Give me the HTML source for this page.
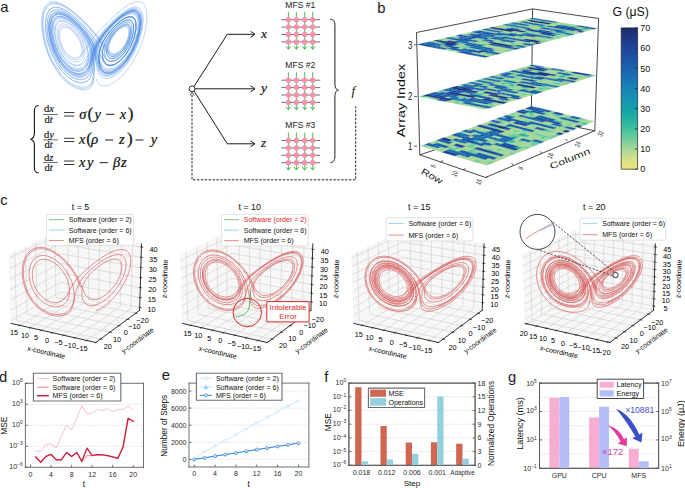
<!DOCTYPE html>
<html><head><meta charset="utf-8"><title>Figure</title><style>html,body{margin:0;padding:0;background:#fff;width:685px;height:488px;overflow:hidden}svg{display:block}</style></head><body>
<svg width="685" height="488" viewBox="0 0 685 488" version="1.1">
<defs>
<style type="text/css">*{stroke-linejoin: round; stroke-linecap: butt}</style>
</defs>
<g id="figure_1">
<g id="patch_1">
<path d="M 0 488 
L 685 488 
L 685 0 
L 0 0 
z
" style="fill: #ffffff"/>
</g>
<g id="axes_1"/>
<g id="patch_2">
<path d="M 0.5 359.7 
L 149 359.7 
L 149 211.2 
L 0.5 211.2 
z
" style="fill: #ffffff"/>
</g>
<g id="pane3d_1">
<g id="patch_3">
<path d="M 60.32 294.59 
L 11.2 323.45 
L 9.19 254.57 
L 59.86 231.23 
" style="fill: #f2f2f2; opacity: 0.6; stroke: #f2f2f2; stroke-linejoin: miter"/>
</g>
</g>
<g id="pane3d_2">
<g id="patch_4">
<path d="M 139.64 310.32 
L 60.32 294.59 
L 59.86 231.23 
L 141.5 243.93 
" style="fill: #f2f2f2; opacity: 0.6; stroke: #f2f2f2; stroke-linejoin: miter"/>
</g>
</g>
<g id="pane3d_3">
<g id="patch_5">
<path d="M 139.64 310.32 
L 60.32 294.59 
L 11.2 323.45 
L 95.88 342.53 
" style="fill: #f2f2f2; opacity: 0.6; stroke: #f2f2f2; stroke-linejoin: miter"/>
</g>
</g>
<g id="grid3d_1">
<g id="Line3DCollection_1">
<path d="M 86.68 340.46 
L 131.07 308.62 
L 132.66 242.55 
" style="fill: none; stroke: #c7c7c7; stroke-width: 0.5"/>
<path d="M 75.05 337.84 
L 120.21 306.46 
L 121.47 240.81 
" style="fill: none; stroke: #c7c7c7; stroke-width: 0.5"/>
<path d="M 63.6 335.26 
L 109.5 304.34 
L 110.45 239.1 
" style="fill: none; stroke: #c7c7c7; stroke-width: 0.5"/>
<path d="M 52.33 332.72 
L 98.95 302.25 
L 99.58 237.41 
" style="fill: none; stroke: #c7c7c7; stroke-width: 0.5"/>
<path d="M 41.22 330.22 
L 88.53 300.18 
L 88.87 235.74 
" style="fill: none; stroke: #c7c7c7; stroke-width: 0.5"/>
<path d="M 30.28 327.75 
L 78.26 298.15 
L 78.3 234.1 
" style="fill: none; stroke: #c7c7c7; stroke-width: 0.5"/>
<path d="M 19.5 325.32 
L 68.12 296.14 
L 67.88 232.48 
" style="fill: none; stroke: #c7c7c7; stroke-width: 0.5"/>
</g>
</g>
<g id="grid3d_2">
<g id="Line3DCollection_2">
<path d="M 55.21 233.37 
L 55.8 297.24 
L 135.64 313.26 
" style="fill: none; stroke: #c7c7c7; stroke-width: 0.5"/>
<path d="M 45.66 237.77 
L 46.53 302.69 
L 127.41 319.33 
" style="fill: none; stroke: #c7c7c7; stroke-width: 0.5"/>
<path d="M 35.74 242.33 
L 36.91 308.34 
L 118.84 325.63 
" style="fill: none; stroke: #c7c7c7; stroke-width: 0.5"/>
<path d="M 25.43 247.08 
L 26.92 314.22 
L 109.94 332.18 
" style="fill: none; stroke: #c7c7c7; stroke-width: 0.5"/>
<path d="M 14.71 252.02 
L 16.54 320.31 
L 100.66 339.01 
" style="fill: none; stroke: #c7c7c7; stroke-width: 0.5"/>
</g>
</g>
<g id="grid3d_3">
<g id="Line3DCollection_3">
<path d="M 139.73 307.38 
L 60.29 291.78 
L 11.11 320.41 
" style="fill: none; stroke: #c7c7c7; stroke-width: 0.5"/>
<path d="M 140 297.54 
L 60.23 282.38 
L 10.81 310.21 
" style="fill: none; stroke: #c7c7c7; stroke-width: 0.5"/>
<path d="M 140.28 287.62 
L 60.16 272.9 
L 10.51 299.92 
" style="fill: none; stroke: #c7c7c7; stroke-width: 0.5"/>
<path d="M 140.56 277.61 
L 60.09 263.34 
L 10.21 289.53 
" style="fill: none; stroke: #c7c7c7; stroke-width: 0.5"/>
<path d="M 140.84 267.5 
L 60.02 253.7 
L 9.9 279.05 
" style="fill: none; stroke: #c7c7c7; stroke-width: 0.5"/>
<path d="M 141.12 257.31 
L 59.95 243.99 
L 9.59 268.47 
" style="fill: none; stroke: #c7c7c7; stroke-width: 0.5"/>
<path d="M 141.41 247.03 
L 59.88 234.18 
L 9.28 257.79 
" style="fill: none; stroke: #c7c7c7; stroke-width: 0.5"/>
</g>
</g>
<g id="axis3d_1">
<g id="line2d_1">
<path d="M 11.2 323.45 
L 95.88 342.53 
" style="fill: none; stroke: #000000; stroke-width: 0.8; stroke-linecap: square"/>
</g>
<g id="xtick_1">
<g id="line2d_2">
<path d="M 87.08 340.18 
L 85.9 341.02 
" style="fill: none; stroke: #000000; stroke-width: 0.6; stroke-linecap: square"/>
</g>
<g id="text_1">
<text style="font-size: 7.3px; font-family: 'Liberation Sans'; text-anchor: middle" x="81.48" y="350.66" transform="rotate(-0 81.48 350.66)">−15</text>
</g>
</g>
<g id="xtick_2">
<g id="line2d_3">
<path d="M 75.45 337.56 
L 74.26 338.39 
" style="fill: none; stroke: #000000; stroke-width: 0.6; stroke-linecap: square"/>
</g>
<g id="text_2">
<text style="font-size: 7.3px; font-family: 'Liberation Sans'; text-anchor: middle" x="69.82" y="347.98" transform="rotate(-0 69.82 347.98)">−10</text>
</g>
</g>
<g id="xtick_3">
<g id="line2d_4">
<path d="M 64.01 334.99 
L 62.79 335.8 
" style="fill: none; stroke: #000000; stroke-width: 0.6; stroke-linecap: square"/>
</g>
<g id="text_3">
<text style="font-size: 7.3px; font-family: 'Liberation Sans'; text-anchor: middle" x="58.35" y="345.34" transform="rotate(-0 58.35 345.34)">−5</text>
</g>
</g>
<g id="xtick_4">
<g id="line2d_5">
<path d="M 52.74 332.45 
L 51.5 333.26 
" style="fill: none; stroke: #000000; stroke-width: 0.6; stroke-linecap: square"/>
</g>
<g id="text_4">
<text style="font-size: 7.3px; font-family: 'Liberation Sans'; text-anchor: middle" x="47.04" y="342.73" transform="rotate(-0 47.04 342.73)">0</text>
</g>
</g>
<g id="xtick_5">
<g id="line2d_6">
<path d="M 41.63 329.95 
L 40.38 330.75 
" style="fill: none; stroke: #000000; stroke-width: 0.6; stroke-linecap: square"/>
</g>
<g id="text_5">
<text style="font-size: 7.3px; font-family: 'Liberation Sans'; text-anchor: middle" x="35.91" y="340.17" transform="rotate(-0 35.91 340.17)">5</text>
</g>
</g>
<g id="xtick_6">
<g id="line2d_7">
<path d="M 30.7 327.49 
L 29.43 328.27 
" style="fill: none; stroke: #000000; stroke-width: 0.6; stroke-linecap: square"/>
</g>
<g id="text_6">
<text style="font-size: 7.3px; font-family: 'Liberation Sans'; text-anchor: middle" x="24.94" y="337.64" transform="rotate(-0 24.94 337.64)">10</text>
</g>
</g>
<g id="xtick_7">
<g id="line2d_8">
<path d="M 19.93 325.07 
L 18.64 325.84 
" style="fill: none; stroke: #000000; stroke-width: 0.6; stroke-linecap: square"/>
</g>
<g id="text_7">
<text style="font-size: 7.3px; font-family: 'Liberation Sans'; text-anchor: middle" x="14.14" y="335.16" transform="rotate(-0 14.14 335.16)">15</text>
</g>
</g>
<g id="text_8">
<text style="font-size: 7px; font-family: 'Liberation Sans'; text-anchor: middle" x="45.88" y="354.74" transform="rotate(-347.31 45.88 354.74)">x-coordinate</text>
</g>
</g>
<g id="axis3d_2">
<g id="line2d_9">
<path d="M 139.64 310.32 
L 95.88 342.53 
" style="fill: none; stroke: #000000; stroke-width: 0.8; stroke-linecap: square"/>
</g>
<g id="xtick_8">
<g id="line2d_10">
<path d="M 134.97 313.13 
L 136.99 313.53 
" style="fill: none; stroke: #000000; stroke-width: 0.6; stroke-linecap: square"/>
</g>
<g id="text_9">
<text style="font-size: 7.3px; font-family: 'Liberation Sans'; text-anchor: middle" x="142.51" y="322.80" transform="rotate(-0 142.51 322.80)">−20</text>
</g>
</g>
<g id="xtick_9">
<g id="line2d_11">
<path d="M 126.72 319.18 
L 128.77 319.61 
" style="fill: none; stroke: #000000; stroke-width: 0.6; stroke-linecap: square"/>
</g>
<g id="text_10">
<text style="font-size: 7.3px; font-family: 'Liberation Sans'; text-anchor: middle" x="134.35" y="328.95" transform="rotate(-0 134.35 328.95)">−10</text>
</g>
</g>
<g id="xtick_10">
<g id="line2d_12">
<path d="M 118.15 325.48 
L 120.23 325.92 
" style="fill: none; stroke: #000000; stroke-width: 0.6; stroke-linecap: square"/>
</g>
<g id="text_11">
<text style="font-size: 7.3px; font-family: 'Liberation Sans'; text-anchor: middle" x="125.86" y="335.34" transform="rotate(-0 125.86 335.34)">0</text>
</g>
</g>
<g id="xtick_11">
<g id="line2d_13">
<path d="M 109.24 332.03 
L 111.34 332.49 
" style="fill: none; stroke: #000000; stroke-width: 0.6; stroke-linecap: square"/>
</g>
<g id="text_12">
<text style="font-size: 7.3px; font-family: 'Liberation Sans'; text-anchor: middle" x="117.03" y="342.00" transform="rotate(-0 117.03 342.00)">10</text>
</g>
</g>
<g id="xtick_12">
<g id="line2d_14">
<path d="M 99.95 338.85 
L 102.09 339.33 
" style="fill: none; stroke: #000000; stroke-width: 0.6; stroke-linecap: square"/>
</g>
<g id="text_13">
<text style="font-size: 7.3px; font-family: 'Liberation Sans'; text-anchor: middle" x="107.84" y="348.93" transform="rotate(-0 107.84 348.93)">20</text>
</g>
</g>
<g id="text_14">
<text style="font-size: 7px; font-family: 'Liberation Sans'; text-anchor: middle" x="138.95" y="342.36" transform="rotate(-36.35 138.95 342.36)">y-coordinate</text>
</g>
</g>
<g id="axis3d_3">
<g id="line2d_15">
<path d="M 139.64 310.32 
L 141.5 243.93 
" style="fill: none; stroke: #000000; stroke-width: 0.8; stroke-linecap: square"/>
</g>
<g id="xtick_13">
<g id="line2d_16">
<path d="M 139.06 307.25 
L 141.07 307.65 
" style="fill: none; stroke: #000000; stroke-width: 0.6; stroke-linecap: square"/>
</g>
<g id="text_15">
<text style="font-size: 7.3px; font-family: 'Liberation Sans'; text-anchor: middle" x="151.58" y="311.87" transform="rotate(-0 151.58 311.87)">10</text>
</g>
</g>
<g id="xtick_14">
<g id="line2d_17">
<path d="M 139.33 297.42 
L 141.35 297.8 
" style="fill: none; stroke: #000000; stroke-width: 0.6; stroke-linecap: square"/>
</g>
<g id="text_16">
<text style="font-size: 7.3px; font-family: 'Liberation Sans'; text-anchor: middle" x="151.89" y="302.05" transform="rotate(-0 151.89 302.05)">15</text>
</g>
</g>
<g id="xtick_15">
<g id="line2d_18">
<path d="M 139.6 287.49 
L 141.63 287.87 
" style="fill: none; stroke: #000000; stroke-width: 0.6; stroke-linecap: square"/>
</g>
<g id="text_17">
<text style="font-size: 7.3px; font-family: 'Liberation Sans'; text-anchor: middle" x="152.20" y="292.15" transform="rotate(-0 152.20 292.15)">20</text>
</g>
</g>
<g id="xtick_16">
<g id="line2d_19">
<path d="M 139.88 277.49 
L 141.92 277.85 
" style="fill: none; stroke: #000000; stroke-width: 0.6; stroke-linecap: square"/>
</g>
<g id="text_18">
<text style="font-size: 7.3px; font-family: 'Liberation Sans'; text-anchor: middle" x="152.51" y="282.16" transform="rotate(-0 152.51 282.16)">25</text>
</g>
</g>
<g id="xtick_17">
<g id="line2d_20">
<path d="M 140.16 267.39 
L 142.2 267.74 
" style="fill: none; stroke: #000000; stroke-width: 0.6; stroke-linecap: square"/>
</g>
<g id="text_19">
<text style="font-size: 7.3px; font-family: 'Liberation Sans'; text-anchor: middle" x="152.83" y="272.08" transform="rotate(-0 152.83 272.08)">30</text>
</g>
</g>
<g id="xtick_18">
<g id="line2d_21">
<path d="M 140.44 257.2 
L 142.49 257.54 
" style="fill: none; stroke: #000000; stroke-width: 0.6; stroke-linecap: square"/>
</g>
<g id="text_20">
<text style="font-size: 7.3px; font-family: 'Liberation Sans'; text-anchor: middle" x="153.15" y="261.92" transform="rotate(-0 153.15 261.92)">35</text>
</g>
</g>
<g id="xtick_19">
<g id="line2d_22">
<path d="M 140.72 246.92 
L 142.79 247.25 
" style="fill: none; stroke: #000000; stroke-width: 0.6; stroke-linecap: square"/>
</g>
<g id="text_21">
<text style="font-size: 7.3px; font-family: 'Liberation Sans'; text-anchor: middle" x="153.47" y="251.66" transform="rotate(-0 153.47 251.66)">40</text>
</g>
</g>
<g id="text_22">
<text style="font-size: 7px; font-family: 'Liberation Sans'; text-anchor: middle" x="167.21" y="278.96" transform="rotate(-88.4 167.21 278.96)">z-coordinate</text>
</g>
</g>
<g id="axes_2">
<g id="line2d_23">
<path d="M 96.13 310.8 
L 99 309.45 
L 101.38 308.09 
L 103.97 306.39 
L 106.75 304.28 
L 109.71 301.74 
L 112.8 298.7 
L 115.98 295.13 
L 118.1 292.46 
L 120.2 289.54 
L 122.23 286.41 
L 124.15 283.07 
L 125.92 279.56 
L 127.49 275.94 
L 128.81 272.25 
L 129.82 268.57 
L 130.48 264.99 
L 130.74 261.6 
L 130.58 258.48 
L 130.33 257.05 
L 129.97 255.73 
L 129.5 254.52 
L 128.91 253.43 
L 128.22 252.46 
L 127.42 251.63 
L 126.51 250.93 
L 125.52 250.38 
L 124.43 249.96 
L 123.25 249.69 
L 122.01 249.55 
L 120.69 249.54 
L 119.31 249.66 
L 116.42 250.26 
L 113.38 251.27 
L 110.29 252.63 
L 107.18 254.25 
L 104.13 256.05 
L 99.73 258.96 
L 95.63 261.93 
L 90.75 265.78 
L 86.58 269.34 
L 82.29 273.3 
L 78.92 276.74 
L 76.29 279.78 
L 74.23 282.51 
L 72.31 285.48 
L 70.55 288.65 
L 66.99 295.31 
L 65.62 297.29 
L 64.34 298.78 
L 62.87 300.09 
L 61.55 300.99 
L 60.08 301.72 
L 58.43 302.27 
L 56.6 302.6 
L 55.11 302.67 
L 53.5 302.57 
L 51.79 302.28 
L 49.98 301.76 
L 48.08 300.99 
L 46.11 299.94 
L 44.1 298.58 
L 42.07 296.88 
L 40.09 294.83 
L 38.19 292.43 
L 37 290.63 
L 35.9 288.69 
L 34.91 286.61 
L 34.06 284.41 
L 33.35 282.12 
L 32.82 279.77 
L 32.47 277.38 
L 32.33 275 
L 32.4 272.66 
L 32.7 270.41 
L 33.21 268.29 
L 33.93 266.33 
L 34.85 264.57 
L 35.96 263.04 
L 37.23 261.76 
L 38.64 260.75 
L 40.17 260 
L 41.79 259.52 
L 43.47 259.3 
L 45.18 259.33 
L 46.91 259.58 
L 48.63 260.04 
L 50.32 260.67 
L 51.97 261.47 
L 54.33 262.9 
L 56.53 264.55 
L 58.54 266.36 
L 60.37 268.26 
L 62.5 270.86 
L 64.29 273.49 
L 65.77 276.07 
L 66.96 278.57 
L 67.89 280.98 
L 68.74 283.86 
L 69.28 286.56 
L 69.56 289.11 
L 69.61 291.49 
L 69.45 293.73 
L 69.11 295.82 
L 68.58 297.76 
L 67.86 299.57 
L 66.95 301.23 
L 65.82 302.74 
L 64.74 303.82 
L 63.5 304.79 
L 62.08 305.61 
L 60.45 306.26 
L 58.61 306.72 
L 57.07 306.9 
L 55.4 306.92 
L 53.59 306.76 
L 51.64 306.37 
L 49.56 305.74 
L 47.35 304.8 
L 45.04 303.53 
L 42.67 301.89 
L 41.07 300.56 
L 39.47 299.04 
L 37.89 297.31 
L 36.37 295.38 
L 34.91 293.25 
L 33.55 290.91 
L 32.32 288.4 
L 31.24 285.72 
L 30.36 282.9 
L 29.68 279.99 
L 29.25 277.02 
L 29.08 274.06 
L 29.19 271.14 
L 29.58 268.35 
L 30.26 265.72 
L 31.21 263.32 
L 32.41 261.19 
L 33.85 259.37 
L 35.49 257.88 
L 37.29 256.75 
L 39.23 255.98 
L 41.26 255.55 
L 43.35 255.45 
L 45.46 255.65 
L 47.56 256.12 
L 49.63 256.83 
L 51.65 257.75 
L 53.59 258.82 
L 56.34 260.68 
L 58.87 262.75 
L 61.16 264.93 
L 63.2 267.17 
L 65.01 269.42 
L 67.07 272.38 
L 68.77 275.24 
L 70.15 277.98 
L 71.5 281.21 
L 72.49 284.24 
L 73.19 287.06 
L 73.74 290.2 
L 74.08 293.55 
L 74.16 296.62 
L 74.02 299.82 
L 73.64 302.72 
L 73.12 305.06 
L 72.41 307.22 
L 71.62 308.94 
L 70.61 310.54 
L 69.58 311.78 
L 68.34 312.93 
L 66.83 313.96 
L 65.41 314.68 
L 63.77 315.29 
L 61.87 315.76 
L 59.67 316.04 
L 57.82 316.09 
L 55.77 315.96 
L 53.51 315.62 
L 51.04 315.02 
L 48.36 314.1 
L 45.48 312.78 
L 43.46 311.65 
L 41.38 310.29 
L 39.24 308.67 
L 37.07 306.77 
L 34.9 304.57 
L 32.76 302.05 
L 30.69 299.21 
L 28.72 296.04 
L 26.92 292.55 
L 25.34 288.77 
L 24.02 284.74 
L 23.03 280.52 
L 22.41 276.19 
L 22.2 271.83 
L 22.26 269.68 
L 22.43 267.56 
L 22.71 265.49 
L 23.11 263.48 
L 23.62 261.55 
L 24.24 259.7 
L 24.97 257.96 
L 25.8 256.32 
L 26.73 254.81 
L 27.75 253.42 
L 28.85 252.18 
L 30.03 251.07 
L 31.28 250.1 
L 32.59 249.28 
L 33.95 248.61 
L 35.36 248.08 
L 36.79 247.69 
L 38.26 247.44 
L 39.75 247.32 
L 41.24 247.33 
L 44.24 247.69 
L 47.2 248.45 
L 50.09 249.56 
L 52.87 250.94 
L 55.52 252.52 
L 58.02 254.26 
L 60.37 256.1 
L 63.58 258.95 
L 66.43 261.82 
L 68.94 264.64 
L 71.79 268.24 
L 74.15 271.61 
L 76.09 274.73 
L 78.05 278.3 
L 79.87 282.11 
L 81.94 287.01 
L 84.18 292.26 
L 85.32 294.39 
L 86.37 295.91 
L 87.54 297.21 
L 88.59 298.08 
L 89.76 298.77 
L 91.08 299.27 
L 92.56 299.56 
L 94.22 299.61 
L 96.06 299.39 
L 98.11 298.86 
L 100.36 297.97 
L 102.17 297.03 
L 104.09 295.85 
L 106.09 294.4 
L 108.16 292.66 
L 110.27 290.62 
L 112.37 288.29 
L 114.42 285.67 
L 116.36 282.8 
L 118.11 279.72 
L 119.61 276.51 
L 120.43 274.33 
L 121.07 272.17 
L 121.52 270.07 
L 121.76 268.05 
L 121.78 266.16 
L 121.56 264.43 
L 121.11 262.91 
L 120.42 261.61 
L 119.51 260.57 
L 118.39 259.79 
L 117.07 259.29 
L 115.58 259.06 
L 113.96 259.09 
L 112.22 259.37 
L 110.41 259.87 
L 108.54 260.56 
L 105.71 261.89 
L 102.92 263.49 
L 100.23 265.27 
L 96.9 267.79 
L 93.91 270.35 
L 91.32 272.87 
L 89.11 275.29 
L 87.27 277.6 
L 85.77 279.79 
L 84.57 281.88 
L 83.42 284.35 
L 82.62 286.69 
L 82.09 288.9 
L 81.8 291 
L 81.7 293.38 
L 81.83 295.6 
L 82.18 297.65 
L 82.74 299.53 
L 83.36 300.95 
L 84.14 302.23 
L 85.1 303.35 
L 86.02 304.11 
L 87.07 304.75 
L 88.29 305.23 
L 89.69 305.54 
L 91.29 305.65 
L 93.11 305.51 
L 95.18 305.09 
L 97.51 304.32 
L 99.44 303.48 
L 101.51 302.38 
L 103.74 300.99 
L 106.11 299.27 
L 108.59 297.19 
L 111.16 294.73 
L 113.77 291.87 
L 116.36 288.62 
L 118.84 284.99 
L 120.39 282.39 
L 121.83 279.66 
L 123.11 276.86 
L 124.2 274.01 
L 125.06 271.16 
L 125.68 268.37 
L 126 265.69 
L 126.02 263.19 
L 125.72 260.93 
L 125.09 258.95 
L 124.65 258.09 
L 124.14 257.31 
L 123.54 256.63 
L 122.87 256.04 
L 122.13 255.55 
L 121.31 255.16 
L 120.44 254.87 
L 118.51 254.58 
L 116.4 254.66 
L 114.13 255.08 
L 111.76 255.81 
L 109.34 256.79 
L 106.89 257.99 
L 103.28 260.06 
L 99.83 262.35 
L 96.59 264.72 
L 92.7 267.88 
L 89.33 270.9 
L 86.47 273.74 
L 84.09 276.37 
L 82.13 278.82 
L 80.54 281.11 
L 78.96 283.79 
L 77.76 286.3 
L 76.67 289.14 
L 75.73 292.25 
L 74.64 296.77 
L 73.38 301.91 
L 72.51 304.56 
L 71.57 306.71 
L 70.58 308.42 
L 69.57 309.74 
L 68.37 310.97 
L 66.94 312.09 
L 65.59 312.88 
L 64.03 313.57 
L 62.24 314.11 
L 60.17 314.48 
L 57.81 314.62 
L 55.82 314.52 
L 53.64 314.22 
L 51.26 313.67 
L 48.69 312.81 
L 45.92 311.57 
L 43.99 310.51 
L 41.99 309.22 
L 39.95 307.7 
L 37.87 305.91 
L 35.8 303.85 
L 33.74 301.49 
L 31.75 298.82 
L 29.86 295.85 
L 28.12 292.58 
L 26.58 289.04 
L 25.27 285.25 
L 24.27 281.29 
L 23.6 277.2 
L 23.31 273.08 
L 23.43 269.01 
L 23.97 265.1 
L 24.4 263.24 
L 24.93 261.45 
L 25.56 259.74 
L 26.29 258.14 
L 27.12 256.64 
L 28.04 255.26 
L 29.03 254 
L 30.11 252.87 
L 31.25 251.87 
L 32.45 251.01 
L 33.71 250.28 
L 35.02 249.69 
L 36.36 249.23 
L 37.74 248.9 
L 39.13 248.7 
L 40.55 248.61 
L 43.4 248.79 
L 46.23 249.37 
L 49.01 250.3 
L 51.71 251.51 
L 54.29 252.94 
L 56.74 254.54 
L 59.04 256.26 
L 62.22 258.97 
L 65.05 261.74 
L 67.55 264.49 
L 69.74 267.17 
L 72.22 270.58 
L 74.27 273.77 
L 76.32 277.44 
L 77.94 280.77 
L 79.67 284.92 
L 80.47 287.06 
L 80.47 287.06 
" clip-path="url(#p94906d49ec)" style="fill: none; stroke: #d45252; stroke-width: 0.62; stroke-linecap: square"/>
</g>
</g>
<g id="patch_6">
<path d="M 171.8 359.7 
L 320.3 359.7 
L 320.3 211.2 
L 171.8 211.2 
z
" style="fill: #ffffff"/>
</g>
<g id="pane3d_4">
<g id="patch_7">
<path d="M 231.62 294.59 
L 182.5 323.45 
L 180.49 254.57 
L 231.16 231.23 
" style="fill: #f2f2f2; opacity: 0.6; stroke: #f2f2f2; stroke-linejoin: miter"/>
</g>
</g>
<g id="pane3d_5">
<g id="patch_8">
<path d="M 310.94 310.32 
L 231.62 294.59 
L 231.16 231.23 
L 312.8 243.93 
" style="fill: #f2f2f2; opacity: 0.6; stroke: #f2f2f2; stroke-linejoin: miter"/>
</g>
</g>
<g id="pane3d_6">
<g id="patch_9">
<path d="M 310.94 310.32 
L 231.62 294.59 
L 182.5 323.45 
L 267.18 342.53 
" style="fill: #f2f2f2; opacity: 0.6; stroke: #f2f2f2; stroke-linejoin: miter"/>
</g>
</g>
<g id="grid3d_4">
<g id="Line3DCollection_4">
<path d="M 257.98 340.46 
L 302.37 308.62 
L 303.96 242.55 
" style="fill: none; stroke: #c7c7c7; stroke-width: 0.5"/>
<path d="M 246.35 337.84 
L 291.51 306.46 
L 292.77 240.81 
" style="fill: none; stroke: #c7c7c7; stroke-width: 0.5"/>
<path d="M 234.9 335.26 
L 280.8 304.34 
L 281.75 239.1 
" style="fill: none; stroke: #c7c7c7; stroke-width: 0.5"/>
<path d="M 223.63 332.72 
L 270.25 302.25 
L 270.88 237.41 
" style="fill: none; stroke: #c7c7c7; stroke-width: 0.5"/>
<path d="M 212.52 330.22 
L 259.83 300.18 
L 260.17 235.74 
" style="fill: none; stroke: #c7c7c7; stroke-width: 0.5"/>
<path d="M 201.58 327.75 
L 249.56 298.15 
L 249.6 234.1 
" style="fill: none; stroke: #c7c7c7; stroke-width: 0.5"/>
<path d="M 190.8 325.32 
L 239.42 296.14 
L 239.18 232.48 
" style="fill: none; stroke: #c7c7c7; stroke-width: 0.5"/>
</g>
</g>
<g id="grid3d_5">
<g id="Line3DCollection_5">
<path d="M 226.51 233.37 
L 227.1 297.24 
L 306.94 313.26 
" style="fill: none; stroke: #c7c7c7; stroke-width: 0.5"/>
<path d="M 216.96 237.77 
L 217.83 302.69 
L 298.71 319.33 
" style="fill: none; stroke: #c7c7c7; stroke-width: 0.5"/>
<path d="M 207.04 242.33 
L 208.21 308.34 
L 290.14 325.63 
" style="fill: none; stroke: #c7c7c7; stroke-width: 0.5"/>
<path d="M 196.73 247.08 
L 198.22 314.22 
L 281.24 332.18 
" style="fill: none; stroke: #c7c7c7; stroke-width: 0.5"/>
<path d="M 186.01 252.02 
L 187.84 320.31 
L 271.96 339.01 
" style="fill: none; stroke: #c7c7c7; stroke-width: 0.5"/>
</g>
</g>
<g id="grid3d_6">
<g id="Line3DCollection_6">
<path d="M 311.18 301.8 
L 231.56 286.45 
L 182.24 314.63 
" style="fill: none; stroke: #c7c7c7; stroke-width: 0.5"/>
<path d="M 311.42 293.22 
L 231.5 278.25 
L 181.98 305.73 
" style="fill: none; stroke: #c7c7c7; stroke-width: 0.5"/>
<path d="M 311.66 284.57 
L 231.44 269.99 
L 181.72 296.76 
" style="fill: none; stroke: #c7c7c7; stroke-width: 0.5"/>
<path d="M 311.91 275.86 
L 231.38 261.68 
L 181.46 287.72 
" style="fill: none; stroke: #c7c7c7; stroke-width: 0.5"/>
<path d="M 312.15 267.08 
L 231.32 253.3 
L 181.19 278.61 
" style="fill: none; stroke: #c7c7c7; stroke-width: 0.5"/>
<path d="M 312.4 258.23 
L 231.25 244.86 
L 180.92 269.42 
" style="fill: none; stroke: #c7c7c7; stroke-width: 0.5"/>
<path d="M 312.65 249.31 
L 231.19 236.36 
L 180.65 260.16 
" style="fill: none; stroke: #c7c7c7; stroke-width: 0.5"/>
</g>
</g>
<g id="axis3d_4">
<g id="line2d_24">
<path d="M 182.5 323.45 
L 267.18 342.53 
" style="fill: none; stroke: #000000; stroke-width: 0.8; stroke-linecap: square"/>
</g>
<g id="xtick_20">
<g id="line2d_25">
<path d="M 258.38 340.18 
L 257.2 341.02 
" style="fill: none; stroke: #000000; stroke-width: 0.6; stroke-linecap: square"/>
</g>
<g id="text_23">
<text style="font-size: 7.3px; font-family: 'Liberation Sans'; text-anchor: middle" x="254.78" y="351.36" transform="rotate(-0 254.78 351.36)">−15</text>
</g>
</g>
<g id="xtick_21">
<g id="line2d_26">
<path d="M 246.75 337.56 
L 245.56 338.39 
" style="fill: none; stroke: #000000; stroke-width: 0.6; stroke-linecap: square"/>
</g>
<g id="text_24">
<text style="font-size: 7.3px; font-family: 'Liberation Sans'; text-anchor: middle" x="243.12" y="348.68" transform="rotate(-0 243.12 348.68)">−10</text>
</g>
</g>
<g id="xtick_22">
<g id="line2d_27">
<path d="M 235.31 334.99 
L 234.09 335.8 
" style="fill: none; stroke: #000000; stroke-width: 0.6; stroke-linecap: square"/>
</g>
<g id="text_25">
<text style="font-size: 7.3px; font-family: 'Liberation Sans'; text-anchor: middle" x="231.65" y="346.04" transform="rotate(-0 231.65 346.04)">−5</text>
</g>
</g>
<g id="xtick_23">
<g id="line2d_28">
<path d="M 224.04 332.45 
L 222.8 333.26 
" style="fill: none; stroke: #000000; stroke-width: 0.6; stroke-linecap: square"/>
</g>
<g id="text_26">
<text style="font-size: 7.3px; font-family: 'Liberation Sans'; text-anchor: middle" x="220.34" y="343.43" transform="rotate(-0 220.34 343.43)">0</text>
</g>
</g>
<g id="xtick_24">
<g id="line2d_29">
<path d="M 212.93 329.95 
L 211.68 330.75 
" style="fill: none; stroke: #000000; stroke-width: 0.6; stroke-linecap: square"/>
</g>
<g id="text_27">
<text style="font-size: 7.3px; font-family: 'Liberation Sans'; text-anchor: middle" x="209.21" y="340.87" transform="rotate(-0 209.21 340.87)">5</text>
</g>
</g>
<g id="xtick_25">
<g id="line2d_30">
<path d="M 202 327.49 
L 200.73 328.27 
" style="fill: none; stroke: #000000; stroke-width: 0.6; stroke-linecap: square"/>
</g>
<g id="text_28">
<text style="font-size: 7.3px; font-family: 'Liberation Sans'; text-anchor: middle" x="198.24" y="338.34" transform="rotate(-0 198.24 338.34)">10</text>
</g>
</g>
<g id="xtick_26">
<g id="line2d_31">
<path d="M 191.23 325.07 
L 189.94 325.84 
" style="fill: none; stroke: #000000; stroke-width: 0.6; stroke-linecap: square"/>
</g>
<g id="text_29">
<text style="font-size: 7.3px; font-family: 'Liberation Sans'; text-anchor: middle" x="187.44" y="335.86" transform="rotate(-0 187.44 335.86)">15</text>
</g>
</g>
<g id="text_30">
<text style="font-size: 7px; font-family: 'Liberation Sans'; text-anchor: middle" x="217.18" y="354.74" transform="rotate(-347.31 217.18 354.74)">x-coordinate</text>
</g>
</g>
<g id="axis3d_5">
<g id="line2d_32">
<path d="M 310.94 310.32 
L 267.18 342.53 
" style="fill: none; stroke: #000000; stroke-width: 0.8; stroke-linecap: square"/>
</g>
<g id="xtick_27">
<g id="line2d_33">
<path d="M 306.27 313.13 
L 308.29 313.53 
" style="fill: none; stroke: #000000; stroke-width: 0.6; stroke-linecap: square"/>
</g>
<g id="text_31">
<text style="font-size: 7.3px; font-family: 'Liberation Sans'; text-anchor: middle" x="317.81" y="322.20" transform="rotate(-0 317.81 322.20)">−20</text>
</g>
</g>
<g id="xtick_28">
<g id="line2d_34">
<path d="M 298.02 319.18 
L 300.07 319.61 
" style="fill: none; stroke: #000000; stroke-width: 0.6; stroke-linecap: square"/>
</g>
<g id="text_32">
<text style="font-size: 7.3px; font-family: 'Liberation Sans'; text-anchor: middle" x="309.65" y="328.35" transform="rotate(-0 309.65 328.35)">−10</text>
</g>
</g>
<g id="xtick_29">
<g id="line2d_35">
<path d="M 289.45 325.48 
L 291.53 325.92 
" style="fill: none; stroke: #000000; stroke-width: 0.6; stroke-linecap: square"/>
</g>
<g id="text_33">
<text style="font-size: 7.3px; font-family: 'Liberation Sans'; text-anchor: middle" x="301.16" y="334.74" transform="rotate(-0 301.16 334.74)">0</text>
</g>
</g>
<g id="xtick_30">
<g id="line2d_36">
<path d="M 280.54 332.03 
L 282.64 332.49 
" style="fill: none; stroke: #000000; stroke-width: 0.6; stroke-linecap: square"/>
</g>
<g id="text_34">
<text style="font-size: 7.3px; font-family: 'Liberation Sans'; text-anchor: middle" x="292.33" y="341.40" transform="rotate(-0 292.33 341.40)">10</text>
</g>
</g>
<g id="xtick_31">
<g id="line2d_37">
<path d="M 271.25 338.85 
L 273.39 339.33 
" style="fill: none; stroke: #000000; stroke-width: 0.6; stroke-linecap: square"/>
</g>
<g id="text_35">
<text style="font-size: 7.3px; font-family: 'Liberation Sans'; text-anchor: middle" x="283.14" y="348.33" transform="rotate(-0 283.14 348.33)">20</text>
</g>
</g>
<g id="text_36">
<text style="font-size: 7px; font-family: 'Liberation Sans'; text-anchor: middle" x="312.85" y="342.36" transform="rotate(-36.35 312.85 342.36)">y-coordinate</text>
</g>
</g>
<g id="axis3d_6">
<g id="line2d_38">
<path d="M 310.94 310.32 
L 312.8 243.93 
" style="fill: none; stroke: #000000; stroke-width: 0.8; stroke-linecap: square"/>
</g>
<g id="xtick_32">
<g id="line2d_39">
<path d="M 310.51 301.67 
L 312.52 302.06 
" style="fill: none; stroke: #000000; stroke-width: 0.6; stroke-linecap: square"/>
</g>
<g id="text_37">
<text style="font-size: 7.3px; font-family: 'Liberation Sans'; text-anchor: middle" x="323.05" y="306.30" transform="rotate(-0 323.05 306.30)">10</text>
</g>
</g>
<g id="xtick_33">
<g id="line2d_40">
<path d="M 310.75 293.09 
L 312.77 293.47 
" style="fill: none; stroke: #000000; stroke-width: 0.6; stroke-linecap: square"/>
</g>
<g id="text_38">
<text style="font-size: 7.3px; font-family: 'Liberation Sans'; text-anchor: middle" x="323.32" y="297.74" transform="rotate(-0 323.32 297.74)">15</text>
</g>
</g>
<g id="xtick_34">
<g id="line2d_41">
<path d="M 310.99 284.45 
L 313.02 284.82 
" style="fill: none; stroke: #000000; stroke-width: 0.6; stroke-linecap: square"/>
</g>
<g id="text_39">
<text style="font-size: 7.3px; font-family: 'Liberation Sans'; text-anchor: middle" x="323.59" y="289.11" transform="rotate(-0 323.59 289.11)">20</text>
</g>
</g>
<g id="xtick_35">
<g id="line2d_42">
<path d="M 311.23 275.74 
L 313.26 276.1 
" style="fill: none; stroke: #000000; stroke-width: 0.6; stroke-linecap: square"/>
</g>
<g id="text_40">
<text style="font-size: 7.3px; font-family: 'Liberation Sans'; text-anchor: middle" x="323.87" y="280.42" transform="rotate(-0 323.87 280.42)">25</text>
</g>
</g>
<g id="xtick_36">
<g id="line2d_43">
<path d="M 311.47 266.96 
L 313.52 267.31 
" style="fill: none; stroke: #000000; stroke-width: 0.6; stroke-linecap: square"/>
</g>
<g id="text_41">
<text style="font-size: 7.3px; font-family: 'Liberation Sans'; text-anchor: middle" x="324.14" y="271.66" transform="rotate(-0 324.14 271.66)">30</text>
</g>
</g>
<g id="xtick_37">
<g id="line2d_44">
<path d="M 311.71 258.12 
L 313.77 258.46 
" style="fill: none; stroke: #000000; stroke-width: 0.6; stroke-linecap: square"/>
</g>
<g id="text_42">
<text style="font-size: 7.3px; font-family: 'Liberation Sans'; text-anchor: middle" x="324.42" y="262.83" transform="rotate(-0 324.42 262.83)">35</text>
</g>
</g>
<g id="xtick_38">
<g id="line2d_45">
<path d="M 311.96 249.2 
L 314.02 249.53 
" style="fill: none; stroke: #000000; stroke-width: 0.6; stroke-linecap: square"/>
</g>
<g id="text_43">
<text style="font-size: 7.3px; font-family: 'Liberation Sans'; text-anchor: middle" x="324.70" y="253.93" transform="rotate(-0 324.70 253.93)">40</text>
</g>
</g>
<g id="text_44">
<text style="font-size: 7px; font-family: 'Liberation Sans'; text-anchor: middle" x="338.51" y="278.96" transform="rotate(-88.4 338.51 278.96)">z-coordinate</text>
</g>
</g>
<g id="axes_3">
<g id="line2d_46">
<path d="M 267.48 305.12 
L 270.35 303.88 
L 272.74 302.66 
L 275.33 301.12 
L 278.12 299.25 
L 281.08 296.98 
L 284.17 294.28 
L 287.35 291.14 
L 289.47 288.78 
L 291.56 286.23 
L 293.59 283.49 
L 295.5 280.58 
L 297.27 277.54 
L 298.83 274.4 
L 300.13 271.23 
L 301.13 268.07 
L 301.78 265.02 
L 302.03 262.14 
L 302 260.79 
L 301.85 259.52 
L 301.6 258.33 
L 301.23 257.23 
L 300.76 256.22 
L 300.17 255.33 
L 299.47 254.55 
L 298.67 253.88 
L 297.76 253.33 
L 296.76 252.91 
L 295.67 252.6 
L 294.5 252.42 
L 293.25 252.35 
L 290.56 252.55 
L 287.67 253.16 
L 284.64 254.12 
L 281.55 255.36 
L 278.45 256.82 
L 273.91 259.27 
L 269.61 261.85 
L 264.4 265.27 
L 258.85 269.23 
L 254.37 272.69 
L 250.83 275.7 
L 248.06 278.34 
L 245.9 280.69 
L 244.2 282.85 
L 242.31 285.64 
L 237.61 293.04 
L 236.15 294.7 
L 234.76 295.92 
L 233.17 296.98 
L 231.73 297.68 
L 230.13 298.23 
L 228.34 298.59 
L 226.37 298.74 
L 224.2 298.62 
L 222.45 298.33 
L 220.61 297.83 
L 218.68 297.11 
L 216.7 296.13 
L 214.68 294.87 
L 212.66 293.31 
L 210.7 291.44 
L 208.84 289.24 
L 207.7 287.61 
L 206.66 285.86 
L 205.74 283.98 
L 204.96 282.01 
L 204.34 279.97 
L 203.91 277.88 
L 203.67 275.77 
L 203.64 273.68 
L 203.83 271.64 
L 204.23 269.69 
L 204.85 267.86 
L 205.68 266.2 
L 206.7 264.71 
L 207.89 263.44 
L 209.24 262.39 
L 210.71 261.57 
L 212.29 261 
L 213.94 260.65 
L 215.64 260.53 
L 217.36 260.62 
L 219.09 260.9 
L 220.79 261.36 
L 223.28 262.32 
L 225.63 263.54 
L 227.83 264.97 
L 229.84 266.54 
L 231.67 268.21 
L 233.79 270.49 
L 235.59 272.8 
L 237.06 275.07 
L 238.25 277.28 
L 239.18 279.41 
L 240.03 281.94 
L 240.57 284.33 
L 240.85 286.57 
L 240.9 288.68 
L 240.74 290.65 
L 240.4 292.49 
L 239.87 294.21 
L 239.15 295.8 
L 238.23 297.28 
L 237.1 298.62 
L 236.02 299.59 
L 234.78 300.45 
L 233.35 301.19 
L 231.72 301.8 
L 229.87 302.23 
L 227.79 302.45 
L 225.47 302.41 
L 223.56 302.17 
L 221.51 301.73 
L 219.35 301.04 
L 217.07 300.06 
L 214.71 298.77 
L 212.31 297.12 
L 210.72 295.81 
L 209.14 294.32 
L 207.62 292.65 
L 206.16 290.79 
L 204.81 288.76 
L 203.58 286.56 
L 202.51 284.22 
L 201.63 281.75 
L 200.97 279.19 
L 200.54 276.57 
L 200.38 273.95 
L 200.5 271.37 
L 200.89 268.89 
L 201.57 266.54 
L 202.53 264.39 
L 203.73 262.48 
L 205.17 260.83 
L 206.81 259.48 
L 208.62 258.43 
L 210.56 257.7 
L 212.59 257.27 
L 214.67 257.14 
L 216.78 257.27 
L 218.88 257.65 
L 220.95 258.24 
L 222.96 259.01 
L 224.91 259.93 
L 227.65 261.53 
L 230.17 263.33 
L 232.46 265.23 
L 234.5 267.2 
L 236.86 269.83 
L 238.83 272.41 
L 240.44 274.91 
L 241.75 277.3 
L 243.02 280.12 
L 243.94 282.74 
L 244.7 285.67 
L 245.17 288.35 
L 245.42 291.23 
L 245.45 293.85 
L 245.24 296.59 
L 244.8 299.09 
L 244.24 301.09 
L 243.46 302.96 
L 242.6 304.44 
L 241.51 305.83 
L 240.39 306.9 
L 239.05 307.89 
L 237.42 308.77 
L 235.89 309.39 
L 234.12 309.9 
L 232.07 310.27 
L 229.71 310.46 
L 227.01 310.4 
L 224.75 310.14 
L 222.28 309.66 
L 219.6 308.9 
L 216.71 307.8 
L 214.69 306.85 
L 212.61 305.69 
L 210.47 304.3 
L 208.3 302.67 
L 206.13 300.78 
L 203.99 298.61 
L 201.92 296.14 
L 199.97 293.38 
L 198.17 290.34 
L 196.6 287.04 
L 195.29 283.51 
L 194.31 279.8 
L 193.7 275.98 
L 193.51 272.14 
L 193.57 270.23 
L 193.75 268.35 
L 194.04 266.51 
L 194.44 264.72 
L 194.96 263 
L 195.58 261.35 
L 196.31 259.79 
L 197.15 258.32 
L 198.08 256.95 
L 199.1 255.7 
L 200.2 254.57 
L 201.38 253.55 
L 202.63 252.67 
L 203.94 251.91 
L 205.3 251.28 
L 206.7 250.77 
L 208.14 250.39 
L 209.61 250.14 
L 211.09 249.99 
L 214.08 250.04 
L 217.06 250.48 
L 219.99 251.25 
L 222.82 252.3 
L 225.53 253.57 
L 228.11 255.01 
L 230.53 256.56 
L 233.86 259.01 
L 236.82 261.53 
L 239.44 264.03 
L 242.43 267.25 
L 244.9 270.28 
L 246.94 273.1 
L 248.99 276.31 
L 250.9 279.75 
L 253.04 284.16 
L 255.31 288.85 
L 256.44 290.75 
L 257.46 292.11 
L 258.61 293.27 
L 259.63 294.05 
L 260.78 294.67 
L 262.06 295.13 
L 263.51 295.41 
L 265.12 295.48 
L 266.92 295.32 
L 268.92 294.89 
L 271.12 294.16 
L 273.52 293.08 
L 276.1 291.62 
L 278.13 290.24 
L 280.21 288.62 
L 282.32 286.74 
L 284.41 284.61 
L 286.43 282.25 
L 288.31 279.68 
L 289.98 276.96 
L 291.36 274.17 
L 292.09 272.31 
L 292.63 270.48 
L 292.97 268.72 
L 293.1 267.06 
L 293 265.53 
L 292.66 264.17 
L 292.08 263 
L 291.28 262.04 
L 290.25 261.31 
L 289.03 260.81 
L 287.62 260.55 
L 286.06 260.53 
L 284.38 260.71 
L 282.6 261.1 
L 279.82 262 
L 277 263.2 
L 274.21 264.63 
L 270.66 266.73 
L 267.41 268.94 
L 264.53 271.15 
L 262.03 273.29 
L 259.92 275.34 
L 258.17 277.29 
L 256.75 279.14 
L 255.37 281.32 
L 254.37 283.39 
L 253.68 285.34 
L 253.25 287.2 
L 253.02 289.31 
L 253.04 291.28 
L 253.29 293.12 
L 253.74 294.81 
L 254.4 296.35 
L 255.12 297.5 
L 256.01 298.51 
L 257.09 299.37 
L 258.12 299.93 
L 259.29 300.36 
L 260.65 300.64 
L 262.2 300.75 
L 263.97 300.66 
L 265.98 300.32 
L 268.25 299.68 
L 270.78 298.71 
L 273.59 297.33 
L 275.87 295.98 
L 278.28 294.35 
L 280.8 292.4 
L 283.39 290.11 
L 286 287.48 
L 288.55 284.51 
L 290.98 281.24 
L 292.47 278.93 
L 293.82 276.53 
L 295 274.08 
L 295.98 271.63 
L 296.71 269.21 
L 297.18 266.87 
L 297.35 264.67 
L 297.2 262.66 
L 296.73 260.88 
L 295.93 259.39 
L 295.41 258.76 
L 294.81 258.2 
L 293.39 257.35 
L 291.7 256.84 
L 289.78 256.67 
L 287.66 256.81 
L 285.4 257.25 
L 283.03 257.94 
L 280.61 258.85 
L 276.96 260.51 
L 273.39 262.43 
L 270.01 264.47 
L 265.87 267.22 
L 262.25 269.9 
L 259.14 272.41 
L 255.95 275.3 
L 253.44 277.93 
L 251.49 280.35 
L 250 282.6 
L 248.85 284.73 
L 247.81 287.14 
L 246.91 289.79 
L 245.76 294 
L 244.57 298.11 
L 243.68 300.41 
L 242.71 302.27 
L 241.68 303.76 
L 240.63 304.93 
L 239.39 306 
L 237.9 306.98 
L 236.11 307.84 
L 234.43 308.41 
L 232.5 308.85 
L 230.29 309.12 
L 227.76 309.17 
L 225.64 309.01 
L 223.32 308.64 
L 220.81 308.03 
L 218.1 307.11 
L 215.22 305.83 
L 213.22 304.74 
L 211.18 303.44 
L 209.1 301.9 
L 207.03 300.13 
L 204.98 298.09 
L 202.99 295.78 
L 201.11 293.19 
L 199.37 290.34 
L 197.84 287.25 
L 196.54 283.94 
L 195.55 280.45 
L 194.89 276.85 
L 194.61 273.21 
L 194.74 269.61 
L 195.29 266.14 
L 195.72 264.48 
L 196.26 262.88 
L 196.9 261.36 
L 197.63 259.92 
L 198.46 258.57 
L 199.38 257.32 
L 200.38 256.18 
L 201.45 255.15 
L 202.6 254.24 
L 203.8 253.44 
L 205.06 252.77 
L 206.36 252.21 
L 207.7 251.77 
L 209.08 251.44 
L 211.89 251.12 
L 214.73 251.21 
L 217.56 251.67 
L 220.34 252.43 
L 223.03 253.45 
L 225.61 254.67 
L 228.05 256.05 
L 230.35 257.54 
L 233.52 259.9 
L 236.35 262.32 
L 238.85 264.74 
L 241.71 267.87 
L 244.07 270.83 
L 246.02 273.6 
L 247.98 276.78 
L 249.79 280.21 
L 251.58 284.2 
L 254.63 291.15 
L 255.68 292.93 
L 256.65 294.22 
L 257.77 295.32 
L 258.78 296.05 
L 259.92 296.64 
L 261.21 297.08 
L 262.66 297.34 
L 264.3 297.4 
L 266.14 297.23 
L 268.2 296.79 
L 270.49 296.04 
L 273 294.93 
L 275.72 293.41 
L 277.89 291.98 
L 280.13 290.27 
L 282.42 288.27 
L 284.7 285.99 
L 286.93 283.44 
L 289.04 280.65 
L 290.93 277.67 
L 292.53 274.57 
L 293.39 272.49 
L 294.05 270.43 
L 294.49 268.44 
L 294.68 266.56 
L 294.62 264.82 
L 294.29 263.26 
L 293.69 261.92 
L 292.83 260.82 
L 291.72 259.99 
L 290.38 259.42 
L 288.83 259.13 
L 287.1 259.1 
L 285.23 259.32 
L 283.26 259.76 
L 281.22 260.4 
L 278.09 261.67 
L 274.99 263.2 
L 271.99 264.9 
L 268.27 267.29 
L 264.93 269.69 
L 262.03 272.03 
L 259.56 274.24 
L 257.5 276.33 
L 255.8 278.3 
L 254.13 280.61 
L 252.88 282.79 
L 251.97 284.84 
L 251.33 286.8 
L 250.83 289.03 
L 250.54 291.48 
L 250.49 293.77 
L 250.65 296.2 
L 251.02 298.41 
L 251.53 300.16 
L 252.22 301.73 
L 252.99 302.93 
L 253.79 303.8 
L 254.75 304.55 
L 255.91 305.16 
L 257.31 305.6 
L 258.62 305.8 
L 260.15 305.86 
L 261.9 305.72 
L 263.93 305.36 
L 266.24 304.72 
L 268.88 303.74 
L 271.86 302.34 
L 274.32 300.97 
L 276.98 299.27 
L 279.8 297.22 
L 282.77 294.76 
L 285.84 291.88 
L 288.93 288.56 
L 290.96 286.11 
L 292.92 283.48 
L 294.79 280.69 
L 296.51 277.77 
L 298.04 274.75 
L 299.32 271.7 
L 300.32 268.66 
L 300.98 265.71 
L 301.27 262.91 
L 301.16 260.35 
L 300.94 259.19 
L 300.62 258.1 
L 300.19 257.11 
L 299.66 256.22 
L 299.02 255.43 
L 298.28 254.75 
L 297.44 254.18 
L 296.51 253.73 
L 295.49 253.39 
L 294.39 253.17 
L 293.21 253.06 
L 290.66 253.16 
L 287.91 253.66 
L 285.01 254.51 
L 282.04 255.64 
L 279.05 257 
L 274.64 259.31 
L 270.44 261.79 
L 265.32 265.11 
L 260.84 268.26 
L 256.18 271.81 
L 252.47 274.92 
L 249.57 277.65 
L 247.3 280.09 
L 245.52 282.33 
L 243.84 284.8 
L 242.08 287.85 
L 239.36 292.61 
L 238.09 294.42 
L 236.89 295.79 
L 235.52 297.03 
L 233.94 298.12 
L 232.51 298.85 
L 230.9 299.43 
L 229.1 299.84 
L 227.1 300.04 
L 224.89 299.98 
L 223.1 299.73 
L 221.19 299.28 
L 219.19 298.6 
L 217.1 297.66 
L 214.96 296.43 
L 212.8 294.88 
L 210.68 292.99 
L 208.65 290.75 
L 207.38 289.07 
L 206.21 287.24 
L 205.15 285.27 
L 204.24 283.19 
L 203.5 281.01 
L 202.95 278.76 
L 202.6 276.48 
L 202.48 274.2 
L 202.6 271.96 
L 202.95 269.81 
L 203.55 267.78 
L 204.37 265.91 
L 205.42 264.23 
L 206.66 262.78 
L 208.07 261.58 
L 209.64 260.63 
L 211.32 259.94 
L 213.08 259.52 
L 214.91 259.34 
L 216.76 259.4 
L 218.62 259.67 
L 220.46 260.13 
L 222.26 260.76 
L 224.85 261.97 
L 227.28 263.41 
L 229.51 265.03 
L 231.54 266.76 
L 233.36 268.56 
L 235.46 270.98 
L 237.21 273.38 
L 238.65 275.72 
L 239.8 277.97 
L 240.89 280.65 
L 241.64 283.17 
L 242.12 285.54 
L 242.37 287.76 
L 242.4 290.23 
L 242.18 292.53 
L 241.73 294.65 
L 241.05 296.61 
L 240.31 298.13 
L 239.38 299.54 
L 238.24 300.83 
L 236.87 301.99 
L 235.58 302.82 
L 234.1 303.53 
L 232.41 304.11 
L 230.48 304.53 
L 228.29 304.74 
L 225.84 304.69 
L 223.81 304.44 
L 221.62 303.97 
L 219.29 303.25 
L 216.83 302.22 
L 214.26 300.84 
L 211.63 299.07 
L 209.87 297.64 
L 208.13 296.02 
L 206.43 294.18 
L 204.81 292.14 
L 203.3 289.89 
L 201.93 287.44 
L 200.73 284.81 
L 199.75 282.04 
L 199.02 279.16 
L 198.56 276.21 
L 198.4 273.26 
L 198.57 270.36 
L 199.06 267.57 
L 199.88 264.95 
L 201.01 262.57 
L 202.43 260.47 
L 204.11 258.69 
L 206.01 257.26 
L 208.08 256.19 
L 210.29 255.48 
L 212.59 255.13 
L 214.93 255.1 
L 217.29 255.37 
L 219.61 255.9 
L 221.89 256.65 
L 224.09 257.59 
L 226.19 258.69 
L 229.15 260.53 
L 231.84 262.55 
L 234.26 264.65 
L 236.4 266.78 
L 238.86 269.59 
L 240.91 272.31 
L 242.59 274.9 
L 244.25 277.94 
L 245.52 280.75 
L 246.65 283.86 
L 247.56 287.14 
L 248.34 290.87 
L 249.38 297.36 
L 250.02 300.66 
L 250.65 302.8 
L 251.29 304.26 
L 251.97 305.37 
L 252.82 306.34 
L 253.69 307.02 
L 254.75 307.59 
L 256.02 308.01 
L 257.56 308.25 
L 259.41 308.27 
L 261.17 308.09 
L 263.2 307.68 
L 265.54 307 
L 268.23 305.99 
L 271.29 304.55 
L 273.83 303.14 
L 276.59 301.39 
L 279.55 299.27 
L 282.68 296.72 
L 285.94 293.71 
L 289.26 290.21 
L 291.45 287.6 
L 293.6 284.79 
L 295.65 281.79 
L 297.55 278.64 
L 299.26 275.36 
L 300.72 272.03 
L 301.87 268.69 
L 302.66 265.43 
L 303.04 262.33 
L 303.07 260.88 
L 302.98 259.49 
L 302.77 258.19 
L 302.44 256.98 
L 302 255.87 
L 301.43 254.87 
L 300.75 253.99 
L 299.96 253.24 
L 299.05 252.61 
L 298.04 252.11 
L 296.93 251.74 
L 295.73 251.5 
L 294.45 251.39 
L 293.09 251.4 
L 290.18 251.77 
L 287.08 252.56 
L 283.87 253.7 
L 280.61 255.12 
L 277.37 256.73 
L 272.67 259.37 
L 268.25 262.09 
L 262.95 265.62 
L 257.36 269.62 
L 252.88 273.08 
L 249.36 276.03 
L 246.61 278.61 
L 244.46 280.9 
L 242.44 283.39 
L 240.34 286.4 
L 237.19 291 
L 235.75 292.69 
L 234.41 293.95 
L 232.9 295.05 
L 231.55 295.78 
L 230.05 296.37 
L 228.39 296.79 
L 226.57 297 
L 224.58 296.97 
L 222.42 296.64 
L 220.71 296.19 
L 218.93 295.51 
L 217.1 294.61 
L 215.25 293.46 
L 213.41 292.03 
L 211.62 290.33 
L 209.94 288.34 
L 208.42 286.1 
L 207.12 283.62 
L 206.41 281.86 
L 205.84 280.03 
L 205.43 278.17 
L 205.19 276.28 
L 205.13 274.41 
L 205.27 272.58 
L 205.59 270.83 
L 206.1 269.18 
L 206.79 267.66 
L 207.66 266.29 
L 208.69 265.1 
L 209.85 264.1 
L 211.14 263.3 
L 212.52 262.71 
L 213.98 262.32 
L 215.49 262.13 
L 217.04 262.13 
L 218.59 262.31 
L 220.14 262.65 
L 222.41 263.42 
L 224.59 264.46 
L 226.64 265.71 
L 228.53 267.1 
L 230.25 268.61 
L 232.28 270.71 
L 234 272.85 
L 235.43 275 
L 236.58 277.1 
L 237.47 279.14 
L 238.28 281.58 
L 238.77 283.9 
L 238.99 286.08 
L 238.96 288.12 
L 238.7 290.03 
L 238.23 291.8 
L 237.55 293.44 
L 236.65 294.94 
L 235.76 296.04 
L 234.73 297.02 
L 233.52 297.9 
L 232.14 298.64 
L 230.57 299.23 
L 228.8 299.63 
L 226.82 299.82 
L 224.63 299.74 
L 222.84 299.48 
L 220.95 299.01 
L 218.96 298.31 
L 216.89 297.35 
L 214.77 296.09 
L 212.64 294.52 
L 210.55 292.62 
L 208.56 290.37 
L 207.32 288.68 
L 206.18 286.85 
L 205.16 284.89 
L 204.29 282.82 
L 203.58 280.65 
L 203.07 278.43 
L 202.76 276.17 
L 202.67 273.93 
L 202.82 271.73 
L 202.98 270.66 
L 202.98 270.66 
" clip-path="url(#pd264b33a55)" style="fill: none; stroke: #d45252; stroke-width: 0.62; stroke-linecap: square"/>
</g>
</g>
<g id="patch_10">
<path d="M 343.1 359.7 
L 491.6 359.7 
L 491.6 211.2 
L 343.1 211.2 
z
" style="fill: #ffffff"/>
</g>
<g id="pane3d_7">
<g id="patch_11">
<path d="M 402.92 294.59 
L 353.8 323.45 
L 351.79 254.57 
L 402.46 231.23 
" style="fill: #f2f2f2; opacity: 0.6; stroke: #f2f2f2; stroke-linejoin: miter"/>
</g>
</g>
<g id="pane3d_8">
<g id="patch_12">
<path d="M 482.24 310.32 
L 402.92 294.59 
L 402.46 231.23 
L 484.1 243.93 
" style="fill: #f2f2f2; opacity: 0.6; stroke: #f2f2f2; stroke-linejoin: miter"/>
</g>
</g>
<g id="pane3d_9">
<g id="patch_13">
<path d="M 482.24 310.32 
L 402.92 294.59 
L 353.8 323.45 
L 438.48 342.53 
" style="fill: #f2f2f2; opacity: 0.6; stroke: #f2f2f2; stroke-linejoin: miter"/>
</g>
</g>
<g id="grid3d_7">
<g id="Line3DCollection_7">
<path d="M 429.28 340.46 
L 473.67 308.62 
L 475.26 242.55 
" style="fill: none; stroke: #c7c7c7; stroke-width: 0.5"/>
<path d="M 417.65 337.84 
L 462.81 306.46 
L 464.07 240.81 
" style="fill: none; stroke: #c7c7c7; stroke-width: 0.5"/>
<path d="M 406.2 335.26 
L 452.1 304.34 
L 453.05 239.1 
" style="fill: none; stroke: #c7c7c7; stroke-width: 0.5"/>
<path d="M 394.93 332.72 
L 441.55 302.25 
L 442.18 237.41 
" style="fill: none; stroke: #c7c7c7; stroke-width: 0.5"/>
<path d="M 383.82 330.22 
L 431.13 300.18 
L 431.47 235.74 
" style="fill: none; stroke: #c7c7c7; stroke-width: 0.5"/>
<path d="M 372.88 327.75 
L 420.86 298.15 
L 420.9 234.1 
" style="fill: none; stroke: #c7c7c7; stroke-width: 0.5"/>
<path d="M 362.1 325.32 
L 410.72 296.14 
L 410.48 232.48 
" style="fill: none; stroke: #c7c7c7; stroke-width: 0.5"/>
</g>
</g>
<g id="grid3d_8">
<g id="Line3DCollection_8">
<path d="M 397.81 233.37 
L 398.4 297.24 
L 478.24 313.26 
" style="fill: none; stroke: #c7c7c7; stroke-width: 0.5"/>
<path d="M 388.26 237.77 
L 389.13 302.69 
L 470.01 319.33 
" style="fill: none; stroke: #c7c7c7; stroke-width: 0.5"/>
<path d="M 378.34 242.33 
L 379.51 308.34 
L 461.44 325.63 
" style="fill: none; stroke: #c7c7c7; stroke-width: 0.5"/>
<path d="M 368.03 247.08 
L 369.52 314.22 
L 452.54 332.18 
" style="fill: none; stroke: #c7c7c7; stroke-width: 0.5"/>
<path d="M 357.31 252.02 
L 359.14 320.31 
L 443.26 339.01 
" style="fill: none; stroke: #c7c7c7; stroke-width: 0.5"/>
</g>
</g>
<g id="grid3d_9">
<g id="Line3DCollection_9">
<path d="M 482.46 302.61 
L 402.86 287.23 
L 353.57 315.47 
" style="fill: none; stroke: #c7c7c7; stroke-width: 0.5"/>
<path d="M 482.67 294.86 
L 402.81 279.82 
L 353.33 307.43 
" style="fill: none; stroke: #c7c7c7; stroke-width: 0.5"/>
<path d="M 482.89 287.05 
L 402.75 272.36 
L 353.1 299.33 
" style="fill: none; stroke: #c7c7c7; stroke-width: 0.5"/>
<path d="M 483.11 279.19 
L 402.7 264.85 
L 352.86 291.17 
" style="fill: none; stroke: #c7c7c7; stroke-width: 0.5"/>
<path d="M 483.33 271.27 
L 402.64 257.29 
L 352.62 282.95 
" style="fill: none; stroke: #c7c7c7; stroke-width: 0.5"/>
<path d="M 483.56 263.29 
L 402.59 249.69 
L 352.37 274.68 
" style="fill: none; stroke: #c7c7c7; stroke-width: 0.5"/>
<path d="M 483.78 255.27 
L 402.53 242.03 
L 352.13 266.34 
" style="fill: none; stroke: #c7c7c7; stroke-width: 0.5"/>
<path d="M 484.01 247.18 
L 402.48 234.32 
L 351.88 257.94 
" style="fill: none; stroke: #c7c7c7; stroke-width: 0.5"/>
</g>
</g>
<g id="axis3d_7">
<g id="line2d_47">
<path d="M 353.8 323.45 
L 438.48 342.53 
" style="fill: none; stroke: #000000; stroke-width: 0.8; stroke-linecap: square"/>
</g>
<g id="xtick_39">
<g id="line2d_48">
<path d="M 429.68 340.18 
L 428.5 341.02 
" style="fill: none; stroke: #000000; stroke-width: 0.6; stroke-linecap: square"/>
</g>
<g id="text_45">
<text style="font-size: 7.3px; font-family: 'Liberation Sans'; text-anchor: middle" x="426.18" y="352.66" transform="rotate(-0 426.18 352.66)">−15</text>
</g>
</g>
<g id="xtick_40">
<g id="line2d_49">
<path d="M 418.05 337.56 
L 416.86 338.39 
" style="fill: none; stroke: #000000; stroke-width: 0.6; stroke-linecap: square"/>
</g>
<g id="text_46">
<text style="font-size: 7.3px; font-family: 'Liberation Sans'; text-anchor: middle" x="414.52" y="349.98" transform="rotate(-0 414.52 349.98)">−10</text>
</g>
</g>
<g id="xtick_41">
<g id="line2d_50">
<path d="M 406.61 334.99 
L 405.39 335.8 
" style="fill: none; stroke: #000000; stroke-width: 0.6; stroke-linecap: square"/>
</g>
<g id="text_47">
<text style="font-size: 7.3px; font-family: 'Liberation Sans'; text-anchor: middle" x="403.05" y="347.34" transform="rotate(-0 403.05 347.34)">−5</text>
</g>
</g>
<g id="xtick_42">
<g id="line2d_51">
<path d="M 395.34 332.45 
L 394.1 333.26 
" style="fill: none; stroke: #000000; stroke-width: 0.6; stroke-linecap: square"/>
</g>
<g id="text_48">
<text style="font-size: 7.3px; font-family: 'Liberation Sans'; text-anchor: middle" x="391.74" y="344.73" transform="rotate(-0 391.74 344.73)">0</text>
</g>
</g>
<g id="xtick_43">
<g id="line2d_52">
<path d="M 384.23 329.95 
L 382.98 330.75 
" style="fill: none; stroke: #000000; stroke-width: 0.6; stroke-linecap: square"/>
</g>
<g id="text_49">
<text style="font-size: 7.3px; font-family: 'Liberation Sans'; text-anchor: middle" x="380.61" y="342.17" transform="rotate(-0 380.61 342.17)">5</text>
</g>
</g>
<g id="xtick_44">
<g id="line2d_53">
<path d="M 373.3 327.49 
L 372.03 328.27 
" style="fill: none; stroke: #000000; stroke-width: 0.6; stroke-linecap: square"/>
</g>
<g id="text_50">
<text style="font-size: 7.3px; font-family: 'Liberation Sans'; text-anchor: middle" x="369.64" y="339.64" transform="rotate(-0 369.64 339.64)">10</text>
</g>
</g>
<g id="xtick_45">
<g id="line2d_54">
<path d="M 362.53 325.07 
L 361.24 325.84 
" style="fill: none; stroke: #000000; stroke-width: 0.6; stroke-linecap: square"/>
</g>
<g id="text_51">
<text style="font-size: 7.3px; font-family: 'Liberation Sans'; text-anchor: middle" x="358.84" y="337.16" transform="rotate(-0 358.84 337.16)">15</text>
</g>
</g>
<g id="text_52">
<text style="font-size: 7px; font-family: 'Liberation Sans'; text-anchor: middle" x="387.18" y="354.74" transform="rotate(-347.31 387.18 354.74)">x-coordinate</text>
</g>
</g>
<g id="axis3d_8">
<g id="line2d_55">
<path d="M 482.24 310.32 
L 438.48 342.53 
" style="fill: none; stroke: #000000; stroke-width: 0.8; stroke-linecap: square"/>
</g>
<g id="xtick_46">
<g id="line2d_56">
<path d="M 477.57 313.13 
L 479.59 313.53 
" style="fill: none; stroke: #000000; stroke-width: 0.6; stroke-linecap: square"/>
</g>
<g id="text_53">
<text style="font-size: 7.3px; font-family: 'Liberation Sans'; text-anchor: middle" x="487.21" y="323.40" transform="rotate(-0 487.21 323.40)">−20</text>
</g>
</g>
<g id="xtick_47">
<g id="line2d_57">
<path d="M 469.32 319.18 
L 471.37 319.61 
" style="fill: none; stroke: #000000; stroke-width: 0.6; stroke-linecap: square"/>
</g>
<g id="text_54">
<text style="font-size: 7.3px; font-family: 'Liberation Sans'; text-anchor: middle" x="479.05" y="329.55" transform="rotate(-0 479.05 329.55)">−10</text>
</g>
</g>
<g id="xtick_48">
<g id="line2d_58">
<path d="M 460.75 325.48 
L 462.83 325.92 
" style="fill: none; stroke: #000000; stroke-width: 0.6; stroke-linecap: square"/>
</g>
<g id="text_55">
<text style="font-size: 7.3px; font-family: 'Liberation Sans'; text-anchor: middle" x="470.56" y="335.94" transform="rotate(-0 470.56 335.94)">0</text>
</g>
</g>
<g id="xtick_49">
<g id="line2d_59">
<path d="M 451.84 332.03 
L 453.94 332.49 
" style="fill: none; stroke: #000000; stroke-width: 0.6; stroke-linecap: square"/>
</g>
<g id="text_56">
<text style="font-size: 7.3px; font-family: 'Liberation Sans'; text-anchor: middle" x="461.73" y="342.60" transform="rotate(-0 461.73 342.60)">10</text>
</g>
</g>
<g id="xtick_50">
<g id="line2d_60">
<path d="M 442.55 338.85 
L 444.69 339.33 
" style="fill: none; stroke: #000000; stroke-width: 0.6; stroke-linecap: square"/>
</g>
<g id="text_57">
<text style="font-size: 7.3px; font-family: 'Liberation Sans'; text-anchor: middle" x="452.54" y="349.53" transform="rotate(-0 452.54 349.53)">20</text>
</g>
</g>
<g id="text_58">
<text style="font-size: 7px; font-family: 'Liberation Sans'; text-anchor: middle" x="481.55" y="342.36" transform="rotate(-36.35 481.55 342.36)">y-coordinate</text>
</g>
</g>
<g id="axis3d_9">
<g id="line2d_61">
<path d="M 482.24 310.32 
L 484.1 243.93 
" style="fill: none; stroke: #000000; stroke-width: 0.8; stroke-linecap: square"/>
</g>
<g id="xtick_51">
<g id="line2d_62">
<path d="M 481.79 302.49 
L 483.8 302.87 
" style="fill: none; stroke: #000000; stroke-width: 0.6; stroke-linecap: square"/>
</g>
<g id="text_59">
<text style="font-size: 7.3px; font-family: 'Liberation Sans'; text-anchor: middle" x="494.33" y="307.11" transform="rotate(-0 494.33 307.11)">10</text>
</g>
</g>
<g id="xtick_52">
<g id="line2d_63">
<path d="M 482 294.73 
L 484.02 295.11 
" style="fill: none; stroke: #000000; stroke-width: 0.6; stroke-linecap: square"/>
</g>
<g id="text_60">
<text style="font-size: 7.3px; font-family: 'Liberation Sans'; text-anchor: middle" x="494.57" y="299.37" transform="rotate(-0 494.57 299.37)">15</text>
</g>
</g>
<g id="xtick_53">
<g id="line2d_64">
<path d="M 482.22 286.93 
L 484.25 287.3 
" style="fill: none; stroke: #000000; stroke-width: 0.6; stroke-linecap: square"/>
</g>
<g id="text_61">
<text style="font-size: 7.3px; font-family: 'Liberation Sans'; text-anchor: middle" x="494.82" y="291.58" transform="rotate(-0 494.82 291.58)">20</text>
</g>
</g>
<g id="xtick_54">
<g id="line2d_65">
<path d="M 482.43 279.06 
L 484.47 279.43 
" style="fill: none; stroke: #000000; stroke-width: 0.6; stroke-linecap: square"/>
</g>
<g id="text_62">
<text style="font-size: 7.3px; font-family: 'Liberation Sans'; text-anchor: middle" x="495.06" y="283.73" transform="rotate(-0 495.06 283.73)">25</text>
</g>
</g>
<g id="xtick_55">
<g id="line2d_66">
<path d="M 482.65 271.15 
L 484.7 271.5 
" style="fill: none; stroke: #000000; stroke-width: 0.6; stroke-linecap: square"/>
</g>
<g id="text_63">
<text style="font-size: 7.3px; font-family: 'Liberation Sans'; text-anchor: middle" x="495.31" y="275.84" transform="rotate(-0 495.31 275.84)">30</text>
</g>
</g>
<g id="xtick_56">
<g id="line2d_67">
<path d="M 482.87 263.18 
L 484.92 263.52 
" style="fill: none; stroke: #000000; stroke-width: 0.6; stroke-linecap: square"/>
</g>
<g id="text_64">
<text style="font-size: 7.3px; font-family: 'Liberation Sans'; text-anchor: middle" x="495.56" y="267.88" transform="rotate(-0 495.56 267.88)">35</text>
</g>
</g>
<g id="xtick_57">
<g id="line2d_68">
<path d="M 483.09 255.15 
L 485.15 255.49 
" style="fill: none; stroke: #000000; stroke-width: 0.6; stroke-linecap: square"/>
</g>
<g id="text_65">
<text style="font-size: 7.3px; font-family: 'Liberation Sans'; text-anchor: middle" x="495.81" y="259.87" transform="rotate(-0 495.81 259.87)">40</text>
</g>
</g>
<g id="xtick_58">
<g id="line2d_69">
<path d="M 483.32 247.07 
L 485.38 247.4 
" style="fill: none; stroke: #000000; stroke-width: 0.6; stroke-linecap: square"/>
</g>
<g id="text_66">
<text style="font-size: 7.3px; font-family: 'Liberation Sans'; text-anchor: middle" x="496.07" y="251.81" transform="rotate(-0 496.07 251.81)">45</text>
</g>
</g>
<g id="text_67">
<text style="font-size: 7px; font-family: 'Liberation Sans'; text-anchor: middle" x="509.81" y="278.96" transform="rotate(-88.4 509.81 278.96)">z-coordinate</text>
</g>
</g>
<g id="axes_4">
<g id="line2d_70">
<path d="M 438.78 305.9 
L 441.64 304.74 
L 444.87 303.15 
L 447.52 301.63 
L 450.37 299.78 
L 453.37 297.56 
L 456.5 294.96 
L 459.68 291.95 
L 462.82 288.53 
L 464.84 286.05 
L 466.75 283.42 
L 468.5 280.68 
L 470.05 277.87 
L 471.35 275.03 
L 472.34 272.23 
L 472.97 269.52 
L 473.22 266.99 
L 473.18 265.81 
L 473.03 264.69 
L 472.78 263.66 
L 472.41 262.71 
L 471.93 261.85 
L 471.34 261.09 
L 470.64 260.43 
L 469.84 259.88 
L 468.93 259.43 
L 467.93 259.1 
L 466.84 258.87 
L 465.67 258.75 
L 463.11 258.82 
L 460.32 259.28 
L 457.36 260.07 
L 454.3 261.13 
L 451.21 262.41 
L 446.63 264.59 
L 442.25 266.93 
L 436.89 270.04 
L 431.15 273.65 
L 425.66 277.4 
L 422.12 280.05 
L 419.36 282.36 
L 417.21 284.44 
L 415.2 286.71 
L 413.38 289.15 
L 408.92 295.47 
L 407.46 296.98 
L 406.07 298.1 
L 404.49 299.07 
L 403.05 299.73 
L 401.44 300.24 
L 399.66 300.6 
L 397.69 300.76 
L 395.52 300.68 
L 393.17 300.32 
L 391.3 299.82 
L 389.36 299.12 
L 387.36 298.17 
L 385.34 296.97 
L 383.34 295.48 
L 381.41 293.7 
L 379.62 291.63 
L 378.53 290.09 
L 377.55 288.45 
L 376.7 286.7 
L 376 284.87 
L 375.48 282.98 
L 375.14 281.06 
L 375.01 279.13 
L 375.09 277.23 
L 375.39 275.39 
L 375.91 273.64 
L 376.63 272.02 
L 377.56 270.56 
L 378.67 269.27 
L 379.94 268.17 
L 381.35 267.29 
L 382.88 266.62 
L 384.49 266.16 
L 386.16 265.92 
L 387.87 265.88 
L 389.59 266.02 
L 391.31 266.33 
L 393.82 267.08 
L 396.21 268.1 
L 398.46 269.32 
L 400.53 270.7 
L 402.42 272.19 
L 404.62 274.25 
L 406.49 276.35 
L 408.04 278.43 
L 409.3 280.47 
L 410.29 282.43 
L 411.2 284.78 
L 411.8 286.99 
L 412.12 289.06 
L 412.21 291.01 
L 412.1 292.83 
L 411.79 294.54 
L 411.29 296.14 
L 410.61 297.62 
L 409.74 298.99 
L 408.65 300.25 
L 407.33 301.38 
L 406.09 302.19 
L 404.66 302.88 
L 403.03 303.45 
L 401.19 303.87 
L 399.11 304.1 
L 396.78 304.1 
L 394.21 303.82 
L 392.13 303.37 
L 389.92 302.7 
L 387.62 301.75 
L 385.25 300.51 
L 382.85 298.93 
L 381.27 297.67 
L 379.72 296.25 
L 378.23 294.67 
L 376.83 292.91 
L 375.54 291 
L 374.39 288.94 
L 373.42 286.75 
L 372.65 284.45 
L 372.11 282.08 
L 371.82 279.68 
L 371.8 277.29 
L 372.06 274.96 
L 372.6 272.73 
L 373.42 270.64 
L 374.5 268.75 
L 375.83 267.08 
L 377.37 265.67 
L 379.1 264.54 
L 380.97 263.68 
L 382.95 263.11 
L 385.01 262.82 
L 387.1 262.78 
L 389.21 262.98 
L 391.29 263.39 
L 393.33 263.98 
L 395.3 264.74 
L 398.11 266.09 
L 400.7 267.66 
L 403.06 269.36 
L 405.17 271.13 
L 407.63 273.53 
L 409.69 275.9 
L 411.38 278.21 
L 412.76 280.42 
L 414.1 283.03 
L 415.09 285.46 
L 415.79 287.73 
L 416.35 290.25 
L 416.68 292.94 
L 416.76 295.39 
L 416.61 297.94 
L 416.24 300.27 
L 415.72 302.13 
L 415.01 303.87 
L 414.21 305.25 
L 413.2 306.56 
L 412.17 307.57 
L 410.92 308.52 
L 409.41 309.38 
L 407.6 310.15 
L 405.42 310.78 
L 403.37 311.15 
L 401.02 311.36 
L 398.32 311.35 
L 396.06 311.16 
L 393.59 310.76 
L 390.91 310.11 
L 388.03 309.16 
L 384.98 307.83 
L 382.87 306.71 
L 380.72 305.38 
L 378.55 303.81 
L 376.4 301.99 
L 374.3 299.91 
L 372.28 297.56 
L 370.41 294.94 
L 368.73 292.07 
L 367.29 288.96 
L 366.15 285.67 
L 365.36 282.23 
L 364.96 278.71 
L 364.99 275.2 
L 365.17 273.47 
L 365.46 271.78 
L 365.87 270.13 
L 366.39 268.54 
L 367.01 267.01 
L 367.74 265.56 
L 368.58 264.19 
L 369.51 262.92 
L 370.53 261.75 
L 371.63 260.68 
L 372.81 259.72 
L 374.05 258.88 
L 375.36 258.16 
L 376.72 257.55 
L 378.12 257.05 
L 379.55 256.68 
L 382.49 256.25 
L 385.47 256.23 
L 388.44 256.57 
L 391.36 257.23 
L 394.18 258.15 
L 396.89 259.28 
L 399.45 260.56 
L 401.87 261.95 
L 405.19 264.17 
L 408.15 266.46 
L 410.76 268.74 
L 413.74 271.68 
L 416.21 274.45 
L 418.24 277.04 
L 420.29 279.98 
L 422.2 283.13 
L 424.33 287.15 
L 426.6 291.41 
L 427.73 293.13 
L 428.75 294.35 
L 429.9 295.39 
L 431.2 296.22 
L 432.38 296.73 
L 433.7 297.09 
L 435.18 297.27 
L 436.84 297.27 
L 438.68 297.04 
L 440.73 296.56 
L 442.98 295.79 
L 445.42 294.7 
L 448.04 293.25 
L 450.78 291.42 
L 452.88 289.78 
L 454.98 287.91 
L 457.02 285.84 
L 458.95 283.58 
L 460.69 281.17 
L 462.17 278.68 
L 463.31 276.19 
L 463.85 274.56 
L 464.19 273.01 
L 464.31 271.55 
L 464.2 270.21 
L 463.86 269.03 
L 463.29 268.02 
L 462.48 267.21 
L 461.46 266.6 
L 460.23 266.21 
L 458.83 266.02 
L 457.27 266.05 
L 455.59 266.26 
L 452.91 266.9 
L 450.11 267.86 
L 447.29 269.06 
L 443.64 270.89 
L 440.25 272.86 
L 437.18 274.86 
L 433.89 277.28 
L 431.2 279.57 
L 429.07 281.71 
L 427.43 283.72 
L 426.22 285.62 
L 425.35 287.41 
L 424.77 289.11 
L 424.44 290.73 
L 424.3 292.57 
L 424.4 294.29 
L 424.71 295.88 
L 425.23 297.35 
L 425.97 298.66 
L 426.75 299.63 
L 427.72 300.48 
L 428.88 301.17 
L 430.28 301.69 
L 431.59 301.96 
L 433.09 302.07 
L 434.8 302.01 
L 436.74 301.73 
L 438.94 301.19 
L 441.41 300.35 
L 444.15 299.16 
L 447.15 297.56 
L 449.56 296.05 
L 452.07 294.25 
L 454.66 292.16 
L 457.26 289.76 
L 459.81 287.07 
L 462.22 284.12 
L 464.4 280.96 
L 465.67 278.78 
L 466.74 276.58 
L 467.59 274.41 
L 468.19 272.29 
L 468.5 270.29 
L 468.51 268.43 
L 468.2 266.78 
L 467.56 265.37 
L 466.59 264.22 
L 465.32 263.38 
L 463.77 262.83 
L 461.96 262.6 
L 459.93 262.65 
L 457.74 262.98 
L 455.43 263.55 
L 453.04 264.32 
L 449.39 265.78 
L 445.8 267.48 
L 441.25 269.94 
L 437.13 272.42 
L 432.69 275.39 
L 429.05 278.11 
L 426.15 280.57 
L 423.89 282.81 
L 422.14 284.89 
L 420.8 286.83 
L 419.59 289.04 
L 418.57 291.47 
L 417.6 294.4 
L 415.77 300.22 
L 414.86 302.29 
L 413.86 303.97 
L 412.79 305.32 
L 411.71 306.38 
L 410.41 307.36 
L 408.87 308.25 
L 407.02 309.03 
L 405.28 309.55 
L 403.28 309.94 
L 400.99 310.18 
L 398.38 310.2 
L 396.2 310.03 
L 393.82 309.67 
L 391.24 309.07 
L 388.48 308.17 
L 385.55 306.93 
L 383.53 305.87 
L 381.47 304.62 
L 379.4 303.15 
L 377.34 301.44 
L 375.33 299.49 
L 373.39 297.29 
L 371.58 294.83 
L 369.95 292.14 
L 368.54 289.23 
L 367.39 286.13 
L 366.57 282.9 
L 366.11 279.58 
L 366.04 276.25 
L 366.38 272.99 
L 366.71 271.41 
L 367.15 269.88 
L 367.69 268.4 
L 368.32 266.99 
L 369.06 265.65 
L 369.89 264.4 
L 370.8 263.23 
L 371.8 262.16 
L 372.87 261.2 
L 374.02 260.33 
L 375.22 259.57 
L 376.47 258.93 
L 377.77 258.38 
L 380.48 257.62 
L 383.28 257.27 
L 386.12 257.3 
L 388.94 257.66 
L 391.71 258.31 
L 394.39 259.21 
L 396.96 260.29 
L 399.4 261.52 
L 402.79 263.56 
L 405.83 265.73 
L 408.54 267.93 
L 410.93 270.13 
L 413.65 272.95 
L 415.9 275.62 
L 418.16 278.71 
L 419.94 281.51 
L 421.59 284.53 
L 423.44 288.42 
L 425.59 292.92 
L 426.78 294.86 
L 427.74 296.05 
L 428.82 297.06 
L 430.07 297.89 
L 431.21 298.41 
L 432.5 298.78 
L 433.95 299 
L 435.59 299.03 
L 437.43 298.84 
L 439.49 298.42 
L 441.77 297.7 
L 444.28 296.67 
L 447 295.26 
L 449.9 293.44 
L 452.16 291.79 
L 454.45 289.88 
L 456.71 287.72 
L 458.9 285.34 
L 460.94 282.75 
L 462.74 280.03 
L 464.21 277.24 
L 464.97 275.39 
L 465.51 273.6 
L 465.82 271.88 
L 465.89 270.29 
L 465.69 268.85 
L 465.22 267.59 
L 464.49 266.54 
L 463.5 265.72 
L 462.27 265.15 
L 460.82 264.82 
L 459.19 264.74 
L 457.39 264.88 
L 455.47 265.23 
L 452.43 266.09 
L 449.32 267.28 
L 446.22 268.7 
L 442.27 270.79 
L 438.65 272.96 
L 434.69 275.63 
L 431.41 278.14 
L 428.78 280.48 
L 426.72 282.64 
L 425.14 284.66 
L 423.97 286.56 
L 423.12 288.37 
L 422.43 290.43 
L 422.02 292.38 
L 421.8 294.53 
L 421.82 296.82 
L 422.06 298.92 
L 422.52 300.83 
L 423.1 302.33 
L 423.76 303.48 
L 424.59 304.5 
L 425.45 305.23 
L 426.49 305.84 
L 427.74 306.31 
L 429.24 306.61 
L 431.04 306.71 
L 433.2 306.55 
L 435.22 306.19 
L 437.54 305.57 
L 440.17 304.64 
L 443.15 303.33 
L 446.47 301.56 
L 449.18 299.89 
L 452.06 297.87 
L 455.06 295.49 
L 458.14 292.73 
L 461.21 289.57 
L 463.2 287.27 
L 465.12 284.81 
L 466.91 282.23 
L 468.53 279.56 
L 469.93 276.83 
L 471.07 274.11 
L 471.9 271.44 
L 472.37 268.89 
L 472.45 266.53 
L 472.34 265.45 
L 472.12 264.43 
L 471.8 263.49 
L 471.37 262.64 
L 470.83 261.88 
L 470.19 261.21 
L 469.45 260.65 
L 468.61 260.18 
L 467.68 259.82 
L 466.66 259.56 
L 464.39 259.35 
L 461.85 259.53 
L 459.1 260.06 
L 456.21 260.89 
L 453.25 261.97 
L 448.78 263.92 
L 444.44 266.12 
L 439.05 269.14 
L 433.17 272.77 
L 428.31 276 
L 424.43 278.83 
L 421.39 281.29 
L 419.01 283.49 
L 417.15 285.49 
L 415.4 287.71 
L 413.59 290.45 
L 410.47 295.35 
L 409.17 296.96 
L 407.94 298.19 
L 406.53 299.31 
L 404.91 300.28 
L 403.44 300.93 
L 401.79 301.44 
L 399.94 301.79 
L 397.89 301.95 
L 395.63 301.86 
L 393.16 301.47 
L 391.19 300.96 
L 389.13 300.21 
L 387.01 299.21 
L 384.86 297.93 
L 382.72 296.34 
L 380.66 294.44 
L 379.36 292.99 
L 378.14 291.4 
L 377.03 289.68 
L 376.05 287.84 
L 375.22 285.9 
L 374.58 283.88 
L 374.13 281.81 
L 373.9 279.72 
L 373.9 277.64 
L 374.14 275.62 
L 374.62 273.68 
L 375.33 271.87 
L 376.27 270.23 
L 377.41 268.77 
L 378.74 267.52 
L 380.23 266.5 
L 381.85 265.72 
L 383.58 265.17 
L 385.37 264.86 
L 387.21 264.78 
L 389.06 264.9 
L 390.91 265.2 
L 392.72 265.68 
L 395.35 266.66 
L 397.83 267.89 
L 400.13 269.3 
L 402.22 270.84 
L 404.11 272.45 
L 406.29 274.65 
L 408.13 276.85 
L 409.64 279 
L 410.85 281.08 
L 412.01 283.56 
L 412.82 285.89 
L 413.35 288.08 
L 413.64 290.14 
L 413.72 292.43 
L 413.54 294.55 
L 413.13 296.51 
L 412.49 298.33 
L 411.78 299.73 
L 410.88 301.04 
L 409.79 302.25 
L 408.47 303.35 
L 406.89 304.33 
L 405.41 305 
L 403.72 305.55 
L 401.79 305.96 
L 399.61 306.18 
L 397.15 306.18 
L 395.12 305.98 
L 392.94 305.59 
L 390.61 304.96 
L 388.15 304.07 
L 385.59 302.85 
L 382.96 301.28 
L 381.21 300.01 
L 379.47 298.55 
L 377.78 296.9 
L 376.17 295.06 
L 374.66 293.03 
L 373.3 290.81 
L 372.11 288.43 
L 371.13 285.91 
L 370.4 283.28 
L 369.95 280.59 
L 369.81 277.89 
L 369.98 275.22 
L 370.47 272.65 
L 371.29 270.23 
L 372.42 268.02 
L 373.84 266.06 
L 375.52 264.4 
L 377.41 263.04 
L 379.48 262.02 
L 381.69 261.33 
L 383.98 260.95 
L 386.32 260.88 
L 388.66 261.08 
L 390.98 261.53 
L 393.25 262.19 
L 395.44 263.02 
L 397.54 263.99 
L 400.49 265.65 
L 403.17 267.47 
L 405.58 269.38 
L 407.72 271.32 
L 410.18 273.88 
L 412.22 276.36 
L 413.9 278.73 
L 415.56 281.51 
L 416.83 284.09 
L 417.95 286.93 
L 418.86 289.91 
L 419.64 293.31 
L 420.72 299.46 
L 421.38 302.4 
L 422.03 304.29 
L 422.69 305.58 
L 423.4 306.55 
L 424.28 307.38 
L 425.19 307.97 
L 426.28 308.44 
L 427.6 308.76 
L 429.2 308.92 
L 431.13 308.85 
L 433.45 308.52 
L 435.63 308 
L 438.14 307.2 
L 441 306.05 
L 444.25 304.48 
L 446.93 302.97 
L 449.82 301.12 
L 452.9 298.91 
L 456.12 296.28 
L 459.42 293.24 
L 461.62 290.96 
L 463.79 288.5 
L 465.88 285.87 
L 467.86 283.09 
L 469.66 280.19 
L 471.24 277.22 
L 472.54 274.23 
L 473.51 271.29 
L 474.09 268.47 
L 474.25 265.85 
L 474.15 264.63 
L 473.94 263.5 
L 473.62 262.45 
L 473.17 261.5 
L 472.6 260.65 
L 471.92 259.91 
L 471.12 259.28 
L 470.22 258.76 
L 469.21 258.36 
L 468.1 258.08 
L 466.9 257.92 
L 465.62 257.86 
L 462.84 258.09 
L 459.83 258.7 
L 456.68 259.66 
L 453.45 260.88 
L 450.2 262.3 
L 445.44 264.67 
L 439.5 267.96 
L 433 271.89 
L 426.73 275.98 
L 421.96 279.36 
L 418.93 281.75 
L 416.56 283.85 
L 414.37 286.12 
L 412.38 288.53 
L 407.8 294.42 
L 406.28 295.88 
L 404.84 296.94 
L 403.22 297.85 
L 401.76 298.43 
L 400.14 298.87 
L 398.36 299.14 
L 396.41 299.19 
L 394.3 299 
L 392.04 298.51 
L 390.26 297.92 
L 388.43 297.13 
L 386.58 296.1 
L 384.75 294.82 
L 382.97 293.29 
L 381.29 291.51 
L 379.78 289.48 
L 378.49 287.23 
L 377.78 285.63 
L 377.21 283.97 
L 376.81 282.26 
L 376.57 280.54 
L 376.52 278.82 
L 376.65 277.14 
L 376.98 275.53 
L 377.49 274 
L 378.18 272.59 
L 379.05 271.32 
L 380.07 270.21 
L 381.24 269.26 
L 382.52 268.51 
L 383.9 267.94 
L 385.36 267.55 
L 386.87 267.35 
L 388.41 267.33 
L 389.96 267.46 
L 392.27 267.94 
L 394.51 268.71 
L 396.64 269.7 
L 398.63 270.87 
L 400.46 272.17 
L 402.64 274.03 
L 404.51 275.97 
L 406.07 277.93 
L 407.36 279.87 
L 408.37 281.76 
L 409.31 284.04 
L 409.92 286.21 
L 410.24 288.25 
L 410.31 290.17 
L 410.14 291.96 
L 409.75 293.63 
L 409.16 295.19 
L 408.34 296.62 
L 407.31 297.91 
L 406.31 298.85 
L 405.15 299.69 
L 403.82 300.41 
L 402.3 301.01 
L 400.58 301.44 
L 398.66 301.7 
L 396.52 301.72 
L 394.17 301.47 
L 392.28 301.08 
L 390.29 300.47 
L 388.22 299.62 
L 386.11 298.51 
L 383.99 297.11 
L 381.9 295.4 
L 379.91 293.38 
L 378.68 291.86 
L 377.54 290.2 
L 376.53 288.42 
L 375.66 286.54 
L 374.96 284.57 
L 374.45 282.54 
L 374.14 280.48 
L 374.06 278.42 
L 374.21 276.4 
L 374.6 274.46 
L 375.22 272.62 
L 376.07 270.93 
L 377.12 269.42 
L 378.37 268.11 
L 379.78 267.02 
L 381.34 266.16 
L 383.01 265.53 
L 384.76 265.14 
L 386.56 264.97 
L 388.39 265.01 
L 390.21 265.25 
L 392.02 265.65 
L 394.66 266.54 
L 397.15 267.7 
L 399.47 269.05 
L 401.6 270.55 
L 403.52 272.13 
L 405.75 274.3 
L 407.64 276.49 
L 409.19 278.64 
L 410.45 280.72 
L 411.65 283.21 
L 412.5 285.56 
L 413.06 287.76 
L 413.37 289.83 
L 413.46 291.76 
L 413.33 293.92 
L 412.96 295.92 
L 412.35 297.78 
L 411.66 299.21 
L 410.78 300.54 
L 409.71 301.77 
L 408.42 302.89 
L 406.86 303.88 
L 405.4 304.57 
L 403.74 305.13 
L 401.85 305.56 
L 399.7 305.8 
L 397.29 305.81 
L 395.3 305.64 
L 393.16 305.27 
L 390.87 304.68 
L 388.46 303.82 
L 385.94 302.65 
L 383.36 301.14 
L 381.63 299.91 
L 379.92 298.51 
L 378.26 296.92 
L 376.66 295.14 
L 375.16 293.17 
L 373.8 291.02 
L 372.6 288.71 
L 371.61 286.26 
L 370.85 283.7 
L 370.36 281.07 
L 370.16 278.42 
L 370.27 275.8 
L 370.7 273.26 
L 371.44 270.86 
L 372.5 268.65 
L 373.83 266.68 
L 375.43 264.99 
L 377.24 263.6 
L 379.24 262.53 
L 381.37 261.78 
L 383.61 261.35 
L 385.89 261.21 
L 388.2 261.35 
L 390.48 261.73 
L 392.72 262.33 
L 394.9 263.11 
L 396.98 264.03 
L 399.92 265.63 
L 402.6 267.4 
L 405.02 269.27 
L 407.17 271.18 
L 409.64 273.72 
L 411.7 276.19 
L 413.39 278.56 
L 415.07 281.34 
L 416.34 283.93 
L 417.46 286.78 
L 418.25 289.38 
L 418.96 292.49 
L 419.54 296.24 
L 420.79 305.28 
L 421.34 307.11 
L 421.95 308.38 
L 422.66 309.34 
L 423.45 310.05 
L 424.44 310.64 
L 425.69 311.07 
L 426.99 311.29 
L 428.56 311.35 
L 430.48 311.2 
L 432.81 310.79 
L 435.62 310.03 
L 438.26 309.09 
L 441.3 307.79 
L 444.76 306.02 
L 447.63 304.33 
L 450.73 302.27 
L 454.03 299.81 
L 457.49 296.89 
L 461.04 293.5 
L 463.4 290.97 
L 465.72 288.23 
L 467.95 285.3 
L 470.02 282.22 
L 471.9 279.02 
L 473.5 275.75 
L 474.78 272.49 
L 475.66 269.31 
L 476.1 266.3 
L 476.13 264.89 
L 476.04 263.55 
L 475.81 262.3 
L 475.46 261.15 
L 474.97 260.11 
L 474.35 259.18 
L 473.6 258.38 
L 472.72 257.7 
L 471.71 257.15 
L 470.6 256.74 
L 469.37 256.46 
L 468.05 256.31 
L 466.63 256.28 
L 465.13 256.39 
L 461.93 256.94 
L 458.54 257.89 
L 455.03 259.16 
L 451.5 260.69 
L 446.28 263.25 
L 441.33 265.95 
L 435.34 269.46 
L 427.87 274.11 
L 421.36 278.42 
L 417.31 281.35 
L 414.31 283.79 
L 412.03 285.94 
L 409.66 288.49 
L 406.19 292.31 
L 404.62 293.68 
L 403.19 294.67 
L 401.61 295.49 
L 399.84 296.1 
L 398.28 296.41 
L 396.59 296.54 
L 394.77 296.45 
L 392.84 296.12 
L 390.81 295.5 
L 388.74 294.57 
L 387.18 293.65 
L 385.65 292.53 
L 384.19 291.21 
L 382.83 289.69 
L 381.62 287.98 
L 380.59 286.12 
L 379.81 284.14 
L 379.29 282.07 
L 379.08 280 
L 379.2 277.96 
L 379.46 276.67 
L 379.87 275.44 
L 380.42 274.31 
L 381.11 273.27 
L 381.92 272.36 
L 382.84 271.58 
L 383.85 270.93 
L 384.96 270.43 
L 386.12 270.08 
L 387.96 269.81 
L 389.85 269.85 
L 391.76 270.16 
L 393.62 270.72 
L 395.42 271.48 
L 397.12 272.4 
L 399.2 273.83 
L 401.03 275.41 
L 402.62 277.08 
L 403.95 278.79 
L 405.03 280.5 
L 405.87 282.18 
L 406.63 284.23 
L 407.07 286.18 
L 407.23 288.03 
L 407.12 289.77 
L 406.76 291.38 
L 406.17 292.86 
L 405.34 294.2 
L 404.51 295.17 
L 403.52 296.02 
L 402.36 296.76 
L 401.05 297.37 
L 399.56 297.82 
L 397.9 298.09 
L 396.07 298.15 
L 394.08 297.97 
L 391.95 297.5 
L 390.28 296.94 
L 388.57 296.18 
L 386.84 295.2 
L 385.13 294 
L 383.48 292.56 
L 381.92 290.88 
L 380.52 288.99 
L 379.33 286.9 
L 378.4 284.65 
L 377.95 283.09 
L 377.65 281.5 
L 377.51 279.91 
L 377.53 278.34 
L 377.74 276.82 
L 378.11 275.36 
L 378.65 273.99 
L 379.36 272.74 
L 380.22 271.62 
L 381.21 270.65 
L 382.33 269.84 
L 383.55 269.2 
L 384.85 268.73 
L 386.22 268.42 
L 387.63 268.29 
L 389.07 268.3 
L 391.23 268.6 
L 393.35 269.19 
L 395.39 270.01 
L 397.32 271.02 
L 399.12 272.18 
L 401.27 273.88 
L 403.14 275.69 
L 404.72 277.55 
L 406.03 279.41 
L 407.07 281.25 
L 407.88 283.04 
L 408.58 285.18 
L 408.97 287.21 
L 409.1 289.13 
L 408.97 290.92 
L 408.61 292.59 
L 408.02 294.13 
L 407.21 295.55 
L 406.17 296.82 
L 405.16 297.73 
L 403.99 298.54 
L 402.65 299.21 
L 401.12 299.75 
L 399.41 300.12 
L 397.5 300.29 
L 395.39 300.22 
L 393.11 299.86 
L 391.29 299.38 
L 389.39 298.69 
L 387.45 297.77 
L 385.48 296.59 
L 383.54 295.13 
L 381.67 293.4 
L 379.93 291.39 
L 378.38 289.11 
L 377.49 287.46 
L 376.74 285.73 
L 376.14 283.92 
L 375.72 282.07 
L 375.49 280.21 
L 375.46 278.35 
L 375.63 276.53 
L 376.02 274.79 
L 376.61 273.15 
L 377.4 271.64 
L 378.38 270.3 
L 379.52 269.13 
L 380.81 268.15 
L 382.23 267.38 
L 383.75 266.82 
L 385.34 266.46 
L 386.98 266.31 
L 388.65 266.34 
L 390.32 266.54 
L 392.79 267.13 
L 395.17 268.02 
L 397.42 269.14 
L 399.51 270.42 
L 401.42 271.83 
L 403.68 273.83 
L 405.61 275.88 
L 407.22 277.93 
L 408.53 279.95 
L 409.57 281.91 
L 410.54 284.26 
L 411.18 286.47 
L 411.53 288.56 
L 411.65 290.52 
L 411.54 292.35 
L 411.23 294.07 
L 410.73 295.66 
L 410.03 297.15 
L 409.13 298.52 
L 408.01 299.77 
L 406.65 300.88 
L 405.37 301.66 
L 403.9 302.33 
L 402.24 302.86 
L 400.36 303.23 
L 398.24 303.39 
L 395.9 303.31 
L 393.98 303.06 
L 391.94 302.61 
L 389.79 301.92 
L 387.56 300.98 
L 385.26 299.74 
L 382.95 298.18 
L 380.68 296.27 
L 379.22 294.8 
L 377.84 293.17 
L 376.56 291.39 
L 375.41 289.46 
L 374.41 287.4 
L 373.59 285.24 
L 372.98 283 
L 372.6 280.71 
L 372.48 278.42 
L 372.61 276.16 
L 373.01 273.98 
L 373.68 271.92 
L 374.6 270.03 
L 375.77 268.33 
L 377.15 266.87 
L 378.72 265.65 
L 380.45 264.7 
L 382.3 264.02 
L 384.24 263.61 
L 386.23 263.44 
L 388.25 263.52 
L 390.26 263.8 
L 392.25 264.28 
L 394.18 264.92 
L 396.95 266.13 
L 399.53 267.58 
L 401.89 269.17 
L 404.02 270.87 
L 405.92 272.61 
L 408.11 274.94 
L 409.93 277.24 
L 411.42 279.46 
L 412.62 281.58 
L 413.77 284.09 
L 414.59 286.44 
L 415.15 288.63 
L 415.54 291.07 
L 415.68 293.33 
L 415.6 295.74 
L 415.28 297.96 
L 414.74 300 
L 414.08 301.63 
L 413.23 303.14 
L 412.14 304.55 
L 411.03 305.63 
L 409.69 306.63 
L 408.07 307.53 
L 407.34 307.85 
L 407.34 307.85 
" clip-path="url(#p65156537e1)" style="fill: none; stroke: #d45252; stroke-width: 0.62; stroke-linecap: square"/>
</g>
</g>
<g id="patch_14">
<path d="M 514.4 359.7 
L 662.9 359.7 
L 662.9 211.2 
L 514.4 211.2 
z
" style="fill: #ffffff"/>
</g>
<g id="pane3d_10">
<g id="patch_15">
<path d="M 574.22 294.59 
L 525.1 323.45 
L 523.09 254.57 
L 573.76 231.23 
" style="fill: #f2f2f2; opacity: 0.6; stroke: #f2f2f2; stroke-linejoin: miter"/>
</g>
</g>
<g id="pane3d_11">
<g id="patch_16">
<path d="M 653.54 310.32 
L 574.22 294.59 
L 573.76 231.23 
L 655.4 243.93 
" style="fill: #f2f2f2; opacity: 0.6; stroke: #f2f2f2; stroke-linejoin: miter"/>
</g>
</g>
<g id="pane3d_12">
<g id="patch_17">
<path d="M 653.54 310.32 
L 574.22 294.59 
L 525.1 323.45 
L 609.78 342.53 
" style="fill: #f2f2f2; opacity: 0.6; stroke: #f2f2f2; stroke-linejoin: miter"/>
</g>
</g>
<g id="grid3d_10">
<g id="Line3DCollection_10">
<path d="M 607.65 342.05 
L 651.56 309.92 
L 653.35 243.61 
" style="fill: none; stroke: #c7c7c7; stroke-width: 0.5"/>
<path d="M 597.08 339.67 
L 641.69 307.97 
L 643.19 242.03 
" style="fill: none; stroke: #c7c7c7; stroke-width: 0.5"/>
<path d="M 586.65 337.32 
L 631.96 306.04 
L 633.16 240.47 
" style="fill: none; stroke: #c7c7c7; stroke-width: 0.5"/>
<path d="M 576.37 335 
L 622.34 304.13 
L 623.26 238.93 
" style="fill: none; stroke: #c7c7c7; stroke-width: 0.5"/>
<path d="M 566.23 332.72 
L 612.85 302.25 
L 613.48 237.41 
" style="fill: none; stroke: #c7c7c7; stroke-width: 0.5"/>
<path d="M 556.22 330.46 
L 603.47 300.39 
L 603.83 235.91 
" style="fill: none; stroke: #c7c7c7; stroke-width: 0.5"/>
<path d="M 546.35 328.24 
L 594.2 298.55 
L 594.3 234.42 
" style="fill: none; stroke: #c7c7c7; stroke-width: 0.5"/>
<path d="M 536.62 326.05 
L 585.05 296.74 
L 584.89 232.96 
" style="fill: none; stroke: #c7c7c7; stroke-width: 0.5"/>
<path d="M 527.01 323.88 
L 576.01 294.94 
L 575.6 231.51 
" style="fill: none; stroke: #c7c7c7; stroke-width: 0.5"/>
</g>
</g>
<g id="grid3d_11">
<g id="Line3DCollection_11">
<path d="M 567.72 234.01 
L 568.35 298.03 
L 648.34 314.15 
" style="fill: none; stroke: #c7c7c7; stroke-width: 0.5"/>
<path d="M 558.84 238.1 
L 559.73 303.1 
L 640.68 319.78 
" style="fill: none; stroke: #c7c7c7; stroke-width: 0.5"/>
<path d="M 549.64 242.33 
L 550.81 308.34 
L 632.74 325.63 
" style="fill: none; stroke: #c7c7c7; stroke-width: 0.5"/>
<path d="M 540.11 246.72 
L 541.57 313.77 
L 624.51 331.69 
" style="fill: none; stroke: #c7c7c7; stroke-width: 0.5"/>
<path d="M 530.23 251.28 
L 532.01 319.4 
L 615.96 337.98 
" style="fill: none; stroke: #c7c7c7; stroke-width: 0.5"/>
</g>
</g>
<g id="grid3d_12">
<g id="Line3DCollection_12">
<path d="M 653.66 306.01 
L 574.19 290.47 
L 524.97 318.99 
" style="fill: none; stroke: #c7c7c7; stroke-width: 0.5"/>
<path d="M 653.86 298.8 
L 574.14 283.58 
L 524.75 311.51 
" style="fill: none; stroke: #c7c7c7; stroke-width: 0.5"/>
<path d="M 654.07 291.53 
L 574.09 276.64 
L 524.53 303.98 
" style="fill: none; stroke: #c7c7c7; stroke-width: 0.5"/>
<path d="M 654.27 284.22 
L 574.03 269.66 
L 524.31 296.4 
" style="fill: none; stroke: #c7c7c7; stroke-width: 0.5"/>
<path d="M 654.48 276.87 
L 573.98 262.64 
L 524.09 288.77 
" style="fill: none; stroke: #c7c7c7; stroke-width: 0.5"/>
<path d="M 654.68 269.46 
L 573.93 255.57 
L 523.86 281.08 
" style="fill: none; stroke: #c7c7c7; stroke-width: 0.5"/>
<path d="M 654.89 262.01 
L 573.88 248.47 
L 523.63 273.35 
" style="fill: none; stroke: #c7c7c7; stroke-width: 0.5"/>
<path d="M 655.1 254.51 
L 573.83 241.31 
L 523.41 265.56 
" style="fill: none; stroke: #c7c7c7; stroke-width: 0.5"/>
<path d="M 655.31 246.96 
L 573.78 234.12 
L 523.18 257.72 
" style="fill: none; stroke: #c7c7c7; stroke-width: 0.5"/>
</g>
</g>
<g id="axis3d_10">
<g id="line2d_71">
<path d="M 525.1 323.45 
L 609.78 342.53 
" style="fill: none; stroke: #000000; stroke-width: 0.8; stroke-linecap: square"/>
</g>
<g id="xtick_59">
<g id="line2d_72">
<path d="M 608.04 341.77 
L 606.87 342.62 
" style="fill: none; stroke: #000000; stroke-width: 0.6; stroke-linecap: square"/>
</g>
<g id="text_68">
<text style="font-size: 7.3px; font-family: 'Liberation Sans'; text-anchor: middle" x="604.57" y="355.09" transform="rotate(-0 604.57 355.09)">−20</text>
</g>
</g>
<g id="xtick_60">
<g id="line2d_73">
<path d="M 597.47 339.39 
L 596.29 340.23 
" style="fill: none; stroke: #000000; stroke-width: 0.6; stroke-linecap: square"/>
</g>
<g id="text_69">
<text style="font-size: 7.3px; font-family: 'Liberation Sans'; text-anchor: middle" x="593.97" y="352.65" transform="rotate(-0 593.97 352.65)">−15</text>
</g>
</g>
<g id="xtick_61">
<g id="line2d_74">
<path d="M 587.05 337.04 
L 585.85 337.87 
" style="fill: none; stroke: #000000; stroke-width: 0.6; stroke-linecap: square"/>
</g>
<g id="text_70">
<text style="font-size: 7.3px; font-family: 'Liberation Sans'; text-anchor: middle" x="583.51" y="350.25" transform="rotate(-0 583.51 350.25)">−10</text>
</g>
</g>
<g id="xtick_62">
<g id="line2d_75">
<path d="M 576.77 334.73 
L 575.56 335.55 
" style="fill: none; stroke: #000000; stroke-width: 0.6; stroke-linecap: square"/>
</g>
<g id="text_71">
<text style="font-size: 7.3px; font-family: 'Liberation Sans'; text-anchor: middle" x="573.21" y="347.87" transform="rotate(-0 573.21 347.87)">−5</text>
</g>
</g>
<g id="xtick_63">
<g id="line2d_76">
<path d="M 566.64 332.45 
L 565.4 333.26 
" style="fill: none; stroke: #000000; stroke-width: 0.6; stroke-linecap: square"/>
</g>
<g id="text_72">
<text style="font-size: 7.3px; font-family: 'Liberation Sans'; text-anchor: middle" x="563.04" y="345.53" transform="rotate(-0 563.04 345.53)">0</text>
</g>
</g>
<g id="xtick_64">
<g id="line2d_77">
<path d="M 556.64 330.2 
L 555.39 330.99 
" style="fill: none; stroke: #000000; stroke-width: 0.6; stroke-linecap: square"/>
</g>
<g id="text_73">
<text style="font-size: 7.3px; font-family: 'Liberation Sans'; text-anchor: middle" x="553.01" y="343.22" transform="rotate(-0 553.01 343.22)">5</text>
</g>
</g>
<g id="xtick_65">
<g id="line2d_78">
<path d="M 546.77 327.98 
L 545.51 328.76 
" style="fill: none; stroke: #000000; stroke-width: 0.6; stroke-linecap: square"/>
</g>
<g id="text_74">
<text style="font-size: 7.3px; font-family: 'Liberation Sans'; text-anchor: middle" x="543.12" y="340.95" transform="rotate(-0 543.12 340.95)">10</text>
</g>
</g>
<g id="xtick_66">
<g id="line2d_79">
<path d="M 537.04 325.79 
L 535.76 326.56 
" style="fill: none; stroke: #000000; stroke-width: 0.6; stroke-linecap: square"/>
</g>
<g id="text_75">
<text style="font-size: 7.3px; font-family: 'Liberation Sans'; text-anchor: middle" x="533.36" y="338.70" transform="rotate(-0 533.36 338.70)">15</text>
</g>
</g>
<g id="xtick_67">
<g id="line2d_80">
<path d="M 527.44 323.63 
L 526.15 324.39 
" style="fill: none; stroke: #000000; stroke-width: 0.6; stroke-linecap: square"/>
</g>
<g id="text_76">
<text style="font-size: 7.3px; font-family: 'Liberation Sans'; text-anchor: middle" x="523.74" y="336.48" transform="rotate(-0 523.74 336.48)">20</text>
</g>
</g>
<g id="text_77">
<text style="font-size: 7px; font-family: 'Liberation Sans'; text-anchor: middle" x="558.48" y="354.14" transform="rotate(-347.31 558.48 354.14)">x-coordinate</text>
</g>
</g>
<g id="axis3d_11">
<g id="line2d_81">
<path d="M 653.54 310.32 
L 609.78 342.53 
" style="fill: none; stroke: #000000; stroke-width: 0.8; stroke-linecap: square"/>
</g>
<g id="xtick_68">
<g id="line2d_82">
<path d="M 647.67 314.01 
L 649.69 314.42 
" style="fill: none; stroke: #000000; stroke-width: 0.6; stroke-linecap: square"/>
</g>
<g id="text_78">
<text style="font-size: 7.3px; font-family: 'Liberation Sans'; text-anchor: middle" x="657.22" y="324.69" transform="rotate(-0 657.22 324.69)">−20</text>
</g>
</g>
<g id="xtick_69">
<g id="line2d_83">
<path d="M 640 319.64 
L 642.05 320.07 
" style="fill: none; stroke: #000000; stroke-width: 0.6; stroke-linecap: square"/>
</g>
<g id="text_79">
<text style="font-size: 7.3px; font-family: 'Liberation Sans'; text-anchor: middle" x="649.63" y="330.41" transform="rotate(-0 649.63 330.41)">−10</text>
</g>
</g>
<g id="xtick_70">
<g id="line2d_84">
<path d="M 632.05 325.48 
L 634.13 325.92 
" style="fill: none; stroke: #000000; stroke-width: 0.6; stroke-linecap: square"/>
</g>
<g id="text_80">
<text style="font-size: 7.3px; font-family: 'Liberation Sans'; text-anchor: middle" x="641.76" y="336.34" transform="rotate(-0 641.76 336.34)">0</text>
</g>
</g>
<g id="xtick_71">
<g id="line2d_85">
<path d="M 623.81 331.54 
L 625.91 331.99 
" style="fill: none; stroke: #000000; stroke-width: 0.6; stroke-linecap: square"/>
</g>
<g id="text_81">
<text style="font-size: 7.3px; font-family: 'Liberation Sans'; text-anchor: middle" x="633.60" y="342.50" transform="rotate(-0 633.60 342.50)">10</text>
</g>
</g>
<g id="xtick_72">
<g id="line2d_86">
<path d="M 615.25 337.82 
L 617.38 338.3 
" style="fill: none; stroke: #000000; stroke-width: 0.6; stroke-linecap: square"/>
</g>
<g id="text_82">
<text style="font-size: 7.3px; font-family: 'Liberation Sans'; text-anchor: middle" x="625.12" y="348.88" transform="rotate(-0 625.12 348.88)">20</text>
</g>
</g>
<g id="text_83">
<text style="font-size: 7px; font-family: 'Liberation Sans'; text-anchor: middle" x="652.85" y="342.36" transform="rotate(-36.35 652.85 342.36)">y-coordinate</text>
</g>
</g>
<g id="axis3d_12">
<g id="line2d_87">
<path d="M 653.54 310.32 
L 655.4 243.93 
" style="fill: none; stroke: #000000; stroke-width: 0.8; stroke-linecap: square"/>
</g>
<g id="xtick_73">
<g id="line2d_88">
<path d="M 652.99 305.88 
L 655 306.27 
" style="fill: none; stroke: #000000; stroke-width: 0.6; stroke-linecap: square"/>
</g>
<g id="text_84">
<text style="font-size: 7.3px; font-family: 'Liberation Sans'; text-anchor: middle" x="665.52" y="310.50" transform="rotate(-0 665.52 310.50)">5</text>
</g>
</g>
<g id="xtick_74">
<g id="line2d_89">
<path d="M 653.19 298.67 
L 655.21 299.05 
" style="fill: none; stroke: #000000; stroke-width: 0.6; stroke-linecap: square"/>
</g>
<g id="text_85">
<text style="font-size: 7.3px; font-family: 'Liberation Sans'; text-anchor: middle" x="665.75" y="303.30" transform="rotate(-0 665.75 303.30)">10</text>
</g>
</g>
<g id="xtick_75">
<g id="line2d_90">
<path d="M 653.39 291.41 
L 655.42 291.78 
" style="fill: none; stroke: #000000; stroke-width: 0.6; stroke-linecap: square"/>
</g>
<g id="text_86">
<text style="font-size: 7.3px; font-family: 'Liberation Sans'; text-anchor: middle" x="665.98" y="296.05" transform="rotate(-0 665.98 296.05)">15</text>
</g>
</g>
<g id="xtick_76">
<g id="line2d_91">
<path d="M 653.6 284.1 
L 655.63 284.47 
" style="fill: none; stroke: #000000; stroke-width: 0.6; stroke-linecap: square"/>
</g>
<g id="text_87">
<text style="font-size: 7.3px; font-family: 'Liberation Sans'; text-anchor: middle" x="666.21" y="288.76" transform="rotate(-0 666.21 288.76)">20</text>
</g>
</g>
<g id="xtick_77">
<g id="line2d_92">
<path d="M 653.8 276.75 
L 655.84 277.11 
" style="fill: none; stroke: #000000; stroke-width: 0.6; stroke-linecap: square"/>
</g>
<g id="text_88">
<text style="font-size: 7.3px; font-family: 'Liberation Sans'; text-anchor: middle" x="666.44" y="281.42" transform="rotate(-0 666.44 281.42)">25</text>
</g>
</g>
<g id="xtick_78">
<g id="line2d_93">
<path d="M 654 269.35 
L 656.05 269.7 
" style="fill: none; stroke: #000000; stroke-width: 0.6; stroke-linecap: square"/>
</g>
<g id="text_89">
<text style="font-size: 7.3px; font-family: 'Liberation Sans'; text-anchor: middle" x="666.67" y="274.04" transform="rotate(-0 666.67 274.04)">30</text>
</g>
</g>
<g id="xtick_79">
<g id="line2d_94">
<path d="M 654.21 261.9 
L 656.26 262.24 
" style="fill: none; stroke: #000000; stroke-width: 0.6; stroke-linecap: square"/>
</g>
<g id="text_90">
<text style="font-size: 7.3px; font-family: 'Liberation Sans'; text-anchor: middle" x="666.90" y="266.60" transform="rotate(-0 666.90 266.60)">35</text>
</g>
</g>
<g id="xtick_80">
<g id="line2d_95">
<path d="M 654.42 254.4 
L 656.47 254.74 
" style="fill: none; stroke: #000000; stroke-width: 0.6; stroke-linecap: square"/>
</g>
<g id="text_91">
<text style="font-size: 7.3px; font-family: 'Liberation Sans'; text-anchor: middle" x="667.14" y="259.12" transform="rotate(-0 667.14 259.12)">40</text>
</g>
</g>
<g id="xtick_81">
<g id="line2d_96">
<path d="M 654.62 246.86 
L 656.69 247.18 
" style="fill: none; stroke: #000000; stroke-width: 0.6; stroke-linecap: square"/>
</g>
<g id="text_92">
<text style="font-size: 7.3px; font-family: 'Liberation Sans'; text-anchor: middle" x="667.37" y="251.59" transform="rotate(-0 667.37 251.59)">45</text>
</g>
</g>
<g id="text_93">
<text style="font-size: 7px; font-family: 'Liberation Sans'; text-anchor: middle" x="681.11" y="278.96" transform="rotate(-88.4 681.11 278.96)">z-coordinate</text>
</g>
</g>
<g id="axes_5">
<g id="line2d_97">
<path d="M 608.4 302.22 
L 611.02 301.13 
L 613.97 299.64 
L 617.24 297.67 
L 619.89 295.82 
L 622.68 293.63 
L 625.55 291.06 
L 628.44 288.1 
L 631.27 284.78 
L 633.06 282.38 
L 634.72 279.85 
L 636.22 277.24 
L 637.5 274.58 
L 638.53 271.92 
L 639.25 269.33 
L 639.62 266.86 
L 639.62 264.58 
L 639.22 262.57 
L 638.87 261.68 
L 638.41 260.87 
L 637.86 260.15 
L 637.2 259.53 
L 636.45 259.01 
L 635.61 258.59 
L 634.69 258.28 
L 633.68 258.06 
L 631.45 257.93 
L 628.98 258.18 
L 626.34 258.77 
L 623.58 259.64 
L 620.77 260.74 
L 616.57 262.7 
L 612.52 264.85 
L 607.53 267.79 
L 602.14 271.26 
L 596.96 274.89 
L 593.05 277.93 
L 590.57 280.11 
L 588.63 282.07 
L 586.82 284.21 
L 585.19 286.51 
L 581.15 292.44 
L 579.82 293.86 
L 578.55 294.91 
L 577.1 295.82 
L 575.44 296.57 
L 573.94 297.01 
L 572.27 297.3 
L 570.43 297.4 
L 568.42 297.27 
L 566.24 296.86 
L 564.51 296.33 
L 562.72 295.6 
L 560.9 294.64 
L 559.06 293.43 
L 557.26 291.96 
L 555.55 290.21 
L 553.98 288.19 
L 552.61 285.93 
L 551.84 284.3 
L 551.22 282.6 
L 550.75 280.84 
L 550.45 279.05 
L 550.34 277.25 
L 550.42 275.48 
L 550.7 273.77 
L 551.18 272.14 
L 551.85 270.63 
L 552.7 269.26 
L 553.72 268.06 
L 554.88 267.04 
L 556.18 266.22 
L 557.57 265.59 
L 559.04 265.17 
L 560.57 264.94 
L 562.13 264.9 
L 563.7 265.03 
L 566.03 265.52 
L 568.28 266.3 
L 570.42 267.32 
L 572.41 268.52 
L 574.23 269.83 
L 576.39 271.71 
L 578.23 273.66 
L 579.77 275.61 
L 581.03 277.53 
L 582.26 279.85 
L 583.14 282.06 
L 583.72 284.14 
L 584.06 286.1 
L 584.18 287.94 
L 584.06 289.99 
L 583.7 291.89 
L 583.21 293.36 
L 582.55 294.73 
L 581.71 295.99 
L 580.68 297.14 
L 579.43 298.18 
L 577.93 299.07 
L 576.54 299.67 
L 574.96 300.13 
L 573.17 300.44 
L 571.16 300.56 
L 568.93 300.43 
L 566.48 300 
L 564.51 299.45 
L 562.44 298.65 
L 560.3 297.59 
L 558.13 296.22 
L 555.96 294.53 
L 553.88 292.48 
L 552.56 290.92 
L 551.34 289.21 
L 550.24 287.36 
L 549.28 285.38 
L 548.49 283.28 
L 547.9 281.11 
L 547.53 278.89 
L 547.4 276.65 
L 547.52 274.44 
L 547.89 272.31 
L 548.52 270.3 
L 549.4 268.44 
L 550.51 266.78 
L 551.83 265.34 
L 553.33 264.15 
L 554.98 263.23 
L 556.74 262.56 
L 558.59 262.16 
L 560.49 262 
L 562.41 262.08 
L 564.32 262.37 
L 566.19 262.84 
L 568.02 263.46 
L 570.63 264.65 
L 573.05 266.05 
L 575.27 267.59 
L 577.26 269.22 
L 579.57 271.45 
L 581.52 273.67 
L 583.13 275.83 
L 584.44 277.91 
L 585.71 280.37 
L 586.66 282.67 
L 587.45 285.23 
L 587.94 287.58 
L 588.24 290.09 
L 588.3 292.69 
L 588.13 295.04 
L 587.76 297.19 
L 587.18 299.15 
L 586.47 300.74 
L 585.68 302.01 
L 584.69 303.2 
L 583.44 304.3 
L 582.16 305.15 
L 580.63 305.9 
L 578.78 306.55 
L 576.56 307.03 
L 574.49 307.27 
L 572.11 307.32 
L 569.4 307.11 
L 567.15 306.74 
L 564.71 306.13 
L 562.09 305.24 
L 559.31 304 
L 557.39 302.96 
L 555.44 301.71 
L 553.47 300.25 
L 551.52 298.55 
L 549.61 296.61 
L 547.78 294.42 
L 546.09 291.98 
L 544.57 289.3 
L 543.27 286.41 
L 542.25 283.34 
L 541.54 280.13 
L 541.19 276.86 
L 541.23 273.59 
L 541.68 270.41 
L 542.53 267.39 
L 543.11 265.97 
L 543.79 264.61 
L 544.55 263.34 
L 545.41 262.16 
L 546.34 261.06 
L 547.35 260.07 
L 548.43 259.18 
L 549.57 258.39 
L 550.76 257.72 
L 552.01 257.15 
L 554.59 256.33 
L 557.28 255.93 
L 560 255.91 
L 562.71 256.23 
L 565.37 256.84 
L 567.94 257.7 
L 570.4 258.74 
L 572.73 259.93 
L 575.96 261.91 
L 578.86 264 
L 581.44 266.13 
L 584.39 268.92 
L 586.84 271.59 
L 588.86 274.08 
L 590.9 276.93 
L 592.78 279.99 
L 594.64 283.5 
L 597.6 289.2 
L 598.66 290.72 
L 599.63 291.8 
L 600.73 292.69 
L 601.98 293.39 
L 603.12 293.8 
L 604.39 294.05 
L 605.83 294.14 
L 607.43 294.03 
L 609.2 293.7 
L 611.16 293.12 
L 613.31 292.26 
L 615.62 291.07 
L 618.07 289.53 
L 620.6 287.62 
L 622.52 285.94 
L 624.4 284.06 
L 626.19 281.99 
L 627.83 279.77 
L 629.25 277.45 
L 630.38 275.1 
L 631.16 272.8 
L 631.45 271.34 
L 631.55 269.96 
L 631.43 268.71 
L 631.1 267.6 
L 630.56 266.65 
L 629.8 265.89 
L 628.85 265.31 
L 627.72 264.94 
L 626.43 264.77 
L 625 264.79 
L 623.46 264.99 
L 621 265.59 
L 618.45 266.48 
L 615.89 267.6 
L 612.58 269.32 
L 609.5 271.17 
L 606.09 273.51 
L 603.22 275.77 
L 600.9 277.9 
L 599.08 279.89 
L 597.69 281.75 
L 596.66 283.51 
L 595.95 285.18 
L 595.48 286.76 
L 595.19 288.56 
L 595.15 290.25 
L 595.31 291.83 
L 595.67 293.29 
L 596.21 294.61 
L 596.95 295.8 
L 597.73 296.66 
L 598.68 297.4 
L 599.83 297.99 
L 601.2 298.4 
L 602.83 298.61 
L 604.34 298.59 
L 606.07 298.38 
L 608.02 297.94 
L 610.21 297.23 
L 612.65 296.21 
L 615.33 294.8 
L 618.24 292.97 
L 620.53 291.29 
L 622.88 289.32 
L 625.25 287.07 
L 627.57 284.55 
L 629.76 281.77 
L 631.73 278.81 
L 632.87 276.76 
L 633.84 274.7 
L 634.6 272.66 
L 635.12 270.67 
L 635.38 268.79 
L 635.36 267.05 
L 635.05 265.49 
L 634.44 264.16 
L 633.54 263.09 
L 632.36 262.29 
L 630.92 261.78 
L 629.25 261.55 
L 627.39 261.6 
L 625.38 261.91 
L 623.26 262.44 
L 621.08 263.16 
L 617.76 264.52 
L 614.49 266.12 
L 610.37 268.42 
L 606.64 270.76 
L 602.62 273.54 
L 599.34 276.1 
L 596.73 278.42 
L 594.69 280.54 
L 593.12 282.49 
L 591.92 284.32 
L 590.84 286.39 
L 589.92 288.68 
L 588.96 291.73 
L 587.39 296.89 
L 586.55 298.82 
L 585.64 300.4 
L 584.66 301.66 
L 583.46 302.84 
L 582.24 303.74 
L 580.77 304.55 
L 579.02 305.26 
L 576.93 305.81 
L 574.98 306.11 
L 572.75 306.24 
L 570.21 306.13 
L 568.1 305.86 
L 565.82 305.37 
L 563.35 304.63 
L 560.74 303.58 
L 558 302.17 
L 556.13 301 
L 554.25 299.63 
L 552.38 298.03 
L 550.55 296.22 
L 548.79 294.16 
L 547.16 291.88 
L 545.68 289.37 
L 544.4 286.66 
L 543.38 283.77 
L 542.64 280.76 
L 542.23 277.67 
L 542.18 274.57 
L 542.51 271.54 
L 543.22 268.64 
L 544.31 265.95 
L 545.74 263.53 
L 546.58 262.45 
L 547.5 261.45 
L 548.48 260.55 
L 549.53 259.74 
L 551.78 258.43 
L 554.19 257.52 
L 556.71 257.01 
L 559.29 256.86 
L 561.87 257.04 
L 564.43 257.52 
L 566.91 258.24 
L 569.3 259.16 
L 571.58 260.25 
L 574.76 262.08 
L 577.63 264.06 
L 580.18 266.11 
L 582.44 268.16 
L 585.01 270.81 
L 587.14 273.34 
L 589.28 276.26 
L 590.96 278.92 
L 592.51 281.78 
L 594.24 285.48 
L 596.35 290.05 
L 597.43 291.87 
L 598.49 293.18 
L 599.51 294.09 
L 600.68 294.83 
L 602.04 295.38 
L 603.29 295.65 
L 604.7 295.77 
L 606.29 295.7 
L 608.06 295.42 
L 610.05 294.89 
L 612.23 294.08 
L 614.62 292.94 
L 617.19 291.43 
L 619.9 289.52 
L 621.98 287.81 
L 624.06 285.86 
L 626.08 283.69 
L 627.98 281.32 
L 629.69 278.79 
L 631.12 276.19 
L 631.88 274.44 
L 632.46 272.73 
L 632.84 271.08 
L 632.99 269.52 
L 632.91 268.09 
L 632.59 266.82 
L 632.02 265.73 
L 631.21 264.85 
L 630.18 264.2 
L 628.94 263.77 
L 627.51 263.57 
L 625.93 263.6 
L 624.22 263.83 
L 622.42 264.25 
L 619.61 265.17 
L 616.77 266.36 
L 613.08 268.22 
L 609.63 270.24 
L 605.82 272.78 
L 602.61 275.21 
L 600.01 277.48 
L 597.95 279.57 
L 596.37 281.53 
L 595.19 283.36 
L 594.32 285.09 
L 593.6 287.06 
L 593.16 288.93 
L 592.9 290.99 
L 592.87 293.18 
L 593.04 295.19 
L 593.41 297.02 
L 593.98 298.67 
L 594.67 299.94 
L 595.43 300.89 
L 596.39 301.7 
L 597.38 302.25 
L 598.56 302.66 
L 599.99 302.91 
L 601.69 302.96 
L 603.74 302.75 
L 605.65 302.36 
L 607.84 301.71 
L 610.33 300.76 
L 613.13 299.43 
L 616.24 297.66 
L 618.77 295.98 
L 621.43 293.98 
L 624.2 291.63 
L 627.01 288.92 
L 629.79 285.84 
L 631.57 283.6 
L 633.25 281.23 
L 634.8 278.76 
L 636.17 276.22 
L 637.31 273.65 
L 638.19 271.11 
L 638.76 268.66 
L 638.99 266.35 
L 638.85 264.25 
L 638.32 262.41 
L 637.91 261.61 
L 637.4 260.89 
L 636.8 260.27 
L 636.11 259.73 
L 635.33 259.3 
L 634.47 258.95 
L 633.52 258.71 
L 631.43 258.51 
L 629.09 258.67 
L 626.57 259.17 
L 623.93 259.94 
L 621.23 260.95 
L 617.16 262.78 
L 613.22 264.83 
L 608.33 267.67 
L 603.01 271.07 
L 598.63 274.12 
L 595.14 276.78 
L 592.39 279.1 
L 590.26 281.17 
L 588.58 283.06 
L 587.01 285.15 
L 585.38 287.73 
L 582.55 292.33 
L 581.16 294.08 
L 579.76 295.43 
L 578.4 296.42 
L 576.84 297.26 
L 575.42 297.81 
L 573.82 298.22 
L 572.05 298.46 
L 570.08 298.5 
L 567.93 298.29 
L 565.6 297.77 
L 563.75 297.15 
L 561.84 296.3 
L 559.89 295.19 
L 557.94 293.81 
L 556.04 292.13 
L 554.24 290.16 
L 553.14 288.68 
L 552.13 287.08 
L 551.25 285.36 
L 550.5 283.56 
L 549.92 281.68 
L 549.53 279.75 
L 549.33 277.8 
L 549.34 275.87 
L 549.56 273.98 
L 550.01 272.18 
L 550.67 270.49 
L 551.53 268.96 
L 552.58 267.6 
L 553.8 266.43 
L 555.16 265.48 
L 556.64 264.75 
L 558.22 264.25 
L 559.85 263.96 
L 561.53 263.87 
L 563.22 263.99 
L 564.9 264.27 
L 567.37 264.98 
L 569.72 265.98 
L 571.91 267.18 
L 573.94 268.54 
L 575.77 270 
L 577.92 272.02 
L 579.74 274.08 
L 581.24 276.11 
L 582.46 278.08 
L 583.64 280.44 
L 584.49 282.67 
L 585.06 284.76 
L 585.44 287.1 
L 585.54 289.27 
L 585.41 291.27 
L 585.07 293.13 
L 584.52 294.85 
L 583.75 296.44 
L 582.94 297.66 
L 581.94 298.79 
L 580.73 299.82 
L 579.29 300.73 
L 577.57 301.5 
L 575.98 301.99 
L 574.16 302.33 
L 572.11 302.49 
L 569.81 302.42 
L 567.25 302.06 
L 565.17 301.55 
L 562.97 300.8 
L 560.67 299.77 
L 558.29 298.41 
L 555.9 296.7 
L 554.33 295.34 
L 552.79 293.81 
L 551.33 292.09 
L 549.96 290.2 
L 548.73 288.13 
L 547.66 285.91 
L 546.78 283.57 
L 546.13 281.12 
L 545.73 278.61 
L 545.61 276.09 
L 545.77 273.61 
L 546.24 271.22 
L 547 268.97 
L 548.04 266.91 
L 549.34 265.08 
L 550.88 263.53 
L 552.61 262.27 
L 554.5 261.31 
L 556.52 260.66 
L 558.61 260.32 
L 560.74 260.25 
L 562.88 260.43 
L 564.99 260.85 
L 567.06 261.46 
L 569.05 262.23 
L 571.88 263.63 
L 574.48 265.23 
L 576.83 266.96 
L 578.93 268.74 
L 581.36 271.14 
L 583.38 273.5 
L 585.05 275.76 
L 586.71 278.42 
L 587.99 280.89 
L 589.11 283.62 
L 590.03 286.49 
L 590.8 289.76 
L 591.6 294.34 
L 592.34 298.28 
L 592.95 300.32 
L 593.6 301.74 
L 594.35 302.81 
L 595.15 303.59 
L 596.17 304.24 
L 597.2 304.65 
L 598.46 304.93 
L 599.97 305.04 
L 601.8 304.94 
L 604 304.57 
L 606.63 303.84 
L 609.09 302.94 
L 611.88 301.68 
L 615.02 299.97 
L 617.6 298.35 
L 620.35 296.39 
L 623.25 294.07 
L 626.25 291.34 
L 629.26 288.21 
L 631.23 285.9 
L 633.14 283.43 
L 634.93 280.81 
L 636.56 278.09 
L 637.98 275.3 
L 639.14 272.49 
L 640 269.73 
L 640.5 267.08 
L 640.6 264.62 
L 640.5 263.49 
L 640.29 262.42 
L 639.97 261.44 
L 639.55 260.54 
L 639.01 259.74 
L 638.37 259.04 
L 637.63 258.45 
L 636.78 257.97 
L 635.85 257.59 
L 634.82 257.32 
L 633.71 257.17 
L 631.28 257.17 
L 628.62 257.57 
L 625.79 258.3 
L 622.87 259.33 
L 619.91 260.57 
L 615.53 262.71 
L 611.34 265.01 
L 606.24 268.07 
L 600.79 271.61 
L 595.61 275.23 
L 591.71 278.22 
L 588.82 280.75 
L 586.66 282.97 
L 584.74 285.3 
L 579.45 292.17 
L 577.97 293.44 
L 576.56 294.36 
L 574.97 295.1 
L 573.53 295.55 
L 571.95 295.84 
L 570.21 295.94 
L 568.32 295.82 
L 566.29 295.44 
L 564.15 294.76 
L 562.49 294.01 
L 560.81 293.06 
L 559.14 291.87 
L 557.53 290.44 
L 556.01 288.78 
L 554.64 286.89 
L 553.47 284.79 
L 552.56 282.53 
L 552.12 280.96 
L 551.84 279.36 
L 551.71 277.76 
L 551.76 276.18 
L 551.97 274.64 
L 552.36 273.17 
L 552.92 271.8 
L 553.64 270.55 
L 554.51 269.44 
L 555.51 268.48 
L 556.64 267.68 
L 557.86 267.06 
L 559.15 266.62 
L 560.51 266.35 
L 561.9 266.24 
L 563.31 266.29 
L 565.43 266.64 
L 567.49 267.27 
L 569.46 268.13 
L 571.32 269.16 
L 573.03 270.33 
L 575.08 272.04 
L 576.84 273.83 
L 578.32 275.65 
L 579.54 277.46 
L 580.72 279.68 
L 581.56 281.8 
L 582.11 283.82 
L 582.39 285.72 
L 582.44 287.51 
L 582.28 289.18 
L 581.92 290.74 
L 581.38 292.19 
L 580.63 293.53 
L 579.69 294.74 
L 578.52 295.82 
L 577.13 296.75 
L 575.83 297.37 
L 574.35 297.86 
L 572.69 298.18 
L 570.84 298.32 
L 568.79 298.22 
L 566.56 297.84 
L 564.78 297.34 
L 562.92 296.63 
L 561.01 295.68 
L 559.08 294.47 
L 557.17 292.97 
L 555.33 291.18 
L 553.63 289.1 
L 552.6 287.56 
L 551.68 285.91 
L 550.9 284.15 
L 550.27 282.32 
L 549.81 280.43 
L 549.54 278.51 
L 549.48 276.59 
L 549.63 274.71 
L 549.99 272.9 
L 550.56 271.19 
L 551.34 269.62 
L 552.31 268.21 
L 553.45 266.99 
L 554.75 265.97 
L 556.17 265.17 
L 557.69 264.58 
L 559.29 264.21 
L 560.94 264.06 
L 562.6 264.09 
L 564.27 264.31 
L 565.92 264.69 
L 568.31 265.51 
L 570.58 266.59 
L 572.68 267.85 
L 574.61 269.24 
L 576.89 271.21 
L 578.83 273.24 
L 580.46 275.27 
L 581.79 277.25 
L 583.09 279.64 
L 584.04 281.91 
L 584.69 284.04 
L 585.09 286.04 
L 585.3 288.28 
L 585.25 290.35 
L 584.98 292.27 
L 584.49 294.05 
L 583.78 295.69 
L 583.02 296.95 
L 582.08 298.12 
L 580.94 299.19 
L 579.57 300.14 
L 577.93 300.96 
L 576.42 301.49 
L 574.69 301.88 
L 572.73 302.11 
L 570.53 302.12 
L 568.09 301.87 
L 566.09 301.46 
L 563.97 300.82 
L 561.74 299.93 
L 559.43 298.74 
L 557.07 297.21 
L 554.74 295.3 
L 553.22 293.82 
L 551.77 292.16 
L 550.42 290.33 
L 549.18 288.32 
L 548.1 286.17 
L 547.21 283.89 
L 546.53 281.51 
L 546.1 279.06 
L 545.93 276.59 
L 546.04 274.15 
L 546.44 271.78 
L 547.13 269.55 
L 548.1 267.49 
L 549.33 265.66 
L 550.79 264.08 
L 552.45 262.79 
L 554.28 261.79 
L 556.23 261.09 
L 558.27 260.68 
L 560.35 260.56 
L 562.45 260.68 
L 564.53 261.04 
L 566.58 261.59 
L 568.55 262.32 
L 571.36 263.65 
L 573.95 265.2 
L 576.31 266.88 
L 578.42 268.64 
L 580.86 271.01 
L 582.9 273.34 
L 584.59 275.59 
L 586.26 278.26 
L 587.54 280.74 
L 588.67 283.48 
L 589.47 285.97 
L 590.18 288.97 
L 590.71 292.26 
L 592.14 302.33 
L 592.66 303.8 
L 593.29 304.93 
L 594.01 305.78 
L 594.82 306.38 
L 595.84 306.86 
L 597.12 307.19 
L 598.46 307.31 
L 600.08 307.26 
L 602.05 306.98 
L 604.43 306.42 
L 607.3 305.46 
L 609.99 304.33 
L 613.05 302.79 
L 616.5 300.75 
L 619.33 298.82 
L 622.35 296.51 
L 625.51 293.77 
L 628.75 290.59 
L 630.9 288.21 
L 633.01 285.64 
L 635.02 282.9 
L 636.91 280 
L 638.6 276.99 
L 640.04 273.92 
L 641.18 270.86 
L 641.95 267.87 
L 642.31 265.05 
L 642.33 263.72 
L 642.22 262.47 
L 642 261.3 
L 641.65 260.22 
L 641.18 259.24 
L 640.6 258.37 
L 639.89 257.61 
L 639.07 256.97 
L 638.14 256.46 
L 637.1 256.07 
L 635.96 255.8 
L 634.74 255.66 
L 633.43 255.64 
L 630.61 255.93 
L 627.58 256.64 
L 624.42 257.69 
L 621.2 259.01 
L 617.99 260.51 
L 613.32 262.98 
L 607.56 266.34 
L 601.36 270.25 
L 594.6 274.78 
L 589.78 278.3 
L 586.8 280.74 
L 584.56 282.84 
L 582.29 285.32 
L 578.42 289.72 
L 576.98 290.98 
L 575.65 291.87 
L 574.18 292.6 
L 572.53 293.13 
L 571.08 293.39 
L 569.51 293.46 
L 567.83 293.33 
L 566.05 292.96 
L 564.2 292.31 
L 562.31 291.37 
L 560.9 290.45 
L 559.52 289.34 
L 558.22 288.05 
L 557.03 286.57 
L 555.99 284.93 
L 555.13 283.15 
L 554.5 281.28 
L 554.13 279.34 
L 554.05 277.42 
L 554.27 275.55 
L 554.78 273.81 
L 555.29 272.75 
L 555.92 271.79 
L 556.66 270.94 
L 557.51 270.21 
L 558.44 269.61 
L 559.44 269.15 
L 561.06 268.7 
L 562.76 268.54 
L 564.49 268.67 
L 566.22 269.04 
L 567.9 269.62 
L 569.5 270.38 
L 571.49 271.61 
L 573.27 273.02 
L 574.82 274.54 
L 576.13 276.11 
L 577.22 277.71 
L 578.27 279.68 
L 579.01 281.6 
L 579.45 283.44 
L 579.64 285.19 
L 579.58 286.82 
L 579.29 288.35 
L 578.79 289.76 
L 578.07 291.04 
L 577.14 292.18 
L 575.99 293.16 
L 574.9 293.83 
L 573.66 294.36 
L 572.26 294.74 
L 570.71 294.94 
L 569.01 294.95 
L 567.16 294.72 
L 565.2 294.21 
L 563.14 293.39 
L 561.57 292.55 
L 560.01 291.5 
L 558.49 290.23 
L 557.04 288.74 
L 555.72 287.04 
L 554.58 285.15 
L 553.65 283.1 
L 553 280.94 
L 552.65 278.72 
L 552.61 277.24 
L 552.72 275.8 
L 552.99 274.41 
L 553.41 273.09 
L 553.99 271.87 
L 554.71 270.76 
L 555.56 269.79 
L 556.53 268.95 
L 557.6 268.28 
L 558.76 267.76 
L 559.98 267.4 
L 561.25 267.19 
L 563.2 267.16 
L 565.17 267.44 
L 567.1 267.98 
L 568.96 268.74 
L 570.71 269.68 
L 572.34 270.76 
L 574.29 272.34 
L 575.99 274.03 
L 577.42 275.76 
L 578.59 277.49 
L 579.74 279.62 
L 580.55 281.67 
L 581.06 283.63 
L 581.31 285.48 
L 581.32 287.22 
L 581.11 288.85 
L 580.69 290.36 
L 580.07 291.76 
L 579.25 293.03 
L 578.21 294.16 
L 576.94 295.15 
L 575.76 295.81 
L 574.41 296.35 
L 572.89 296.73 
L 571.19 296.94 
L 569.32 296.94 
L 567.27 296.68 
L 565.08 296.12 
L 563.36 295.47 
L 561.59 294.61 
L 559.8 293.51 
L 558.04 292.16 
L 556.34 290.54 
L 554.76 288.67 
L 553.36 286.54 
L 552.21 284.21 
L 551.6 282.56 
L 551.14 280.86 
L 550.85 279.12 
L 550.74 277.38 
L 550.81 275.67 
L 551.07 274.01 
L 551.53 272.43 
L 552.17 270.96 
L 552.98 269.63 
L 553.96 268.45 
L 555.07 267.45 
L 556.32 266.64 
L 557.66 266.02 
L 559.08 265.59 
L 560.56 265.35 
L 562.07 265.29 
L 563.59 265.4 
L 565.86 265.85 
L 568.06 266.59 
L 570.15 267.56 
L 572.1 268.71 
L 573.89 269.99 
L 576.01 271.82 
L 577.83 273.72 
L 579.35 275.63 
L 580.6 277.52 
L 581.81 279.81 
L 582.68 282 
L 583.25 284.06 
L 583.57 286.01 
L 583.66 287.83 
L 583.56 289.54 
L 583.27 291.14 
L 582.8 292.64 
L 582.16 294.03 
L 581.34 295.31 
L 580.32 296.47 
L 579.07 297.51 
L 577.59 298.41 
L 576.21 299 
L 574.64 299.46 
L 572.87 299.76 
L 570.9 299.87 
L 568.7 299.73 
L 566.3 299.29 
L 564.38 298.73 
L 562.37 297.93 
L 560.29 296.87 
L 558.19 295.52 
L 556.11 293.85 
L 554.11 291.85 
L 552.86 290.33 
L 551.7 288.67 
L 550.66 286.87 
L 549.76 284.95 
L 549.02 282.94 
L 548.48 280.85 
L 548.14 278.72 
L 548.04 276.59 
L 548.17 274.48 
L 548.54 272.45 
L 549.16 270.54 
L 550.01 268.77 
L 551.08 267.19 
L 552.35 265.83 
L 553.79 264.7 
L 555.37 263.81 
L 557.06 263.18 
L 558.83 262.79 
L 560.65 262.63 
L 562.49 262.7 
L 564.32 262.97 
L 566.13 263.41 
L 568.75 264.35 
L 571.21 265.56 
L 573.48 266.96 
L 575.56 268.48 
L 577.42 270.07 
L 579.58 272.24 
L 581.39 274.4 
L 582.88 276.5 
L 584.34 279.01 
L 585.44 281.38 
L 586.23 283.6 
L 586.86 286.07 
L 587.2 288.35 
L 587.33 290.78 
L 587.21 293.01 
L 586.89 295.06 
L 586.36 296.95 
L 585.73 298.45 
L 584.92 299.85 
L 583.89 301.14 
L 582.83 302.14 
L 581.56 303.06 
L 580.04 303.88 
L 578.21 304.57 
L 576.51 305 
L 574.55 305.29 
L 572.33 305.4 
L 569.8 305.27 
L 567.71 304.97 
L 565.45 304.46 
L 563.03 303.69 
L 560.47 302.62 
L 557.81 301.18 
L 555.99 300 
L 554.18 298.62 
L 552.38 297.03 
L 550.63 295.22 
L 548.97 293.19 
L 547.43 290.94 
L 546.05 288.49 
L 544.87 285.85 
L 543.94 283.05 
L 543.29 280.15 
L 542.97 277.18 
L 542.98 274.23 
L 543.36 271.34 
L 544.09 268.59 
L 545.18 266.06 
L 546.6 263.79 
L 548.32 261.84 
L 550.29 260.25 
L 552.46 259.04 
L 554.79 258.2 
L 557.21 257.73 
L 559.69 257.61 
L 562.17 257.81 
L 564.62 258.28 
L 567.01 258.98 
L 569.31 259.87 
L 571.5 260.92 
L 574.56 262.69 
L 577.32 264.61 
L 579.79 266.6 
L 581.97 268.59 
L 584.46 271.19 
L 586.52 273.66 
L 588.59 276.55 
L 590.21 279.19 
L 591.69 282.05 
L 593.16 285.39 
L 595.87 291.82 
L 596.89 293.52 
L 597.91 294.75 
L 598.9 295.62 
L 600.06 296.31 
L 601.42 296.83 
L 602.67 297.08 
L 604.09 297.18 
L 605.7 297.1 
L 607.51 296.81 
L 609.54 296.26 
L 611.8 295.43 
L 614.28 294.25 
L 616.97 292.69 
L 619.83 290.7 
L 622.04 288.91 
L 624.27 286.86 
L 626.45 284.55 
L 628.53 282.02 
L 630.41 279.3 
L 632.01 276.47 
L 632.88 274.57 
L 633.55 272.69 
L 634 270.87 
L 634.2 269.15 
L 634.15 267.56 
L 633.84 266.15 
L 633.25 264.94 
L 632.4 263.96 
L 631.29 263.24 
L 629.95 262.77 
L 628.4 262.55 
L 626.68 262.59 
L 624.83 262.85 
L 622.87 263.32 
L 619.82 264.35 
L 616.74 265.67 
L 613.73 267.18 
L 609.95 269.34 
L 606.54 271.53 
L 602.87 274.15 
L 599.88 276.58 
L 597.5 278.8 
L 595.64 280.86 
L 594.23 282.76 
L 593.16 284.56 
L 592.23 286.6 
L 591.5 288.85 
L 590.96 291.27 
L 590.52 294.34 
L 589.4 303.25 
L 588.89 305.01 
L 588.25 306.48 
L 587.45 307.69 
L 586.51 308.7 
L 585.46 309.52 
L 584.13 310.29 
L 582.43 311.01 
L 580.66 311.53 
L 578.51 311.95 
L 575.88 312.21 
L 573.39 312.25 
L 570.5 312.05 
L 568.05 311.7 
L 565.35 311.11 
L 562.41 310.22 
L 559.23 308.95 
L 557 307.85 
L 554.7 306.52 
L 552.35 304.93 
L 549.98 303.05 
L 547.64 300.86 
L 545.37 298.34 
L 543.22 295.49 
L 541.26 292.3 
L 539.57 288.8 
L 538.2 285.04 
L 537.66 283.07 
L 537.23 281.06 
L 536.92 279.02 
L 536.72 276.96 
L 536.66 274.9 
L 536.72 272.84 
L 536.92 270.81 
L 537.26 268.81 
L 537.73 266.87 
L 538.34 265 
L 539.08 263.21 
L 539.94 261.51 
L 540.93 259.93 
L 542.03 258.46 
L 543.23 257.12 
L 544.53 255.92 
L 545.92 254.86 
L 547.38 253.95 
L 548.9 253.18 
L 550.48 252.56 
L 552.09 252.08 
L 553.74 251.75 
L 555.41 251.54 
L 557.09 251.47 
L 558.77 251.51 
L 562.1 251.93 
L 565.35 252.72 
L 568.47 253.81 
L 571.43 255.13 
L 574.22 256.61 
L 576.82 258.19 
L 580.37 260.66 
L 583.49 263.14 
L 587.05 266.31 
L 589.99 269.26 
L 592.95 272.57 
L 595.68 275.99 
L 598.65 280.13 
L 601.56 284.18 
L 602.9 285.67 
L 604.06 286.66 
L 605.31 287.41 
L 606.39 287.84 
L 607.55 288.11 
L 608.82 288.2 
L 610.19 288.11 
L 611.66 287.83 
L 613.23 287.33 
L 614.88 286.61 
L 616.59 285.66 
L 618.32 284.47 
L 620.04 283.07 
L 621.67 281.46 
L 623.15 279.69 
L 624.39 277.82 
L 625.33 275.93 
L 625.79 274.55 
L 626.01 273.26 
L 625.96 272.1 
L 625.65 271.1 
L 625.07 270.3 
L 624.25 269.73 
L 623.19 269.39 
L 621.94 269.28 
L 620.54 269.4 
L 619.03 269.73 
L 616.91 270.43 
L 614.78 271.38 
L 612.22 272.79 
L 609.87 274.36 
L 607.83 275.97 
L 606.13 277.58 
L 604.76 279.14 
L 603.73 280.64 
L 603.01 282.06 
L 602.57 283.4 
L 602.4 284.64 
L 602.46 285.79 
L 602.76 286.82 
L 603.27 287.73 
L 603.99 288.5 
L 604.93 289.11 
L 606.08 289.53 
L 607.45 289.74 
L 609.04 289.69 
L 610.85 289.37 
L 612.87 288.71 
L 614.61 287.93 
L 616.45 286.91 
L 618.33 285.63 
L 620.22 284.09 
L 622.05 282.32 
L 623.74 280.35 
L 625.19 278.24 
L 626.08 276.63 
L 626.73 275.03 
L 627.13 273.5 
L 627.24 272.09 
L 627.05 270.85 
L 626.75 270.14 
L 626.31 269.53 
L 625.74 269.05 
L 625.05 268.68 
L 624.24 268.44 
L 622.85 268.3 
L 621.27 268.43 
L 619.57 268.79 
L 617.19 269.59 
L 614.79 270.66 
L 612.48 271.91 
L 609.8 273.62 
L 607.47 275.39 
L 605.51 277.14 
L 603.93 278.84 
L 602.72 280.46 
L 601.84 282 
L 601.27 283.46 
L 600.97 284.82 
L 600.92 286.09 
L 601.1 287.26 
L 601.49 288.31 
L 602.09 289.24 
L 602.9 290.03 
L 603.93 290.65 
L 605.17 291.08 
L 606.32 291.26 
L 607.64 291.29 
L 609.1 291.13 
L 610.72 290.77 
L 612.49 290.18 
L 614.4 289.33 
L 616.42 288.21 
L 618.52 286.79 
L 620.65 285.08 
L 622.73 283.09 
L 624.66 280.85 
L 625.95 279.06 
L 627.06 277.2 
L 627.92 275.34 
L 628.5 273.53 
L 628.76 271.84 
L 628.73 270.81 
L 628.54 269.88 
L 628.19 269.06 
L 627.68 268.37 
L 627.01 267.82 
L 626.2 267.42 
L 625.26 267.17 
L 624.19 267.06 
L 622.42 267.16 
L 620.48 267.54 
L 618.45 268.18 
L 615.7 269.32 
L 613.02 270.7 
L 610.5 272.21 
L 607.68 274.17 
L 605.28 276.12 
L 603.32 278 
L 601.78 279.79 
L 600.62 281.49 
L 599.8 283.09 
L 599.28 284.61 
L 599.02 286.04 
L 598.99 287.37 
L 599.17 288.61 
L 599.54 289.75 
L 600.11 290.77 
L 600.87 291.66 
L 601.83 292.4 
L 603 292.97 
L 604.11 293.29 
L 605.37 293.45 
L 606.79 293.45 
L 608.39 293.25 
L 610.17 292.84 
L 612.13 292.16 
L 614.25 291.21 
L 616.53 289.94 
L 618.92 288.32 
L 621.35 286.35 
L 623.17 284.65 
L 624.92 282.76 
L 626.55 280.72 
L 628.01 278.56 
L 629.23 276.34 
L 630.14 274.13 
L 630.68 272.01 
L 630.82 270.69 
L 630.77 269.48 
L 630.52 268.38 
L 630.06 267.44 
L 629.41 266.66 
L 628.57 266.06 
L 627.56 265.64 
L 626.38 265.41 
L 625.08 265.36 
L 623.66 265.48 
L 621.37 265.95 
L 618.97 266.72 
L 616.53 267.73 
L 613.35 269.31 
L 610.37 271.05 
L 607.03 273.29 
L 604.19 275.49 
L 601.88 277.58 
L 600.05 279.54 
L 598.65 281.39 
L 597.62 283.14 
L 596.91 284.78 
L 596.46 286.35 
L 596.21 288.12 
L 596.22 289.77 
L 596.32 290.55 
L 596.32 290.55 
" clip-path="url(#p333f4e9289)" style="fill: none; stroke: #d45252; stroke-width: 0.62; stroke-linecap: square"/>
</g>
</g>
<g id="axes_6">
<g id="patch_18">
<path d="M 25.4 467.3 
L 143.5 467.3 
L 143.5 383.3 
L 25.4 383.3 
z
" style="fill: #ffffff"/>
</g>
<g id="line2d_98">
<path d="M 25.4 446.3 
L 143.5 446.3 
" clip-path="url(#p11d9998a17)" style="fill: none; stroke-dasharray: 1.2,1.2; stroke-dashoffset: 0; stroke: #c8c8c8; stroke-width: 0.6"/>
</g>
<g id="line2d_99">
<path d="M 25.4 425.3 
L 143.5 425.3 
" clip-path="url(#p11d9998a17)" style="fill: none; stroke-dasharray: 1.2,1.2; stroke-dashoffset: 0; stroke: #c8c8c8; stroke-width: 0.6"/>
</g>
<g id="line2d_100">
<path d="M 25.4 404.3 
L 143.5 404.3 
" clip-path="url(#p11d9998a17)" style="fill: none; stroke-dasharray: 1.2,1.2; stroke-dashoffset: 0; stroke: #c8c8c8; stroke-width: 0.6"/>
</g>
<g id="matplotlib.axis_1">
<g id="xtick_82">
<g id="line2d_101">
<defs>
<path id="me3432c70d6" d="M 0 0 
L 0 -2.5 
" style="stroke: #555555; stroke-width: 0.8"/>
</defs>
<g>
<use href="#me3432c70d6" x="30.53" y="467.3" style="fill: #555555; stroke: #555555; stroke-width: 0.8"/>
</g>
</g>
<g id="text_94">
<text style="font-size: 7px; font-family: 'Liberation Sans'; text-anchor: middle; fill: #2a2a2a" x="30.53" y="476.67" transform="rotate(-0 30.53 476.67)">0</text>
</g>
</g>
<g id="xtick_83">
<g id="line2d_102">
<g>
<use href="#me3432c70d6" x="51.07" y="467.3" style="fill: #555555; stroke: #555555; stroke-width: 0.8"/>
</g>
</g>
<g id="text_95">
<text style="font-size: 7px; font-family: 'Liberation Sans'; text-anchor: middle; fill: #2a2a2a" x="51.07" y="476.67" transform="rotate(-0 51.07 476.67)">4</text>
</g>
</g>
<g id="xtick_84">
<g id="line2d_103">
<g>
<use href="#me3432c70d6" x="71.61" y="467.3" style="fill: #555555; stroke: #555555; stroke-width: 0.8"/>
</g>
</g>
<g id="text_96">
<text style="font-size: 7px; font-family: 'Liberation Sans'; text-anchor: middle; fill: #2a2a2a" x="71.61" y="476.67" transform="rotate(-0 71.61 476.67)">8</text>
</g>
</g>
<g id="xtick_85">
<g id="line2d_104">
<g>
<use href="#me3432c70d6" x="92.15" y="467.3" style="fill: #555555; stroke: #555555; stroke-width: 0.8"/>
</g>
</g>
<g id="text_97">
<text style="font-size: 7px; font-family: 'Liberation Sans'; text-anchor: middle; fill: #2a2a2a" x="92.15" y="476.67" transform="rotate(-0 92.15 476.67)">12</text>
</g>
</g>
<g id="xtick_86">
<g id="line2d_105">
<g>
<use href="#me3432c70d6" x="112.69" y="467.3" style="fill: #555555; stroke: #555555; stroke-width: 0.8"/>
</g>
</g>
<g id="text_98">
<text style="font-size: 7px; font-family: 'Liberation Sans'; text-anchor: middle; fill: #2a2a2a" x="112.69" y="476.67" transform="rotate(-0 112.69 476.67)">16</text>
</g>
</g>
<g id="xtick_87">
<g id="line2d_106">
<g>
<use href="#me3432c70d6" x="133.23" y="467.3" style="fill: #555555; stroke: #555555; stroke-width: 0.8"/>
</g>
</g>
<g id="text_99">
<text style="font-size: 7px; font-family: 'Liberation Sans'; text-anchor: middle; fill: #2a2a2a" x="133.23" y="476.67" transform="rotate(-0 133.23 476.67)">20</text>
</g>
</g>
</g>
<g id="matplotlib.axis_2">
<g id="ytick_1">
<g id="line2d_107">
<defs>
<path id="m5efbb26e4f" d="M 0 0 
L 2.5 0 
" style="stroke: #555555; stroke-width: 0.8"/>
</defs>
<g>
<use href="#m5efbb26e4f" x="25.4" y="467.3" style="fill: #555555; stroke: #555555; stroke-width: 0.8"/>
</g>
</g>
<g id="text_100">
<!-- $\mathregular{10^{-6}}$ -->
<g style="fill: #2a2a2a" transform="translate(9.25 469.84)">
<text>
<tspan x="0" y="-0.98" style="font-size: 7px; font-family: 'Liberation Sans'; fill: #2a2a2a">1</tspan>
<tspan x="3.89" y="-0.98" style="font-size: 7px; font-family: 'Liberation Sans'; fill: #2a2a2a">0</tspan>
<tspan x="7.85" y="-3.58" style="font-size: 4.9px; font-family: 'Liberation Sans'; fill: #2a2a2a">−</tspan>
<tspan x="10.71" y="-3.58" style="font-size: 4.9px; font-family: 'Liberation Sans'; fill: #2a2a2a">6</tspan>
</text>
</g>
</g>
</g>
<g id="ytick_2">
<g id="line2d_108">
<g>
<use href="#m5efbb26e4f" x="25.4" y="446.3" style="fill: #555555; stroke: #555555; stroke-width: 0.8"/>
</g>
</g>
<g id="text_101">
<!-- $\mathregular{10^{-3}}$ -->
<g style="fill: #2a2a2a" transform="translate(9.25 448.84)">
<text>
<tspan x="0" y="-0.98" style="font-size: 7px; font-family: 'Liberation Sans'; fill: #2a2a2a">1</tspan>
<tspan x="3.89" y="-0.98" style="font-size: 7px; font-family: 'Liberation Sans'; fill: #2a2a2a">0</tspan>
<tspan x="7.85" y="-3.58" style="font-size: 4.9px; font-family: 'Liberation Sans'; fill: #2a2a2a">−</tspan>
<tspan x="10.71" y="-3.58" style="font-size: 4.9px; font-family: 'Liberation Sans'; fill: #2a2a2a">3</tspan>
</text>
</g>
</g>
</g>
<g id="ytick_3">
<g id="line2d_109">
<g>
<use href="#m5efbb26e4f" x="25.4" y="425.3" style="fill: #555555; stroke: #555555; stroke-width: 0.8"/>
</g>
</g>
<g id="text_102">
<!-- $\mathregular{10^{0}}$ -->
<g style="fill: #2a2a2a" transform="translate(12.12 427.84)">
<text>
<tspan x="0" y="-0.98" style="font-size: 7px; font-family: 'Liberation Sans'; fill: #2a2a2a">1</tspan>
<tspan x="3.89" y="-0.98" style="font-size: 7px; font-family: 'Liberation Sans'; fill: #2a2a2a">0</tspan>
<tspan x="7.85" y="-3.58" style="font-size: 4.9px; font-family: 'Liberation Sans'; fill: #2a2a2a">0</tspan>
</text>
</g>
</g>
</g>
<g id="ytick_4">
<g id="line2d_110">
<g>
<use href="#m5efbb26e4f" x="25.4" y="404.3" style="fill: #555555; stroke: #555555; stroke-width: 0.8"/>
</g>
</g>
<g id="text_103">
<!-- $\mathregular{10^{3}}$ -->
<g style="fill: #2a2a2a" transform="translate(12.12 406.84)">
<text>
<tspan x="0" y="-0.98" style="font-size: 7px; font-family: 'Liberation Sans'; fill: #2a2a2a">1</tspan>
<tspan x="3.89" y="-0.98" style="font-size: 7px; font-family: 'Liberation Sans'; fill: #2a2a2a">0</tspan>
<tspan x="7.85" y="-3.58" style="font-size: 4.9px; font-family: 'Liberation Sans'; fill: #2a2a2a">3</tspan>
</text>
</g>
</g>
</g>
<g id="ytick_5">
<g id="line2d_111">
<g>
<use href="#m5efbb26e4f" x="25.4" y="383.3" style="fill: #555555; stroke: #555555; stroke-width: 0.8"/>
</g>
</g>
<g id="text_104">
<!-- $\mathregular{10^{6}}$ -->
<g style="fill: #2a2a2a" transform="translate(12.12 385.84)">
<text>
<tspan x="0" y="-0.98" style="font-size: 7px; font-family: 'Liberation Sans'; fill: #2a2a2a">1</tspan>
<tspan x="3.89" y="-0.98" style="font-size: 7px; font-family: 'Liberation Sans'; fill: #2a2a2a">0</tspan>
<tspan x="7.85" y="-3.58" style="font-size: 4.9px; font-family: 'Liberation Sans'; fill: #2a2a2a">6</tspan>
</text>
</g>
</g>
</g>
</g>
<g id="line2d_112">
<path d="M 35.67 450.8 
L 40.8 451.6 
L 45.94 444.6 
L 51.07 443.8 
L 56.21 448.1 
L 61.34 436.2 
L 66.48 425.2 
L 71.61 429.6 
L 76.75 417.8 
L 81.88 406 
L 87.02 413.9 
L 92.15 413 
L 97.29 409.4 
L 102.42 410.4 
L 107.56 408.6 
L 112.69 411.8 
L 117.83 409.4 
L 122.96 409.4 
L 128.1 406 
L 133.23 410 
" clip-path="url(#p11d9998a17)" style="fill: none; stroke: #f7b4be; stroke-width: 0.8; stroke-linecap: square"/>
</g>
<g id="line2d_113">
<path d="M 35.67 456.9 
L 40.8 462.2 
L 45.94 456.4 
L 51.07 454.3 
L 56.21 459.9 
L 61.34 459.9 
L 66.48 452.5 
L 71.61 456.4 
L 76.75 452.5 
L 81.88 461.3 
L 87.02 455.7 
L 92.15 455.7 
L 97.29 454.6 
L 102.42 454.8 
L 107.56 455.7 
L 112.69 456.9 
L 117.83 458.3 
L 122.96 447.3 
L 128.1 418.3 
L 133.23 421.2 
" clip-path="url(#p11d9998a17)" style="fill: none; stroke: #f3a0aa; stroke-width: 1.2; stroke-linecap: square"/>
</g>
<g id="line2d_114">
<path d="M 35.67 456.9 
L 40.8 462.2 
L 45.94 456.4 
L 51.07 454.3 
L 56.21 459.9 
L 61.34 459.9 
L 66.48 452.5 
L 71.61 456.4 
L 76.75 452.5 
L 81.88 461.3 
L 87.02 448.1 
L 92.15 455.7 
L 97.29 454.6 
L 102.42 454.8 
L 107.56 455.7 
L 112.69 456.9 
L 117.83 458.3 
L 122.96 447.3 
L 128.1 418.3 
L 133.23 421.2 
" clip-path="url(#p11d9998a17)" style="fill: none; stroke: #c9203a; stroke-width: 1.3; stroke-linecap: square"/>
</g>
<g id="patch_19">
<path d="M 25.4 467.3 
L 25.4 383.3 
" style="fill: none; stroke: #555555; stroke-width: 0.85; stroke-linejoin: miter; stroke-linecap: square"/>
</g>
<g id="patch_20">
<path d="M 143.5 467.3 
L 143.5 383.3 
" style="fill: none; stroke: #555555; stroke-width: 0.85; stroke-linejoin: miter; stroke-linecap: square"/>
</g>
<g id="patch_21">
<path d="M 25.4 467.3 
L 143.5 467.3 
" style="fill: none; stroke: #555555; stroke-width: 0.85; stroke-linejoin: miter; stroke-linecap: square"/>
</g>
<g id="patch_22">
<path d="M 25.4 383.3 
L 143.5 383.3 
" style="fill: none; stroke: #555555; stroke-width: 0.85; stroke-linejoin: miter; stroke-linecap: square"/>
</g>
</g>
<g id="axes_7">
<g id="patch_23">
<path d="M 189 467 
L 308.9 467 
L 308.9 383.1 
L 189 383.1 
z
" style="fill: #ffffff"/>
</g>
<g id="line2d_115">
<path d="M 189 459.39 
L 308.9 459.39 
" clip-path="url(#p2a5a72f399)" style="fill: none; stroke-dasharray: 1.2,1.2; stroke-dashoffset: 0; stroke: #c8c8c8; stroke-width: 0.6"/>
</g>
<g id="line2d_116">
<path d="M 189 442.3 
L 308.9 442.3 
" clip-path="url(#p2a5a72f399)" style="fill: none; stroke-dasharray: 1.2,1.2; stroke-dashoffset: 0; stroke: #c8c8c8; stroke-width: 0.6"/>
</g>
<g id="line2d_117">
<path d="M 189 425.2 
L 308.9 425.2 
" clip-path="url(#p2a5a72f399)" style="fill: none; stroke-dasharray: 1.2,1.2; stroke-dashoffset: 0; stroke: #c8c8c8; stroke-width: 0.6"/>
</g>
<g id="line2d_118">
<path d="M 189 408.1 
L 308.9 408.1 
" clip-path="url(#p2a5a72f399)" style="fill: none; stroke-dasharray: 1.2,1.2; stroke-dashoffset: 0; stroke: #c8c8c8; stroke-width: 0.6"/>
</g>
<g id="line2d_119">
<path d="M 189 391.01 
L 308.9 391.01 
" clip-path="url(#p2a5a72f399)" style="fill: none; stroke-dasharray: 1.2,1.2; stroke-dashoffset: 0; stroke: #c8c8c8; stroke-width: 0.6"/>
</g>
<g id="matplotlib.axis_3">
<g id="xtick_88">
<g id="line2d_120">
<g>
<use href="#me3432c70d6" x="194.21" y="467" style="fill: #555555; stroke: #555555; stroke-width: 0.8"/>
</g>
</g>
<g id="text_105">
<text style="font-size: 7px; font-family: 'Liberation Sans'; text-anchor: middle; fill: #2a2a2a" x="194.21" y="476.37" transform="rotate(-0 194.21 476.37)">0</text>
</g>
</g>
<g id="xtick_89">
<g id="line2d_121">
<g>
<use href="#me3432c70d6" x="215.07" y="467" style="fill: #555555; stroke: #555555; stroke-width: 0.8"/>
</g>
</g>
<g id="text_106">
<text style="font-size: 7px; font-family: 'Liberation Sans'; text-anchor: middle; fill: #2a2a2a" x="215.07" y="476.37" transform="rotate(-0 215.07 476.37)">4</text>
</g>
</g>
<g id="xtick_90">
<g id="line2d_122">
<g>
<use href="#me3432c70d6" x="235.92" y="467" style="fill: #555555; stroke: #555555; stroke-width: 0.8"/>
</g>
</g>
<g id="text_107">
<text style="font-size: 7px; font-family: 'Liberation Sans'; text-anchor: middle; fill: #2a2a2a" x="235.92" y="476.37" transform="rotate(-0 235.92 476.37)">8</text>
</g>
</g>
<g id="xtick_91">
<g id="line2d_123">
<g>
<use href="#me3432c70d6" x="256.77" y="467" style="fill: #555555; stroke: #555555; stroke-width: 0.8"/>
</g>
</g>
<g id="text_108">
<text style="font-size: 7px; font-family: 'Liberation Sans'; text-anchor: middle; fill: #2a2a2a" x="256.77" y="476.37" transform="rotate(-0 256.77 476.37)">12</text>
</g>
</g>
<g id="xtick_92">
<g id="line2d_124">
<g>
<use href="#me3432c70d6" x="277.62" y="467" style="fill: #555555; stroke: #555555; stroke-width: 0.8"/>
</g>
</g>
<g id="text_109">
<text style="font-size: 7px; font-family: 'Liberation Sans'; text-anchor: middle; fill: #2a2a2a" x="277.62" y="476.37" transform="rotate(-0 277.62 476.37)">16</text>
</g>
</g>
<g id="xtick_93">
<g id="line2d_125">
<g>
<use href="#me3432c70d6" x="298.47" y="467" style="fill: #555555; stroke: #555555; stroke-width: 0.8"/>
</g>
</g>
<g id="text_110">
<text style="font-size: 7px; font-family: 'Liberation Sans'; text-anchor: middle; fill: #2a2a2a" x="298.47" y="476.37" transform="rotate(-0 298.47 476.37)">20</text>
</g>
</g>
</g>
<g id="matplotlib.axis_4">
<g id="ytick_6">
<g id="line2d_126">
<g>
<use href="#m5efbb26e4f" x="189" y="459.39" style="fill: #555555; stroke: #555555; stroke-width: 0.8"/>
</g>
</g>
<g id="text_111">
<text style="font-size: 7px; font-family: 'Liberation Sans'; text-anchor: end; fill: #2a2a2a" x="186.5" y="461.93" transform="rotate(-0 186.5 461.93)">0</text>
</g>
</g>
<g id="ytick_7">
<g id="line2d_127">
<g>
<use href="#m5efbb26e4f" x="189" y="442.3" style="fill: #555555; stroke: #555555; stroke-width: 0.8"/>
</g>
</g>
<g id="text_112">
<text style="font-size: 7px; font-family: 'Liberation Sans'; text-anchor: end; fill: #2a2a2a" x="186.5" y="444.83" transform="rotate(-0 186.5 444.83)">2000</text>
</g>
</g>
<g id="ytick_8">
<g id="line2d_128">
<g>
<use href="#m5efbb26e4f" x="189" y="425.2" style="fill: #555555; stroke: #555555; stroke-width: 0.8"/>
</g>
</g>
<g id="text_113">
<text style="font-size: 7px; font-family: 'Liberation Sans'; text-anchor: end; fill: #2a2a2a" x="186.5" y="427.74" transform="rotate(-0 186.5 427.74)">4000</text>
</g>
</g>
<g id="ytick_9">
<g id="line2d_129">
<g>
<use href="#m5efbb26e4f" x="189" y="408.1" style="fill: #555555; stroke: #555555; stroke-width: 0.8"/>
</g>
</g>
<g id="text_114">
<text style="font-size: 7px; font-family: 'Liberation Sans'; text-anchor: end; fill: #2a2a2a" x="186.5" y="410.64" transform="rotate(-0 186.5 410.64)">6000</text>
</g>
</g>
<g id="ytick_10">
<g id="line2d_130">
<g>
<use href="#m5efbb26e4f" x="189" y="391.01" style="fill: #555555; stroke: #555555; stroke-width: 0.8"/>
</g>
</g>
<g id="text_115">
<text style="font-size: 7px; font-family: 'Liberation Sans'; text-anchor: end; fill: #2a2a2a" x="186.5" y="393.54" transform="rotate(-0 186.5 393.54)">8000</text>
</g>
</g>
</g>
<g id="line2d_131">
<path d="M 194.21 459.39 
L 204.64 451.7 
L 215.07 446.06 
L 225.49 440.33 
L 235.92 434.6 
L 246.34 428.88 
L 256.77 423.06 
L 267.2 417.34 
L 277.62 411.61 
L 288.05 405.97 
L 298.47 400.84 
" clip-path="url(#p2a5a72f399)" style="fill: none; stroke: #bfe2fa; stroke-width: 0.8; stroke-linecap: square"/>
<defs>
<path id="md124d118bb" d="M 0 1.2 
C 0.32 1.2 0.62 1.07 0.85 0.85 
C 1.07 0.62 1.2 0.32 1.2 0 
C 1.2 -0.32 1.07 -0.62 0.85 -0.85 
C 0.62 -1.07 0.32 -1.2 0 -1.2 
C -0.32 -1.2 -0.62 -1.07 -0.85 -0.85 
C -1.07 -0.62 -1.2 -0.32 -1.2 0 
C -1.2 0.32 -1.07 0.62 -0.85 0.85 
C -0.62 1.07 -0.32 1.2 0 1.2 
z
" style="stroke: #b5dcf8; stroke-width: 0.7"/>
</defs>
<g clip-path="url(#p2a5a72f399)">
<use href="#md124d118bb" x="194.21" y="459.39" style="fill: #ffffff; stroke: #b5dcf8; stroke-width: 0.7"/>
<use href="#md124d118bb" x="204.64" y="451.7" style="fill: #ffffff; stroke: #b5dcf8; stroke-width: 0.7"/>
<use href="#md124d118bb" x="215.07" y="446.06" style="fill: #ffffff; stroke: #b5dcf8; stroke-width: 0.7"/>
<use href="#md124d118bb" x="225.49" y="440.33" style="fill: #ffffff; stroke: #b5dcf8; stroke-width: 0.7"/>
<use href="#md124d118bb" x="235.92" y="434.6" style="fill: #ffffff; stroke: #b5dcf8; stroke-width: 0.7"/>
<use href="#md124d118bb" x="246.34" y="428.88" style="fill: #ffffff; stroke: #b5dcf8; stroke-width: 0.7"/>
<use href="#md124d118bb" x="256.77" y="423.06" style="fill: #ffffff; stroke: #b5dcf8; stroke-width: 0.7"/>
<use href="#md124d118bb" x="267.2" y="417.34" style="fill: #ffffff; stroke: #b5dcf8; stroke-width: 0.7"/>
<use href="#md124d118bb" x="277.62" y="411.61" style="fill: #ffffff; stroke: #b5dcf8; stroke-width: 0.7"/>
<use href="#md124d118bb" x="288.05" y="405.97" style="fill: #ffffff; stroke: #b5dcf8; stroke-width: 0.7"/>
<use href="#md124d118bb" x="298.47" y="400.84" style="fill: #ffffff; stroke: #b5dcf8; stroke-width: 0.7"/>
</g>
</g>
<g id="line2d_132">
<path d="M 194.21 459.39 
L 204.64 457.75 
L 215.07 456.11 
L 225.49 454.47 
L 235.92 452.83 
L 246.34 451.19 
L 256.77 449.55 
L 267.2 447.91 
L 277.62 446.27 
L 288.05 444.63 
L 298.47 442.99 
" clip-path="url(#p2a5a72f399)" style="fill: none; stroke: #a5d6f7; stroke-width: 0.8; stroke-linecap: square"/>
<defs>
<path id="mc2e2dafb6a" d="M 0 -1.3 
L -1.3 1.3 
L 1.3 1.3 
z
" style="stroke: #8cc8f2; stroke-linejoin: miter"/>
</defs>
<g clip-path="url(#p2a5a72f399)">
<use href="#mc2e2dafb6a" x="194.21" y="459.39" style="fill: #8cc8f2; stroke: #8cc8f2; stroke-linejoin: miter"/>
<use href="#mc2e2dafb6a" x="204.64" y="457.75" style="fill: #8cc8f2; stroke: #8cc8f2; stroke-linejoin: miter"/>
<use href="#mc2e2dafb6a" x="215.07" y="456.11" style="fill: #8cc8f2; stroke: #8cc8f2; stroke-linejoin: miter"/>
<use href="#mc2e2dafb6a" x="225.49" y="454.47" style="fill: #8cc8f2; stroke: #8cc8f2; stroke-linejoin: miter"/>
<use href="#mc2e2dafb6a" x="235.92" y="452.83" style="fill: #8cc8f2; stroke: #8cc8f2; stroke-linejoin: miter"/>
<use href="#mc2e2dafb6a" x="246.34" y="451.19" style="fill: #8cc8f2; stroke: #8cc8f2; stroke-linejoin: miter"/>
<use href="#mc2e2dafb6a" x="256.77" y="449.55" style="fill: #8cc8f2; stroke: #8cc8f2; stroke-linejoin: miter"/>
<use href="#mc2e2dafb6a" x="267.2" y="447.91" style="fill: #8cc8f2; stroke: #8cc8f2; stroke-linejoin: miter"/>
<use href="#mc2e2dafb6a" x="277.62" y="446.27" style="fill: #8cc8f2; stroke: #8cc8f2; stroke-linejoin: miter"/>
<use href="#mc2e2dafb6a" x="288.05" y="444.63" style="fill: #8cc8f2; stroke: #8cc8f2; stroke-linejoin: miter"/>
<use href="#mc2e2dafb6a" x="298.47" y="442.99" style="fill: #8cc8f2; stroke: #8cc8f2; stroke-linejoin: miter"/>
</g>
</g>
<g id="line2d_133">
<path d="M 194.21 459.39 
L 204.64 457.77 
L 215.07 456.14 
L 225.49 454.52 
L 235.92 452.9 
L 246.34 451.27 
L 256.77 449.65 
L 267.2 448.02 
L 277.62 446.4 
L 288.05 444.77 
L 298.47 443.15 
" clip-path="url(#p2a5a72f399)" style="fill: none; stroke: #3d84d0; stroke-linecap: square"/>
<defs>
<path id="m7064b80178" d="M 0 1.5 
C 0.4 1.5 0.78 1.34 1.06 1.06 
C 1.34 0.78 1.5 0.4 1.5 0 
C 1.5 -0.4 1.34 -0.78 1.06 -1.06 
C 0.78 -1.34 0.4 -1.5 0 -1.5 
C -0.4 -1.5 -0.78 -1.34 -1.06 -1.06 
C -1.34 -0.78 -1.5 -0.4 -1.5 0 
C -1.5 0.4 -1.34 0.78 -1.06 1.06 
C -0.78 1.34 -0.4 1.5 0 1.5 
z
" style="stroke: #3d84d0; stroke-width: 0.8"/>
</defs>
<g clip-path="url(#p2a5a72f399)">
<use href="#m7064b80178" x="194.21" y="459.39" style="fill: #d8eaf8; stroke: #3d84d0; stroke-width: 0.8"/>
<use href="#m7064b80178" x="204.64" y="457.77" style="fill: #d8eaf8; stroke: #3d84d0; stroke-width: 0.8"/>
<use href="#m7064b80178" x="215.07" y="456.14" style="fill: #d8eaf8; stroke: #3d84d0; stroke-width: 0.8"/>
<use href="#m7064b80178" x="225.49" y="454.52" style="fill: #d8eaf8; stroke: #3d84d0; stroke-width: 0.8"/>
<use href="#m7064b80178" x="235.92" y="452.9" style="fill: #d8eaf8; stroke: #3d84d0; stroke-width: 0.8"/>
<use href="#m7064b80178" x="246.34" y="451.27" style="fill: #d8eaf8; stroke: #3d84d0; stroke-width: 0.8"/>
<use href="#m7064b80178" x="256.77" y="449.65" style="fill: #d8eaf8; stroke: #3d84d0; stroke-width: 0.8"/>
<use href="#m7064b80178" x="267.2" y="448.02" style="fill: #d8eaf8; stroke: #3d84d0; stroke-width: 0.8"/>
<use href="#m7064b80178" x="277.62" y="446.4" style="fill: #d8eaf8; stroke: #3d84d0; stroke-width: 0.8"/>
<use href="#m7064b80178" x="288.05" y="444.77" style="fill: #d8eaf8; stroke: #3d84d0; stroke-width: 0.8"/>
<use href="#m7064b80178" x="298.47" y="443.15" style="fill: #d8eaf8; stroke: #3d84d0; stroke-width: 0.8"/>
</g>
</g>
<g id="patch_24">
<path d="M 189 467 
L 189 383.1 
" style="fill: none; stroke: #555555; stroke-width: 0.85; stroke-linejoin: miter; stroke-linecap: square"/>
</g>
<g id="patch_25">
<path d="M 308.9 467 
L 308.9 383.1 
" style="fill: none; stroke: #555555; stroke-width: 0.85; stroke-linejoin: miter; stroke-linecap: square"/>
</g>
<g id="patch_26">
<path d="M 189 467 
L 308.9 467 
" style="fill: none; stroke: #555555; stroke-width: 0.85; stroke-linejoin: miter; stroke-linecap: square"/>
</g>
<g id="patch_27">
<path d="M 189 383.1 
L 308.9 383.1 
" style="fill: none; stroke: #555555; stroke-width: 0.85; stroke-linejoin: miter; stroke-linecap: square"/>
</g>
</g>
<g id="axes_8">
<g id="patch_28">
<path d="M 348.9 465.3 
L 475.1 465.3 
L 475.1 383.1 
L 348.9 383.1 
z
" style="fill: #ffffff"/>
</g>
<g id="line2d_134">
<path d="M 348.9 451.6 
L 475.1 451.6 
" clip-path="url(#pb0386f9094)" style="fill: none; stroke-dasharray: 1.2,1.2; stroke-dashoffset: 0; stroke: #c8c8c8; stroke-width: 0.6"/>
</g>
<g id="line2d_135">
<path d="M 348.9 437.9 
L 475.1 437.9 
" clip-path="url(#pb0386f9094)" style="fill: none; stroke-dasharray: 1.2,1.2; stroke-dashoffset: 0; stroke: #c8c8c8; stroke-width: 0.6"/>
</g>
<g id="line2d_136">
<path d="M 348.9 424.2 
L 475.1 424.2 
" clip-path="url(#pb0386f9094)" style="fill: none; stroke-dasharray: 1.2,1.2; stroke-dashoffset: 0; stroke: #c8c8c8; stroke-width: 0.6"/>
</g>
<g id="line2d_137">
<path d="M 348.9 410.5 
L 475.1 410.5 
" clip-path="url(#pb0386f9094)" style="fill: none; stroke-dasharray: 1.2,1.2; stroke-dashoffset: 0; stroke: #c8c8c8; stroke-width: 0.6"/>
</g>
<g id="line2d_138">
<path d="M 348.9 396.8 
L 475.1 396.8 
" clip-path="url(#pb0386f9094)" style="fill: none; stroke-dasharray: 1.2,1.2; stroke-dashoffset: 0; stroke: #c8c8c8; stroke-width: 0.6"/>
</g>
<g id="matplotlib.axis_5">
<g id="xtick_94">
<g id="line2d_139"/>
<g id="text_116">
<text style="font-size: 7px; font-family: 'Liberation Sans'; text-anchor: middle; fill: #2a2a2a" x="361.52" y="475.17" transform="rotate(-0 361.52 475.17)">0.018</text>
</g>
</g>
<g id="xtick_95">
<g id="line2d_140"/>
<g id="text_117">
<text style="font-size: 7px; font-family: 'Liberation Sans'; text-anchor: middle; fill: #2a2a2a" x="386.76" y="475.17" transform="rotate(-0 386.76 475.17)">0.012</text>
</g>
</g>
<g id="xtick_96">
<g id="line2d_141"/>
<g id="text_118">
<text style="font-size: 7px; font-family: 'Liberation Sans'; text-anchor: middle; fill: #2a2a2a" x="412" y="475.17" transform="rotate(-0 412 475.17)">0.006</text>
</g>
</g>
<g id="xtick_97">
<g id="line2d_142"/>
<g id="text_119">
<text style="font-size: 7px; font-family: 'Liberation Sans'; text-anchor: middle; fill: #2a2a2a" x="437.24" y="475.17" transform="rotate(-0 437.24 475.17)">0.001</text>
</g>
</g>
<g id="xtick_98">
<g id="line2d_143"/>
<g id="text_120">
<text style="font-size: 6.3px; font-family: 'Liberation Sans'; text-anchor: middle; fill: #2a2a2a" x="462.48" y="474.67" transform="rotate(-0 462.48 474.67)">Adaptive</text>
</g>
</g>
</g>
<g id="matplotlib.axis_6">
<g id="ytick_11">
<g id="line2d_144">
<g>
<use href="#m5efbb26e4f" x="348.9" y="465.3" style="fill: #555555; stroke: #555555; stroke-width: 0.8"/>
</g>
</g>
<g id="text_121">
<!-- $\mathregular{10^{-6}}$ -->
<g style="fill: #2a2a2a" transform="translate(332.75 467.84)">
<text>
<tspan x="0" y="-0.98" style="font-size: 7px; font-family: 'Liberation Sans'; fill: #2a2a2a">1</tspan>
<tspan x="3.89" y="-0.98" style="font-size: 7px; font-family: 'Liberation Sans'; fill: #2a2a2a">0</tspan>
<tspan x="7.85" y="-3.58" style="font-size: 4.9px; font-family: 'Liberation Sans'; fill: #2a2a2a">−</tspan>
<tspan x="10.71" y="-3.58" style="font-size: 4.9px; font-family: 'Liberation Sans'; fill: #2a2a2a">6</tspan>
</text>
</g>
</g>
</g>
<g id="ytick_12">
<g id="line2d_145">
<g>
<use href="#m5efbb26e4f" x="348.9" y="451.6" style="fill: #555555; stroke: #555555; stroke-width: 0.8"/>
</g>
</g>
<g id="text_122">
<!-- $\mathregular{10^{-5}}$ -->
<g style="fill: #2a2a2a" transform="translate(332.75 454.14)">
<text>
<tspan x="0" y="-0.04" style="font-size: 7px; font-family: 'Liberation Sans'; fill: #2a2a2a">1</tspan>
<tspan x="3.89" y="-0.04" style="font-size: 7px; font-family: 'Liberation Sans'; fill: #2a2a2a">0</tspan>
<tspan x="7.85" y="-2.63" style="font-size: 4.9px; font-family: 'Liberation Sans'; fill: #2a2a2a">−</tspan>
<tspan x="10.71" y="-2.63" style="font-size: 4.9px; font-family: 'Liberation Sans'; fill: #2a2a2a">5</tspan>
</text>
</g>
</g>
</g>
<g id="ytick_13">
<g id="line2d_146">
<g>
<use href="#m5efbb26e4f" x="348.9" y="437.9" style="fill: #555555; stroke: #555555; stroke-width: 0.8"/>
</g>
</g>
<g id="text_123">
<!-- $\mathregular{10^{-4}}$ -->
<g style="fill: #2a2a2a" transform="translate(332.75 440.44)">
<text>
<tspan x="0" y="-0.04" style="font-size: 7px; font-family: 'Liberation Sans'; fill: #2a2a2a">1</tspan>
<tspan x="3.89" y="-0.04" style="font-size: 7px; font-family: 'Liberation Sans'; fill: #2a2a2a">0</tspan>
<tspan x="7.85" y="-2.63" style="font-size: 4.9px; font-family: 'Liberation Sans'; fill: #2a2a2a">−</tspan>
<tspan x="10.71" y="-2.63" style="font-size: 4.9px; font-family: 'Liberation Sans'; fill: #2a2a2a">4</tspan>
</text>
</g>
</g>
</g>
<g id="ytick_14">
<g id="line2d_147">
<g>
<use href="#m5efbb26e4f" x="348.9" y="424.2" style="fill: #555555; stroke: #555555; stroke-width: 0.8"/>
</g>
</g>
<g id="text_124">
<!-- $\mathregular{10^{-3}}$ -->
<g style="fill: #2a2a2a" transform="translate(332.75 426.74)">
<text>
<tspan x="0" y="-0.98" style="font-size: 7px; font-family: 'Liberation Sans'; fill: #2a2a2a">1</tspan>
<tspan x="3.89" y="-0.98" style="font-size: 7px; font-family: 'Liberation Sans'; fill: #2a2a2a">0</tspan>
<tspan x="7.85" y="-3.58" style="font-size: 4.9px; font-family: 'Liberation Sans'; fill: #2a2a2a">−</tspan>
<tspan x="10.71" y="-3.58" style="font-size: 4.9px; font-family: 'Liberation Sans'; fill: #2a2a2a">3</tspan>
</text>
</g>
</g>
</g>
<g id="ytick_15">
<g id="line2d_148">
<g>
<use href="#m5efbb26e4f" x="348.9" y="410.5" style="fill: #555555; stroke: #555555; stroke-width: 0.8"/>
</g>
</g>
<g id="text_125">
<!-- $\mathregular{10^{-2}}$ -->
<g style="fill: #2a2a2a" transform="translate(332.75 413.04)">
<text>
<tspan x="0" y="-0.98" style="font-size: 7px; font-family: 'Liberation Sans'; fill: #2a2a2a">1</tspan>
<tspan x="3.89" y="-0.98" style="font-size: 7px; font-family: 'Liberation Sans'; fill: #2a2a2a">0</tspan>
<tspan x="7.85" y="-3.58" style="font-size: 4.9px; font-family: 'Liberation Sans'; fill: #2a2a2a">−</tspan>
<tspan x="10.71" y="-3.58" style="font-size: 4.9px; font-family: 'Liberation Sans'; fill: #2a2a2a">2</tspan>
</text>
</g>
</g>
</g>
<g id="ytick_16">
<g id="line2d_149">
<g>
<use href="#m5efbb26e4f" x="348.9" y="396.8" style="fill: #555555; stroke: #555555; stroke-width: 0.8"/>
</g>
</g>
<g id="text_126">
<!-- $\mathregular{10^{-1}}$ -->
<g style="fill: #2a2a2a" transform="translate(332.75 399.34)">
<text>
<tspan x="0" y="-0.04" style="font-size: 7px; font-family: 'Liberation Sans'; fill: #2a2a2a">1</tspan>
<tspan x="3.89" y="-0.04" style="font-size: 7px; font-family: 'Liberation Sans'; fill: #2a2a2a">0</tspan>
<tspan x="7.85" y="-2.63" style="font-size: 4.9px; font-family: 'Liberation Sans'; fill: #2a2a2a">−</tspan>
<tspan x="10.71" y="-2.63" style="font-size: 4.9px; font-family: 'Liberation Sans'; fill: #2a2a2a">1</tspan>
</text>
</g>
</g>
</g>
<g id="ytick_17">
<g id="line2d_150">
<g>
<use href="#m5efbb26e4f" x="348.9" y="383.1" style="fill: #555555; stroke: #555555; stroke-width: 0.8"/>
</g>
</g>
<g id="text_127">
<!-- $\mathregular{10^{0}}$ -->
<g style="fill: #2a2a2a" transform="translate(335.62 385.64)">
<text>
<tspan x="0" y="-0.98" style="font-size: 7px; font-family: 'Liberation Sans'; fill: #2a2a2a">1</tspan>
<tspan x="3.89" y="-0.98" style="font-size: 7px; font-family: 'Liberation Sans'; fill: #2a2a2a">0</tspan>
<tspan x="7.85" y="-3.58" style="font-size: 4.9px; font-family: 'Liberation Sans'; fill: #2a2a2a">0</tspan>
</text>
</g>
</g>
</g>
</g>
<g id="patch_29">
<path d="M 348.9 465.3 
L 348.9 383.1 
" style="fill: none; stroke: #555555; stroke-width: 0.85; stroke-linejoin: miter; stroke-linecap: square"/>
</g>
<g id="patch_30">
<path d="M 475.1 465.3 
L 475.1 383.1 
" style="fill: none; stroke: #555555; stroke-width: 0.85; stroke-linejoin: miter; stroke-linecap: square"/>
</g>
<g id="patch_31">
<path d="M 348.9 465.3 
L 475.1 465.3 
" style="fill: none; stroke: #555555; stroke-width: 0.85; stroke-linejoin: miter; stroke-linecap: square"/>
</g>
<g id="patch_32">
<path d="M 348.9 383.1 
L 475.1 383.1 
" style="fill: none; stroke: #555555; stroke-width: 0.85; stroke-linejoin: miter; stroke-linecap: square"/>
</g>
<g id="patch_33">
<path d="M 355.21 465.3 
L 361.52 465.3 
L 361.52 387.21 
L 355.21 387.21 
z
" clip-path="url(#pb0386f9094)" style="fill: #cf6653"/>
</g>
<g id="patch_34">
<path d="M 380.45 465.3 
L 386.76 465.3 
L 386.76 425.97 
L 380.45 425.97 
z
" clip-path="url(#pb0386f9094)" style="fill: #cf6653"/>
</g>
<g id="patch_35">
<path d="M 405.69 465.3 
L 412 465.3 
L 412 442.43 
L 405.69 442.43 
z
" clip-path="url(#pb0386f9094)" style="fill: #cf6653"/>
</g>
<g id="patch_36">
<path d="M 430.93 465.3 
L 437.24 465.3 
L 437.24 442.16 
L 430.93 442.16 
z
" clip-path="url(#pb0386f9094)" style="fill: #cf6653"/>
</g>
<g id="patch_37">
<path d="M 456.17 465.3 
L 462.48 465.3 
L 462.48 443.63 
L 456.17 443.63 
z
" clip-path="url(#pb0386f9094)" style="fill: #cf6653"/>
</g>
</g>
<g id="axes_9">
<g id="matplotlib.axis_7">
<g id="ytick_18">
<g id="line2d_151">
<defs>
<path id="mfc01094ac5" d="M 0 0 
L -2.5 0 
" style="stroke: #555555; stroke-width: 0.8"/>
</defs>
<g>
<use href="#mfc01094ac5" x="475.1" y="465.3" style="fill: #555555; stroke: #555555; stroke-width: 0.8"/>
</g>
</g>
<g id="text_128">
<text style="font-size: 7px; font-family: 'Liberation Sans'; text-anchor: start; fill: #2a2a2a" x="477.6" y="467.84" transform="rotate(-0 477.6 467.84)">0</text>
</g>
</g>
<g id="ytick_19">
<g id="line2d_152">
<g>
<use href="#mfc01094ac5" x="475.1" y="451.6" style="fill: #555555; stroke: #555555; stroke-width: 0.8"/>
</g>
</g>
<g id="text_129">
<text style="font-size: 7px; font-family: 'Liberation Sans'; text-anchor: start; fill: #2a2a2a" x="477.6" y="454.14" transform="rotate(-0 477.6 454.14)">3</text>
</g>
</g>
<g id="ytick_20">
<g id="line2d_153">
<g>
<use href="#mfc01094ac5" x="475.1" y="437.9" style="fill: #555555; stroke: #555555; stroke-width: 0.8"/>
</g>
</g>
<g id="text_130">
<text style="font-size: 7px; font-family: 'Liberation Sans'; text-anchor: start; fill: #2a2a2a" x="477.6" y="440.44" transform="rotate(-0 477.6 440.44)">6</text>
</g>
</g>
<g id="ytick_21">
<g id="line2d_154">
<g>
<use href="#mfc01094ac5" x="475.1" y="424.2" style="fill: #555555; stroke: #555555; stroke-width: 0.8"/>
</g>
</g>
<g id="text_131">
<text style="font-size: 7px; font-family: 'Liberation Sans'; text-anchor: start; fill: #2a2a2a" x="477.6" y="426.74" transform="rotate(-0 477.6 426.74)">9</text>
</g>
</g>
<g id="ytick_22">
<g id="line2d_155">
<g>
<use href="#mfc01094ac5" x="475.1" y="410.5" style="fill: #555555; stroke: #555555; stroke-width: 0.8"/>
</g>
</g>
<g id="text_132">
<text style="font-size: 7px; font-family: 'Liberation Sans'; text-anchor: start; fill: #2a2a2a" x="477.6" y="413.04" transform="rotate(-0 477.6 413.04)">12</text>
</g>
</g>
<g id="ytick_23">
<g id="line2d_156">
<g>
<use href="#mfc01094ac5" x="475.1" y="396.8" style="fill: #555555; stroke: #555555; stroke-width: 0.8"/>
</g>
</g>
<g id="text_133">
<text style="font-size: 7px; font-family: 'Liberation Sans'; text-anchor: start; fill: #2a2a2a" x="477.6" y="399.34" transform="rotate(-0 477.6 399.34)">15</text>
</g>
</g>
<g id="ytick_24">
<g id="line2d_157">
<g>
<use href="#mfc01094ac5" x="475.1" y="383.1" style="fill: #555555; stroke: #555555; stroke-width: 0.8"/>
</g>
</g>
<g id="text_134">
<text style="font-size: 7px; font-family: 'Liberation Sans'; text-anchor: start; fill: #2a2a2a" x="477.6" y="385.64" transform="rotate(-0 477.6 385.64)">18</text>
</g>
</g>
</g>
<g id="patch_38">
<path d="M 348.9 465.3 
L 348.9 383.1 
" style="fill: none; stroke: #555555; stroke-width: 0.85; stroke-linejoin: miter; stroke-linecap: square"/>
</g>
<g id="patch_39">
<path d="M 475.1 465.3 
L 475.1 383.1 
" style="fill: none; stroke: #555555; stroke-width: 0.85; stroke-linejoin: miter; stroke-linecap: square"/>
</g>
<g id="patch_40">
<path d="M 348.9 465.3 
L 475.1 465.3 
" style="fill: none; stroke: #555555; stroke-width: 0.85; stroke-linejoin: miter; stroke-linecap: square"/>
</g>
<g id="patch_41">
<path d="M 348.9 383.1 
L 475.1 383.1 
" style="fill: none; stroke: #555555; stroke-width: 0.85; stroke-linejoin: miter; stroke-linecap: square"/>
</g>
<g id="patch_42">
<path d="M 361.52 465.3 
L 367.83 465.3 
L 367.83 461.19 
L 361.52 461.19 
z
" clip-path="url(#pac5d2a208e)" style="fill: #92d0e0"/>
</g>
<g id="patch_43">
<path d="M 386.76 465.3 
L 393.07 465.3 
L 393.07 459.5 
L 386.76 459.5 
z
" clip-path="url(#pac5d2a208e)" style="fill: #92d0e0"/>
</g>
<g id="patch_44">
<path d="M 412 465.3 
L 418.31 465.3 
L 418.31 453.7 
L 412 453.7 
z
" clip-path="url(#pac5d2a208e)" style="fill: #92d0e0"/>
</g>
<g id="patch_45">
<path d="M 437.24 465.3 
L 443.55 465.3 
L 443.55 396.53 
L 437.24 396.53 
z
" clip-path="url(#pac5d2a208e)" style="fill: #92d0e0"/>
</g>
<g id="patch_46">
<path d="M 462.48 465.3 
L 468.79 465.3 
L 468.79 458.72 
L 462.48 458.72 
z
" clip-path="url(#pac5d2a208e)" style="fill: #92d0e0"/>
</g>
</g>
<g id="axes_10">
<g id="patch_47">
<path d="M 539.5 468.3 
L 658.6 468.3 
L 658.6 383.1 
L 539.5 383.1 
z
" style="fill: #ffffff"/>
</g>
<g id="line2d_158">
<path d="M 539.5 454.1 
L 658.6 454.1 
" clip-path="url(#p6c91abd09e)" style="fill: none; stroke-dasharray: 1.2,1.2; stroke-dashoffset: 0; stroke: #c8c8c8; stroke-width: 0.6"/>
</g>
<g id="line2d_159">
<path d="M 539.5 439.9 
L 658.6 439.9 
" clip-path="url(#p6c91abd09e)" style="fill: none; stroke-dasharray: 1.2,1.2; stroke-dashoffset: 0; stroke: #c8c8c8; stroke-width: 0.6"/>
</g>
<g id="line2d_160">
<path d="M 539.5 425.7 
L 658.6 425.7 
" clip-path="url(#p6c91abd09e)" style="fill: none; stroke-dasharray: 1.2,1.2; stroke-dashoffset: 0; stroke: #c8c8c8; stroke-width: 0.6"/>
</g>
<g id="line2d_161">
<path d="M 539.5 411.5 
L 658.6 411.5 
" clip-path="url(#p6c91abd09e)" style="fill: none; stroke-dasharray: 1.2,1.2; stroke-dashoffset: 0; stroke: #c8c8c8; stroke-width: 0.6"/>
</g>
<g id="line2d_162">
<path d="M 539.5 397.3 
L 658.6 397.3 
" clip-path="url(#p6c91abd09e)" style="fill: none; stroke-dasharray: 1.2,1.2; stroke-dashoffset: 0; stroke: #c8c8c8; stroke-width: 0.6"/>
</g>
<g id="matplotlib.axis_8">
<g id="xtick_99">
<g id="line2d_163"/>
<g id="text_135">
<text style="font-size: 7px; font-family: 'Liberation Sans'; text-anchor: middle; fill: #2a2a2a" x="559.35" y="478.17" transform="rotate(-0 559.35 478.17)">GPU</text>
</g>
</g>
<g id="xtick_100">
<g id="line2d_164"/>
<g id="text_136">
<text style="font-size: 7px; font-family: 'Liberation Sans'; text-anchor: middle; fill: #2a2a2a" x="599.05" y="478.17" transform="rotate(-0 599.05 478.17)">CPU</text>
</g>
</g>
<g id="xtick_101">
<g id="line2d_165"/>
<g id="text_137">
<text style="font-size: 7px; font-family: 'Liberation Sans'; text-anchor: middle; fill: #2a2a2a" x="638.75" y="478.17" transform="rotate(-0 638.75 478.17)">MFS</text>
</g>
</g>
</g>
<g id="matplotlib.axis_9">
<g id="ytick_25">
<g id="line2d_166">
<g>
<use href="#m5efbb26e4f" x="539.5" y="468.3" style="fill: #555555; stroke: #555555; stroke-width: 0.8"/>
</g>
</g>
<g id="text_138">
<!-- $\mathregular{10^{-1}}$ -->
<g style="fill: #2a2a2a" transform="translate(523.35 470.84)">
<text>
<tspan x="0" y="-0.04" style="font-size: 7px; font-family: 'Liberation Sans'; fill: #2a2a2a">1</tspan>
<tspan x="3.89" y="-0.04" style="font-size: 7px; font-family: 'Liberation Sans'; fill: #2a2a2a">0</tspan>
<tspan x="7.85" y="-2.63" style="font-size: 4.9px; font-family: 'Liberation Sans'; fill: #2a2a2a">−</tspan>
<tspan x="10.71" y="-2.63" style="font-size: 4.9px; font-family: 'Liberation Sans'; fill: #2a2a2a">1</tspan>
</text>
</g>
</g>
</g>
<g id="ytick_26">
<g id="line2d_167">
<g>
<use href="#m5efbb26e4f" x="539.5" y="439.9" style="fill: #555555; stroke: #555555; stroke-width: 0.8"/>
</g>
</g>
<g id="text_139">
<!-- $\mathregular{10^{1}}$ -->
<g style="fill: #2a2a2a" transform="translate(526.22 442.44)">
<text>
<tspan x="0" y="-0.04" style="font-size: 7px; font-family: 'Liberation Sans'; fill: #2a2a2a">1</tspan>
<tspan x="3.89" y="-0.04" style="font-size: 7px; font-family: 'Liberation Sans'; fill: #2a2a2a">0</tspan>
<tspan x="7.85" y="-2.63" style="font-size: 4.9px; font-family: 'Liberation Sans'; fill: #2a2a2a">1</tspan>
</text>
</g>
</g>
</g>
<g id="ytick_27">
<g id="line2d_168">
<g>
<use href="#m5efbb26e4f" x="539.5" y="411.5" style="fill: #555555; stroke: #555555; stroke-width: 0.8"/>
</g>
</g>
<g id="text_140">
<!-- $\mathregular{10^{3}}$ -->
<g style="fill: #2a2a2a" transform="translate(526.22 414.04)">
<text>
<tspan x="0" y="-0.98" style="font-size: 7px; font-family: 'Liberation Sans'; fill: #2a2a2a">1</tspan>
<tspan x="3.89" y="-0.98" style="font-size: 7px; font-family: 'Liberation Sans'; fill: #2a2a2a">0</tspan>
<tspan x="7.85" y="-3.58" style="font-size: 4.9px; font-family: 'Liberation Sans'; fill: #2a2a2a">3</tspan>
</text>
</g>
</g>
</g>
<g id="ytick_28">
<g id="line2d_169">
<g>
<use href="#m5efbb26e4f" x="539.5" y="383.1" style="fill: #555555; stroke: #555555; stroke-width: 0.8"/>
</g>
</g>
<g id="text_141">
<!-- $\mathregular{10^{5}}$ -->
<g style="fill: #2a2a2a" transform="translate(526.22 385.64)">
<text>
<tspan x="0" y="-0.04" style="font-size: 7px; font-family: 'Liberation Sans'; fill: #2a2a2a">1</tspan>
<tspan x="3.89" y="-0.04" style="font-size: 7px; font-family: 'Liberation Sans'; fill: #2a2a2a">0</tspan>
<tspan x="7.85" y="-2.63" style="font-size: 4.9px; font-family: 'Liberation Sans'; fill: #2a2a2a">5</tspan>
</text>
</g>
</g>
</g>
</g>
<g id="patch_48">
<path d="M 539.5 468.3 
L 539.5 383.1 
" style="fill: none; stroke: #555555; stroke-width: 0.85; stroke-linejoin: miter; stroke-linecap: square"/>
</g>
<g id="patch_49">
<path d="M 658.6 468.3 
L 658.6 383.1 
" style="fill: none; stroke: #555555; stroke-width: 0.85; stroke-linejoin: miter; stroke-linecap: square"/>
</g>
<g id="patch_50">
<path d="M 539.5 468.3 
L 658.6 468.3 
" style="fill: none; stroke: #555555; stroke-width: 0.85; stroke-linejoin: miter; stroke-linecap: square"/>
</g>
<g id="patch_51">
<path d="M 539.5 383.1 
L 658.6 383.1 
" style="fill: none; stroke: #555555; stroke-width: 0.85; stroke-linejoin: miter; stroke-linecap: square"/>
</g>
<g id="patch_52">
<path d="M 549.42 468.3 
L 559.35 468.3 
L 559.35 397.75 
L 549.42 397.75 
z
" clip-path="url(#p6c91abd09e)" style="fill: #f8aed3"/>
</g>
<g id="patch_53">
<path d="M 589.12 468.3 
L 599.05 468.3 
L 599.05 417.47 
L 589.12 417.47 
z
" clip-path="url(#p6c91abd09e)" style="fill: #f8aed3"/>
</g>
<g id="patch_54">
<path d="M 628.83 468.3 
L 638.75 468.3 
L 638.75 448.7 
L 628.83 448.7 
z
" clip-path="url(#p6c91abd09e)" style="fill: #f8aed3"/>
</g>
</g>
<g id="axes_11">
<g id="matplotlib.axis_10">
<g id="ytick_29">
<g id="line2d_170">
<g>
<use href="#mfc01094ac5" x="658.6" y="468.3" style="fill: #555555; stroke: #555555; stroke-width: 0.8"/>
</g>
</g>
<g id="text_142">
<!-- $\mathregular{10^{1}}$ -->
<g style="fill: #2a2a2a" transform="translate(661.1 470.84)">
<text>
<tspan x="0" y="-0.04" style="font-size: 7px; font-family: 'Liberation Sans'; fill: #2a2a2a">1</tspan>
<tspan x="3.89" y="-0.04" style="font-size: 7px; font-family: 'Liberation Sans'; fill: #2a2a2a">0</tspan>
<tspan x="7.85" y="-2.63" style="font-size: 4.9px; font-family: 'Liberation Sans'; fill: #2a2a2a">1</tspan>
</text>
</g>
</g>
</g>
<g id="ytick_30">
<g id="line2d_171">
<g>
<use href="#mfc01094ac5" x="658.6" y="439.9" style="fill: #555555; stroke: #555555; stroke-width: 0.8"/>
</g>
</g>
<g id="text_143">
<!-- $\mathregular{10^{3}}$ -->
<g style="fill: #2a2a2a" transform="translate(661.1 442.44)">
<text>
<tspan x="0" y="-0.98" style="font-size: 7px; font-family: 'Liberation Sans'; fill: #2a2a2a">1</tspan>
<tspan x="3.89" y="-0.98" style="font-size: 7px; font-family: 'Liberation Sans'; fill: #2a2a2a">0</tspan>
<tspan x="7.85" y="-3.58" style="font-size: 4.9px; font-family: 'Liberation Sans'; fill: #2a2a2a">3</tspan>
</text>
</g>
</g>
</g>
<g id="ytick_31">
<g id="line2d_172">
<g>
<use href="#mfc01094ac5" x="658.6" y="411.5" style="fill: #555555; stroke: #555555; stroke-width: 0.8"/>
</g>
</g>
<g id="text_144">
<!-- $\mathregular{10^{5}}$ -->
<g style="fill: #2a2a2a" transform="translate(661.1 414.04)">
<text>
<tspan x="0" y="-0.04" style="font-size: 7px; font-family: 'Liberation Sans'; fill: #2a2a2a">1</tspan>
<tspan x="3.89" y="-0.04" style="font-size: 7px; font-family: 'Liberation Sans'; fill: #2a2a2a">0</tspan>
<tspan x="7.85" y="-2.63" style="font-size: 4.9px; font-family: 'Liberation Sans'; fill: #2a2a2a">5</tspan>
</text>
</g>
</g>
</g>
<g id="ytick_32">
<g id="line2d_173">
<g>
<use href="#mfc01094ac5" x="658.6" y="383.1" style="fill: #555555; stroke: #555555; stroke-width: 0.8"/>
</g>
</g>
<g id="text_145">
<!-- $\mathregular{10^{7}}$ -->
<g style="fill: #2a2a2a" transform="translate(661.1 385.64)">
<text>
<tspan x="0" y="-0.04" style="font-size: 7px; font-family: 'Liberation Sans'; fill: #2a2a2a">1</tspan>
<tspan x="3.89" y="-0.04" style="font-size: 7px; font-family: 'Liberation Sans'; fill: #2a2a2a">0</tspan>
<tspan x="7.85" y="-2.63" style="font-size: 4.9px; font-family: 'Liberation Sans'; fill: #2a2a2a">7</tspan>
</text>
</g>
</g>
</g>
</g>
<g id="patch_55">
<path d="M 539.5 468.3 
L 539.5 383.1 
" style="fill: none; stroke: #555555; stroke-width: 0.85; stroke-linejoin: miter; stroke-linecap: square"/>
</g>
<g id="patch_56">
<path d="M 658.6 468.3 
L 658.6 383.1 
" style="fill: none; stroke: #555555; stroke-width: 0.85; stroke-linejoin: miter; stroke-linecap: square"/>
</g>
<g id="patch_57">
<path d="M 539.5 468.3 
L 658.6 468.3 
" style="fill: none; stroke: #555555; stroke-width: 0.85; stroke-linejoin: miter; stroke-linecap: square"/>
</g>
<g id="patch_58">
<path d="M 539.5 383.1 
L 658.6 383.1 
" style="fill: none; stroke: #555555; stroke-width: 0.85; stroke-linejoin: miter; stroke-linecap: square"/>
</g>
<g id="patch_59">
<path d="M 559.35 468.3 
L 569.27 468.3 
L 569.27 397 
L 559.35 397 
z
" clip-path="url(#p6c91abd09e)" style="fill: #b5bdf6"/>
</g>
<g id="patch_60">
<path d="M 599.05 468.3 
L 608.98 468.3 
L 608.98 406.64 
L 599.05 406.64 
z
" clip-path="url(#p6c91abd09e)" style="fill: #b5bdf6"/>
</g>
<g id="patch_61">
<path d="M 638.75 468.3 
L 648.67 468.3 
L 648.67 461.32 
L 638.75 461.32 
z
" clip-path="url(#p6c91abd09e)" style="fill: #b5bdf6"/>
</g>
</g>
<g id="axes_12">
<g id="patch_62">
<path d="M 48 214.4 
L 132 214.4 
Q 133.5 214.4 133.5 215.9 
L 133.5 244.2 
Q 133.5 245.7 132 245.7 
L 48 245.7 
Q 46.5 245.7 46.5 244.2 
L 46.5 215.9 
Q 46.5 214.4 48 214.4 
z
" clip-path="url(#p1318287689)" style="fill: #ffffff; fill-opacity: 0.85; stroke: #d0d0d0; stroke-width: 0.6; stroke-linejoin: miter"/>
</g>
<g id="patch_63">
<path d="M 222.9 214.4 
L 306.7 214.4 
Q 308.2 214.4 308.2 215.9 
L 308.2 244.4 
Q 308.2 245.9 306.7 245.9 
L 222.9 245.9 
Q 221.4 245.9 221.4 244.4 
L 221.4 215.9 
Q 221.4 214.4 222.9 214.4 
z
" clip-path="url(#p1318287689)" style="fill: #ffffff; fill-opacity: 0.85; stroke: #d0d0d0; stroke-width: 0.6; stroke-linejoin: miter"/>
</g>
<g id="patch_64">
<path d="M 387.6 217.7 
L 471.3 217.7 
Q 472.8 217.7 472.8 219.2 
L 472.8 239.4 
Q 472.8 240.9 471.3 240.9 
L 387.6 240.9 
Q 386.1 240.9 386.1 239.4 
L 386.1 219.2 
Q 386.1 217.7 387.6 217.7 
z
" clip-path="url(#p1318287689)" style="fill: #ffffff; fill-opacity: 0.85; stroke: #d0d0d0; stroke-width: 0.6; stroke-linejoin: miter"/>
</g>
<g id="patch_65">
<path d="M 581.4 218.1 
L 664.3 218.1 
Q 665.8 218.1 665.8 219.6 
L 665.8 238.7 
Q 665.8 240.2 664.3 240.2 
L 581.4 240.2 
Q 579.9 240.2 579.9 238.7 
L 579.9 219.6 
Q 579.9 218.1 581.4 218.1 
z
" clip-path="url(#p1318287689)" style="fill: #ffffff; fill-opacity: 0.85; stroke: #d0d0d0; stroke-width: 0.6; stroke-linejoin: miter"/>
</g>
<g id="line2d_174">
<path d="M 49.5 219.62 
L 63.5 219.62 
" clip-path="url(#p1318287689)" style="fill: none; stroke: #72c472; stroke-width: 0.9; stroke-linecap: square"/>
</g>
<g id="line2d_175">
<path d="M 49.5 230.05 
L 63.5 230.05 
" clip-path="url(#p1318287689)" style="fill: none; stroke: #8ecff5; stroke-width: 0.9; stroke-linecap: square"/>
</g>
<g id="line2d_176">
<path d="M 49.5 240.48 
L 63.5 240.48 
" clip-path="url(#p1318287689)" style="fill: none; stroke: #e88080; stroke-width: 0.9; stroke-linecap: square"/>
</g>
<g id="line2d_177">
<path d="M 224.4 219.65 
L 238.4 219.65 
" clip-path="url(#p1318287689)" style="fill: none; stroke: #72c472; stroke-width: 0.9; stroke-linecap: square"/>
</g>
<g id="line2d_178">
<path d="M 224.4 230.15 
L 238.4 230.15 
" clip-path="url(#p1318287689)" style="fill: none; stroke: #8ecff5; stroke-width: 0.9; stroke-linecap: square"/>
</g>
<g id="line2d_179">
<path d="M 224.4 240.65 
L 238.4 240.65 
" clip-path="url(#p1318287689)" style="fill: none; stroke: #e88080; stroke-width: 0.9; stroke-linecap: square"/>
</g>
<g id="line2d_180">
<path d="M 389.1 223.5 
L 403.1 223.5 
" clip-path="url(#p1318287689)" style="fill: none; stroke: #8ecff5; stroke-width: 0.9; stroke-linecap: square"/>
</g>
<g id="line2d_181">
<path d="M 389.1 235.1 
L 403.1 235.1 
" clip-path="url(#p1318287689)" style="fill: none; stroke: #e88080; stroke-width: 0.9; stroke-linecap: square"/>
</g>
<g id="line2d_182">
<path d="M 582.9 223.62 
L 596.9 223.62 
" clip-path="url(#p1318287689)" style="fill: none; stroke: #8ecff5; stroke-width: 0.9; stroke-linecap: square"/>
</g>
<g id="line2d_183">
<path d="M 582.9 234.68 
L 596.9 234.68 
" clip-path="url(#p1318287689)" style="fill: none; stroke: #e88080; stroke-width: 0.9; stroke-linecap: square"/>
</g>
<g id="patch_66">
<path d="M 33.4 373.2 
L 120.8 373.2 
L 120.8 401 
L 33.4 401 
z
" clip-path="url(#p1318287689)" style="fill: #ffffff; stroke: #6e6e6e; stroke-width: 1.1; stroke-linejoin: miter"/>
</g>
<g id="patch_67">
<path d="M 196.4 373.3 
L 282 373.3 
L 282 400.3 
L 196.4 400.3 
z
" clip-path="url(#p1318287689)" style="fill: #ffffff; stroke: #6e6e6e; stroke-width: 1.1; stroke-linejoin: miter"/>
</g>
<g id="patch_68">
<path d="M 368.4 388.1 
L 424.6 388.1 
L 424.6 407.5 
L 368.4 407.5 
z
" clip-path="url(#p1318287689)" style="fill: #ffffff; stroke: #6e6e6e; stroke-width: 1.1; stroke-linejoin: miter"/>
</g>
<g id="patch_69">
<path d="M 597.2 379.2 
L 643.6 379.2 
L 643.6 398.5 
L 597.2 398.5 
z
" clip-path="url(#p1318287689)" style="fill: #ffffff; stroke: #333333; stroke-width: 0.9; stroke-linejoin: miter"/>
</g>
<g id="text_146">
<text style="font-size: 14.8px; font-family: 'Liberation Sans'; text-anchor: start; fill: #1a1a1a" x="0.3" y="11.7" transform="rotate(-0 0.3 11.7)">a</text>
</g>
<g id="text_147">
<text style="font-size: 14.8px; font-family: 'Liberation Sans'; text-anchor: start; fill: #1a1a1a" x="377.2" y="12.6" transform="rotate(-0 377.2 12.6)">b</text>
</g>
<g id="text_148">
<text style="font-size: 14.8px; font-family: 'Liberation Sans'; text-anchor: start; fill: #1a1a1a" x="0.2" y="204.5" transform="rotate(-0 0.2 204.5)">c</text>
</g>
<g id="text_149">
<text style="font-size: 14.8px; font-family: 'Liberation Sans'; text-anchor: start; fill: #1a1a1a" x="-0.9" y="381.6" transform="rotate(-0 -0.9 381.6)">d</text>
</g>
<g id="text_150">
<text style="font-size: 14.8px; font-family: 'Liberation Sans'; text-anchor: start; fill: #1a1a1a" x="161.7" y="380" transform="rotate(-0 161.7 380)">e</text>
</g>
<g id="text_151">
<text style="font-size: 14.8px; font-family: 'Liberation Sans'; text-anchor: start; fill: #1a1a1a" x="324.3" y="381.8" transform="rotate(-0 324.3 381.8)">f</text>
</g>
<g id="text_152">
<text style="font-size: 14.8px; font-family: 'Liberation Sans'; text-anchor: start; fill: #1a1a1a" x="508" y="381.5" transform="rotate(-0 508 381.5)">g</text>
</g>
<g id="text_153">
<text style="font-size: 8.9px; font-family: 'Liberation Sans'; text-anchor: middle; fill: #111111" x="80.5" y="209.8" transform="rotate(-0 80.5 209.8)">t = 5</text>
</g>
<g id="text_154">
<text style="font-size: 8.9px; font-family: 'Liberation Sans'; text-anchor: middle; fill: #111111" x="249.7" y="209.8" transform="rotate(-0 249.7 209.8)">t = 10</text>
</g>
<g id="text_155">
<text style="font-size: 8.9px; font-family: 'Liberation Sans'; text-anchor: middle; fill: #111111" x="419.2" y="209.8" transform="rotate(-0 419.2 209.8)">t = 15</text>
</g>
<g id="text_156">
<text style="font-size: 8.9px; font-family: 'Liberation Sans'; text-anchor: middle; fill: #111111" x="594.3" y="209.8" transform="rotate(-0 594.3 209.8)">t = 20</text>
</g>
<g id="text_157">
<text style="font-size: 7.05px; font-family: 'Liberation Sans'; text-anchor: start; fill: #111111" x="68.8" y="222.12" transform="rotate(-0 68.8 222.12)">Software (order = 2)</text>
</g>
<g id="text_158">
<text style="font-size: 7.05px; font-family: 'Liberation Sans'; text-anchor: start; fill: #111111" x="68.8" y="232.55" transform="rotate(-0 68.8 232.55)">Software (order = 6)</text>
</g>
<g id="text_159">
<text style="font-size: 7.05px; font-family: 'Liberation Sans'; text-anchor: start; fill: #111111" x="68.8" y="242.98" transform="rotate(-0 68.8 242.98)">MFS (order = 6)</text>
</g>
<g id="text_160">
<text style="font-size: 7.05px; font-family: 'Liberation Sans'; text-anchor: start; fill: #d62728" x="243.7" y="222.15" transform="rotate(-0 243.7 222.15)">Software (order = 2)</text>
</g>
<g id="text_161">
<text style="font-size: 7.05px; font-family: 'Liberation Sans'; text-anchor: start; fill: #111111" x="243.7" y="232.65" transform="rotate(-0 243.7 232.65)">Software (order = 6)</text>
</g>
<g id="text_162">
<text style="font-size: 7.05px; font-family: 'Liberation Sans'; text-anchor: start; fill: #111111" x="243.7" y="243.15" transform="rotate(-0 243.7 243.15)">MFS (order = 6)</text>
</g>
<g id="text_163">
<text style="font-size: 7.05px; font-family: 'Liberation Sans'; text-anchor: start; fill: #111111" x="408.4" y="226" transform="rotate(-0 408.4 226)">Software (order = 6)</text>
</g>
<g id="text_164">
<text style="font-size: 7.05px; font-family: 'Liberation Sans'; text-anchor: start; fill: #111111" x="408.4" y="237.6" transform="rotate(-0 408.4 237.6)">MFS (order = 6)</text>
</g>
<g id="text_165">
<text style="font-size: 7.05px; font-family: 'Liberation Sans'; text-anchor: start; fill: #111111" x="602.2" y="226.12" transform="rotate(-0 602.2 226.12)">Software (order = 6)</text>
</g>
<g id="text_166">
<text style="font-size: 7.05px; font-family: 'Liberation Sans'; text-anchor: start; fill: #111111" x="602.2" y="237.18" transform="rotate(-0 602.2 237.18)">MFS (order = 6)</text>
</g>
<g id="text_167">
<text style="font-size: 8.3px; font-family: 'Liberation Sans'; text-anchor: middle; fill: #111111" x="7.3" y="425.7" transform="rotate(-90 7.3 425.7)">MSE</text>
</g>
<g id="text_168">
<text style="font-size: 8.3px; font-family: 'Liberation Sans'; text-anchor: middle; fill: #111111" x="83.9" y="486.6" transform="rotate(-0 83.9 486.6)">t</text>
</g>
<g id="line2d_184">
<path d="M 37 378.5 
L 48.8 378.5 
" clip-path="url(#p1318287689)" style="fill: none; stroke: #f7b4be; stroke-width: 0.8"/>
</g>
<g id="text_169">
<text style="font-size: 7.05px; font-family: 'Liberation Sans'; text-anchor: start; fill: #111111" x="52.6" y="381" transform="rotate(-0 52.6 381)">Software (order = 2)</text>
</g>
<g id="line2d_185">
<path d="M 37 387.2 
L 48.8 387.2 
" clip-path="url(#p1318287689)" style="fill: none; stroke: #f3a0aa; stroke-width: 1.4"/>
</g>
<g id="text_170">
<text style="font-size: 7.05px; font-family: 'Liberation Sans'; text-anchor: start; fill: #111111" x="52.6" y="389.7" transform="rotate(-0 52.6 389.7)">Software (order = 6)</text>
</g>
<g id="line2d_186">
<path d="M 37 395.7 
L 48.8 395.7 
" clip-path="url(#p1318287689)" style="fill: none; stroke: #c9203a; stroke-width: 1.5"/>
</g>
<g id="text_171">
<text style="font-size: 7.05px; font-family: 'Liberation Sans'; text-anchor: start; fill: #111111" x="52.6" y="398.2" transform="rotate(-0 52.6 398.2)">MFS (order = 6)</text>
</g>
<g id="text_172">
<text style="font-size: 8.25px; font-family: 'Liberation Sans'; text-anchor: middle; fill: #111111" x="166.7" y="425.7" transform="rotate(-90 166.7 425.7)">Number of Steps</text>
</g>
<g id="text_173">
<text style="font-size: 8.3px; font-family: 'Liberation Sans'; text-anchor: middle; fill: #111111" x="248.7" y="486.6" transform="rotate(-0 248.7 486.6)">t</text>
</g>
<g id="line2d_187">
<path d="M 200.2 378.4 
L 211.6 378.4 
" clip-path="url(#p1318287689)" style="fill: none; stroke: #bfe2fa; stroke-width: 0.8; stroke-linecap: square"/>
</g>
<g id="line2d_188">
<path d="M 205.9 378.4 
" clip-path="url(#p1318287689)" style="fill: none; stroke: #1f77b4; stroke-width: 1.5; stroke-linecap: square"/>
<defs>
<path id="m7dcfd26e81" d="M 0 1.5 
C 0.4 1.5 0.78 1.34 1.06 1.06 
C 1.34 0.78 1.5 0.4 1.5 0 
C 1.5 -0.4 1.34 -0.78 1.06 -1.06 
C 0.78 -1.34 0.4 -1.5 0 -1.5 
C -0.4 -1.5 -0.78 -1.34 -1.06 -1.06 
C -1.34 -0.78 -1.5 -0.4 -1.5 0 
C -1.5 0.4 -1.34 0.78 -1.06 1.06 
C -0.78 1.34 -0.4 1.5 0 1.5 
z
" style="stroke: #b5dcf8; stroke-width: 0.8"/>
</defs>
<g clip-path="url(#p1318287689)">
<use href="#m7dcfd26e81" x="205.9" y="378.4" style="fill: #ffffff; stroke: #b5dcf8; stroke-width: 0.8"/>
</g>
</g>
<g id="text_174">
<text style="font-size: 7.05px; font-family: 'Liberation Sans'; text-anchor: start; fill: #111111" x="215.9" y="380.9" transform="rotate(-0 215.9 380.9)">Software (order = 2)</text>
</g>
<g id="line2d_189">
<path d="M 200.2 387 
L 211.6 387 
" clip-path="url(#p1318287689)" style="fill: none; stroke: #a5d6f7; stroke-width: 0.8; stroke-linecap: square"/>
</g>
<g id="line2d_190">
<path d="M 205.9 387 
" clip-path="url(#p1318287689)" style="fill: none; stroke: #ff7f0e; stroke-width: 1.5; stroke-linecap: square"/>
<defs>
<path id="m08a1c9cbf9" d="M 0 -1.5 
L -1.5 1.5 
L 1.5 1.5 
z
" style="stroke: #8cc8f2; stroke-width: 0.8; stroke-linejoin: miter"/>
</defs>
<g clip-path="url(#p1318287689)">
<use href="#m08a1c9cbf9" x="205.9" y="387" style="fill: #8cc8f2; stroke: #8cc8f2; stroke-width: 0.8; stroke-linejoin: miter"/>
</g>
</g>
<g id="text_175">
<text style="font-size: 7.05px; font-family: 'Liberation Sans'; text-anchor: start; fill: #111111" x="215.9" y="389.5" transform="rotate(-0 215.9 389.5)">Software (order = 6)</text>
</g>
<g id="line2d_191">
<path d="M 200.2 395.3 
L 211.6 395.3 
" clip-path="url(#p1318287689)" style="fill: none; stroke: #3d84d0; stroke-linecap: square"/>
</g>
<g id="line2d_192">
<path d="M 205.9 395.3 
" clip-path="url(#p1318287689)" style="fill: none; stroke: #2ca02c; stroke-width: 1.5; stroke-linecap: square"/>
<g clip-path="url(#p1318287689)">
<use href="#m7064b80178" x="205.9" y="395.3" style="fill: #d8eaf8; stroke: #3d84d0; stroke-width: 0.8"/>
</g>
</g>
<g id="text_176">
<text style="font-size: 7.05px; font-family: 'Liberation Sans'; text-anchor: start; fill: #111111" x="215.9" y="397.8" transform="rotate(-0 215.9 397.8)">MFS (order = 6)</text>
</g>
<g id="text_177">
<text style="font-size: 8.3px; font-family: 'Liberation Sans'; text-anchor: middle; fill: #111111" x="331" y="422.2" transform="rotate(-90 331 422.2)">MSE</text>
</g>
<g id="text_178">
<text style="font-size: 8.1px; font-family: 'Liberation Sans'; text-anchor: middle; fill: #111111" x="412" y="485.5" transform="rotate(-0 412 485.5)">Step</text>
</g>
<g id="text_179">
<text style="font-size: 8.34px; font-family: 'Liberation Sans'; text-anchor: middle; fill: #111111" x="494.4" y="423.5" transform="rotate(-90 494.4 423.5)">Normalized Operations</text>
</g>
<g id="patch_70">
<path d="M 370.2 389.6 
L 386 389.6 
L 386 396.8 
L 370.2 396.8 
z
" clip-path="url(#p1318287689)" style="fill: #cf6653"/>
</g>
<g id="patch_71">
<path d="M 370.2 398.1 
L 386 398.1 
L 386 405.7 
L 370.2 405.7 
z
" clip-path="url(#p1318287689)" style="fill: #92d0e0"/>
</g>
<g id="text_180">
<text style="font-size: 7.1px; font-family: 'Liberation Sans'; text-anchor: start; fill: #111111" x="388.4" y="395.8" transform="rotate(-0 388.4 395.8)">MSE</text>
</g>
<g id="text_181">
<text style="font-size: 7.1px; font-family: 'Liberation Sans'; text-anchor: start; fill: #111111" x="388.4" y="404.7" transform="rotate(-0 388.4 404.7)">Operations</text>
</g>
<g id="text_182">
<text style="font-size: 9.1px; font-family: 'Liberation Sans'; text-anchor: middle; fill: #111111" x="523.3" y="423.5" transform="rotate(-90 523.3 423.5)">Latency (ms)</text>
</g>
<g id="text_183">
<text style="font-size: 9px; font-family: 'Liberation Sans'; text-anchor: middle; fill: #111111" x="684.2" y="423.6" transform="rotate(-90 684.2 423.6)">Energy (μJ)</text>
</g>
<g id="patch_72">
<path d="M 599.6 381.8 
L 613.8 381.8 
L 613.8 387.7 
L 599.6 387.7 
z
" clip-path="url(#p1318287689)" style="fill: #f8aed3"/>
</g>
<g id="patch_73">
<path d="M 599.6 390.3 
L 613.8 390.3 
L 613.8 396.5 
L 599.6 396.5 
z
" clip-path="url(#p1318287689)" style="fill: #b5bdf6"/>
</g>
<g id="text_184">
<text style="font-size: 7.2px; font-family: 'Liberation Sans'; text-anchor: start; fill: #111111" x="616.4" y="387.3" transform="rotate(-0 616.4 387.3)">Latency</text>
</g>
<g id="text_185">
<text style="font-size: 7.2px; font-family: 'Liberation Sans'; text-anchor: start; fill: #111111" x="616.4" y="396" transform="rotate(-0 616.4 396)">Energy</text>
</g>
<g id="text_186">
<text style="font-size: 8.6px; font-family: 'Liberation Sans'; text-anchor: start; fill: #4654c8" x="625.3" y="413.3" transform="rotate(-0 625.3 413.3)">×10881</text>
</g>
<g id="text_187">
<text style="font-size: 9.4px; font-family: 'Liberation Sans'; text-anchor: start; fill: #e0409a" x="602.1" y="455" transform="rotate(-0 602.1 455)">×172</text>
</g>
</g>
</g>
<defs>
<clipPath id="p94906d49ec">
<rect x="0.5" y="211.2" width="148.5" height="148.5"/>
</clipPath>
<clipPath id="pd264b33a55">
<rect x="171.8" y="211.2" width="148.5" height="148.5"/>
</clipPath>
<clipPath id="p65156537e1">
<rect x="343.1" y="211.2" width="148.5" height="148.5"/>
</clipPath>
<clipPath id="p333f4e9289">
<rect x="514.4" y="211.2" width="148.5" height="148.5"/>
</clipPath>
<clipPath id="p11d9998a17">
<rect x="25.4" y="383.3" width="118.1" height="84"/>
</clipPath>
<clipPath id="p2a5a72f399">
<rect x="189" y="383.1" width="119.9" height="83.9"/>
</clipPath>
<clipPath id="pb0386f9094">
<rect x="348.9" y="383.1" width="126.2" height="82.2"/>
</clipPath>
<clipPath id="pac5d2a208e">
<rect x="348.9" y="383.1" width="126.2" height="82.2"/>
</clipPath>
<clipPath id="p6c91abd09e">
<rect x="539.5" y="383.1" width="119.1" height="85.2"/>
</clipPath>
<clipPath id="p1318287689">
<rect x="0" y="0" width="685" height="488"/>
</clipPath>
</defs>
<g id="extra">
<path d="M96.1 78.7L97.6 83L100.2 85.4L104.2 86.1L109.3 85L114.5 82.2L120.5 77.6L125.4 72.4L130.9 65.1L135.3 57.6L139.6 48.7L143.3 38.7L145.3 30.8L146.6 23L147 15.9L146.3 9.8L144.6 5.3L142.9 3.2L140.8 2L138.4 1.5L135.7 1.8L129.9 4.1L122.2 9.3L112.2 18L100 30.2L90.8 41L81.6 54.4L79.3 56.6L76.9 57.8L73.5 57.8L69.4 55.9L65.6 52.2L62.5 47.2L60.3 41.3L59.4 35.9L60 30.8L61.8 28.1L63.4 27.3L65.6 27.3L68.1 28.1L70.6 29.6L75.5 34.4L79.7 40.9L81.8 47.2L82 53L80.3 57.4L78.8 58.9L76.9 59.8L73.1 59.6L68.8 57.2L65.1 53.4L61.7 47.8L59.2 41.1L58.3 35.1L58.8 30L60.8 26.7L62.5 25.8L65 25.7L67.7 26.6L70.5 28.3L76.5 34L80.9 41.1L83.1 47.8L83.3 54.3L82.6 57.2L81.3 59.6L79.7 61.1L77.6 62L73.4 61.8L68.7 59.1L64.6 54.9L60.7 48.6L58.2 41.9L56.9 35L57.4 29L58.1 27L59.6 25L61.5 24L64.3 23.8L67.4 24.8L70.5 26.7L74.1 29.7L77.2 33.1L80.2 37.3L82.5 41.4L85 49.5L85 56.7L84 60L82.6 62.4L80.6 64.2L78.3 65L75.9 65.2L73.7 64.7L68.4 61.6L63.7 56.7L59.4 49.5L56.4 41.6L55.1 33.4L55.8 26.5L58.1 22.7L60.3 21.4L63.6 21.3L67.2 22.6L70.8 24.8L74.9 28.3L78.5 32.2L81.8 36.8L84.6 41.9L86.4 46.6L87.5 51.5L87.8 55.9L87.4 60.2L86.2 63.9L84.5 66.6L82.2 68.6L79.3 69.6L76.7 69.6L73.6 68.8L70.6 67.3L67.4 64.9L61.9 58.7L57.4 50.8L53.9 41.1L52.5 32.4L53 24.8L54 21.9L55.5 19.6L58.1 17.9L62 17.6L66.4 19L70.8 21.7L76.4 26.6L81.1 31.9L85.3 37.7L88.4 43.8L90.5 49.8L91.6 55.6L92 62.1L91.3 68.3L90 72.9L88 76.1L85.2 78.3L81.5 79.3L78 79.1L74.3 78L70.7 76L66.6 72.9L63.1 69.4L59.5 64.7L54.2 55.6L49.8 44L48.2 37.7L47.3 31.5L47.1 25.5L47.6 20.1L48.4 17.1L50.2 13.5L51.8 11.7L54.6 10.2L56.8 9.8L60.2 10.2L63.8 11.4L67.5 13.4L75.6 19.6L84.1 28.1L91.8 38L96 45.4L101.3 58.2L103.6 62.3L106.3 64.8L109.6 65.9L114.6 64.8L120.3 60.9L125.6 55.1L130.1 47.9L133.9 38.9L136.1 29.6L136.2 22.7L135.5 20.1L134.3 18.1L132.1 16.6L128.5 16.6L124.5 18.2L120.2 21L114.6 26L109.8 31.3L105.5 37.1L102.2 43L100.1 48.3L98.9 53.5L98.5 59.1L99 64.7L100.3 68.9L102.2 71.7L104.7 73.4L108 73.9L110.7 73.5L114 72.2L120.9 67.2L127.4 59.6L133.3 49.9L138.1 37.8L140.5 26.8L140.8 21.9L140.4 17.5L139.3 14.1L138.3 12.4L136.1 10.8L133.5 10.3L130.5 10.7L127.3 12L119.5 17.3L110.5 25.7L102.9 34.5L97.2 43.2L94.1 49.8L89.6 63.8L87.3 68.6L83.8 72.1L79.7 73.3L76.8 73.2L74 72.3L67.9 68.7L62.6 63.2L57.3 55L53.4 45.9L50.9 35.8L50.5 26.2L51.9 19.8L53.5 17.1L55.6 15.4L58.2 14.6L61.9 14.8L66 16.4L70 18.8L74.7 22.6L79.8 27.5L86.7 36.3L91.8 45.9L94.2 53.3L97.1 68.7L98.9 74L100.3 76.1L101.9 77.6L103.8 78.4L106.3 78.7L109.5 78.2L112.9 76.9L116.3 74.9L120.2 71.8L127.3 63.9L134 53.3L139 41.6L142.5 28.8L143.3 18.9L142.7 14L141.9 11.4L140.7 9.3L138.3 7.4L136.3 6.8L133 7L126.8 9.7L117.9 16.2L107.1 26.7L97.6 38L92.6 45.9L86.7 58.5L84.4 62.3L81.4 65L78.2 66.1L75.6 66.1L73.2 65.4L68.1 62.3L63.3 57.1L58.7 49.4L55.7 41L54.5 33.6L54.6 29.1L55.1 26.2L56.1 23.8L57.4 22L59.7 20.6L63.1 20.4L66.9 21.7L70.7 24L75 27.6L79.3 32.3L83.1 37.8L85.7 42.9L87.4 47.6L88.4 52.5L88.7 57.3L88.2 62L86.8 65.9L84.8 68.8L82.3 70.7L79.2 71.5L76.4 71.3L73.1 70.3L67.2 66.4L61.4 59.8L56.6 51.3L53.3 42.4L51.5 33L51.8 24.5L52.8 21.2L54.3 18.6L57 16.6L61.2 16.1L65.8 17.5L70.5 20.4L76.6 25.5L82.3 31.8L86.5 37.9L90 44.6L92.4 51.7L93.7 59.2L94.1 68.9L93.5 78.3L92.4 82.9L90.5 85.9L87.5 87.8L83.7 88.6L79.6 88.1L74.9 86.5L70.8 84.2L66 80.6L61.8 76.3L57.4 70.6L50.7 59L47.8 51.8L45.2 43.9L43.4 35.7L42.4 27.4L42.4 19.7L42.9 15.2L44 11.2L46.4 6.6L48.5 4.5L50.9 3.3L53.6 2.8L56.5 3L62.7 5.1L70.3 10L80 18.1L89.6 27.7L98.4 38.2L107.3 51.2L109.6 53.5L111.8 54.6L115.1 54.5L119 52.6L122.7 49L125.9 44.3L128.4 38.7L129.7 32.9L129.5 28.3L127.9 25.9L126.5 25.4L124.4 25.5L119.6 28.1L114.6 32.9L110.3 39.4L108.1 45.4L107.7 50.5L109 54.6L110.3 55.9L111.8 56.6L115.3 56.3L119.4 54L123.4 49.8L126.8 44.5L129.5 38.1L130.8 32.5L130.7 27.7L129.1 24.7L127.6 24L125.3 24L122.7 25L120 26.7L114 32.5L109.3 39.5L106.8 45.9L106.4 52.2L107 54.8L108 56.7L109.5 58L111.4 58.7L115.3 58.2L119.8 55.5L123.7 51.3L127.6 45.3L130.6 38.1L132.1 31.6L131.9 26.2L131.3 24.5L130 22.9L128.3 22.2L125.7 22.3L122.7 23.6L119.7 25.6L113 32.2L107.6 40.4L105.1 47.6L104.7 54.1L105.4 56.9L106.6 59.2L108.4 60.8L110.4 61.5L114.6 61L119.5 58L124 53.4L128.4 46.7L132 38.3L133.7 30.8L133.5 24.4L131.8 21L129.9 20L126.9 20L123.5 21.4L120 23.7L115.9 27.2L111.7 31.8L105.9 40.7L102.9 49L102.3 53.3L102.5 57.1L103.4 60.6L104.9 63.2L106.8 64.8L109.3 65.7L111.7 65.6L114.5 64.7L120.1 61L125.3 55.4L130.4 47.1L134.1 38.1L136.1 28.9L136 22.3L135.2 19.8L133.9 18L131.7 16.7L128.1 16.8L124 18.6L119.8 21.5L114.3 26.5L109.5 31.7L105.4 37.4L102.5 42.7L100.5 47.4L99.2 52.8L98.7 58L99 62.9L100 67.1L101.8 70.5L104.1 72.5L107 73.4L109.9 73.2L113 72.2L119.6 67.9L125.9 61.3L131.7 52.4L136.8 40.9L139.8 30.1L140.4 25L140.5 20.3L139 14.3L137.3 12L135 10.8L132.3 10.7L129.2 11.5L121.5 16L113.3 23.2L104.4 33L97.8 42.6L94.4 49.9L89.9 64.7L87.5 69.8L85.7 71.9L83.6 73.3L81.1 74.2L78.4 74.3L75.2 73.7L72 72.3L65.5 67.4L60 60.5L54.8 50.8L51.4 40.6L49.8 30.2L49.9 25.4L50.7 21.2L51.5 18.9L53.3 16.2L55.5 14.5L58.1 13.7L61.1 13.9L64.2 14.9L68.3 17.1L72.4 20L80.4 27.5L87.4 36.4L92 44.8L94.5 51.3L98 66L99.9 71.1L101.3 73L103.2 74.5L105.3 75.4L107.5 75.6L110.3 75.1L113.7 73.8L117 71.8L120.7 68.7L127.5 61L132.7 52.6L137.4 42L140.7 30.4L141.5 24.8L141.6 19.7L141 15.4L140.2 13.1L139.1 11.3L136.8 9.6L134.1 9L130.9 9.6L124 13.1L114.9 20.5L104.9 31L97.8 40.4L93.7 48L88.5 61.9L86.1 66.4L82.9 69.3L78.8 70.6L76 70.4L73.2 69.5L67.5 65.8L61.9 59.5L57.1 51.4L53.5 41.3L52 32.3L52.5 24.4L53.5 21.3L55 19L57.7 17.1L61.8 16.8L66.3 18.4L71.8 21.9L77.5 27L82.2 32.4L86.2 38.3L89.5 45L91.6 51.4L92.7 58.5L92.9 66.2L92 73.1L90.3 77.5L88 80.4L84.9 82.1L80.7 82.6L76.7 81.9L72.5 80.1L68.4 77.4L64.8 74.2L61 69.9L57 64.3L51.4 53.4L47.1 40L45.4 28.4L45.4 22L46.3 16.4L47.4 13.4L49.7 9.9L51.7 8.4L53.8 7.5L56.2 7.2L60.1 7.9L66.7 10.9L74.4 16.6L82.1 23.8L89.7 32.2L96.5 41.9L104.7 57.4L107.5 60.2L110.3 61.3L114.7 60.8L119.7 57.7L124.1 53.1L128.5 46.3L132 37.9L133.7 30.4L133.4 24.3L131.6 21L129.6 20L126.6 20.1L123.2 21.6L119.7 23.9L115.7 27.5L111.6 32L105.8 40.9L102.9 49.1L102.4 53.4L102.6 57.1L103.5 60.7L105.1 63.2L107 64.8L109.6 65.5L114.3 64.6L119.9 61L125 55.5L130.2 47.4L133.9 38.6L136 29.4L135.9 22.7L135.2 20.2L134 18.3L131.8 16.9L128.3 16.9L124.3 18.5L120.1 21.3L114.6 26.2L109.8 31.5L105.6 37.2L102.7 42.5L100.7 47.2L99.4 52.6L98.9 57.8L99.2 63.1L100.3 67.2L102 70.3L104.4 72.2L107.3 73L109.9 72.8L113 71.9L119.5 67.7L125.7 61.2L131.4 52.5L136.6 41.2L139.5 30.6L140.3 20.8L138.9 14.7L137.3 12.4L135 11.2L132.4 11L129.4 11.7L121.8 16L112.6 24L104 33.7L97.8 43.1L94.5 50.3L90.2 65.1L87.8 70.4L86 72.6L84 74L81.5 74.9L78.8 75.1L75.6 74.5L71.8 72.9L68.3 70.5L65.2 67.7L59.5 60.5L54.2 50.4L50.8 39.9L49.4 29.2L49.6 24.4L50.4 20.2L51.4 17.9L53.2 15.3L55.6 13.7L58.4 13.1L61.4 13.5L64.6 14.6L72 19.2L80.3 26.9L87 35.2L92.1 43.7L94.8 50.4L98.6 64.5L100.6 69.4L102.2 71.3L103.9 72.7L107.9 73.6L110.7 73.2L114 72L120.8 67L127.3 59.5L133.1 49.9L138 37.9L140.3 27.1L140.7 22.1L140.3 17.8L139.3 14.4L138.2 12.7L136.1 11L133.5 10.5L130.6 10.9L127.4 12.2L119.6 17.3L110.7 25.7L102.5 35.2L97 43.8L94.1 50.3L89.9 63.8L87.5 69L84.1 72.5L80.1 73.8L77.2 73.7L73.8 72.7L67.7 68.9L62.3 63.3L56.9 54.8L53 45.5L50.5 35.1L50.2 25.4L51.8 19.1L53.5 16.4L55.8 14.8L58.4 14.1L62.3 14.5L66.4 16.2L70.4 18.8L79.5 26.9L86.7 35.8L91.8 44.9L94.3 51.9L97.6 67.3L99.5 72.5L102.4 75.7L106.4 76.9L109.5 76.6L112.8 75.4L119.8 70.7L126.7 63.2L133 53.3L138 42.4L141.4 30.2L142.2 24.4L142.4 19L141.7 14.5L140.8 12.1L139.6 10.2L137.3 8.5L135.4 8.1L132.2 8.3L128.7 9.6L125.1 11.7L115.6 19.2L105 30L97.4 39.7L93.3 46.8L87.7 60.4L85.3 64.5L82.3 67.3L78.7 68.5L76 68.4L73.4 67.7L70.6 66.2L67.4 63.9L62.2 57.9L57.8 50.3L54.5 41L53.1 32.8L53.6 25.5L54.6 22.7L56 20.6L58.4 18.8L62.2 18.5L66.3 19.8L70.5 22.3L76 26.9L80.6 32L84.6 37.8L87.6 43.7L89.5 49.1L90.6 55L90.8 61L90.1 66.2L88.6 70.6L86.4 73.6L83.6 75.5L80 76.3L77 76L73.3 74.7L69.8 72.7L66 69.5L60.1 62.7L54.5 52.6L50.7 42L48.8 30.7L48.8 25.4L49.5 20.8L50.3 18.2L52.1 15.1L53.5 13.7L56.2 12.4L59.2 12.2L62.4 12.9L65.7 14.4L70.2 17.1L78.2 23.9L85.9 32.6L91.8 41.6L95 48.6L99.3 62.3L101.5 67L104.4 70L108.4 71.1L111.1 70.8L114.3 69.6L120.1 65.5L126.1 58.9L131.6 50.4L135.6 41.2L138.5 31.3L139.3 22.1L138.1 16.3L136.6 14L133.8 12.5L131.2 12.4L127.4 13.6L123.3 15.9L119.3 18.9L109.4 28.5L101.9 38L97.3 46.6L94.7 54.4L91.6 69.5L89.7 74.5L88 76.7L86.1 78.4L83.8 79.4L80.9 79.8L77.2 79.4L73.3 78L69.6 75.7L66.2 73L62.7 69.3L59 64.5L53.6 55L49.3 43.2L47.8 36.8L47 30.4L46.8 24.4L47.5 19.1L48.4 16.1L50.3 12.6L52 11L55 9.6L57.2 9.4L60.7 10L66.9 12.8L75.2 18.9L83.9 27.5L91.8 37.6L96.1 45L101.6 57.8L103.8 61.6L106.5 64.1L109.9 65.1L114.8 64.1L120.4 60.3L125.5 54.5L129.9 47.4L133.6 38.8L135.8 29.7L135.8 23.1L135.1 20.5L133.9 18.6L131.8 17.2L128.4 17.1L124.4 18.7L120.3 21.4L114.8 26.2L110.1 31.4L105.9 37.1L102.9 42.3L101 47.1L99.6 52.4L99.2 57.6L99.5 62.6L100.6 66.7L102.4 69.7L104.8 71.6L107.9 72.3L110.5 72L113.7 70.9L120.2 66.4L126.4 59.6L132 50.6L136.3 41L139.1 30.7L139.9 21.2L138.6 15.3L136.9 13L134.8 11.7L132.2 11.5L128.2 12.6L120.8 17.1L111.1 25.9L103.2 35.2L97.6 44.4L94.7 51.4L90.8 66.3L88.6 71.6L86.9 73.7L84.8 75.4L82.4 76.4L79.8 76.7L76.7 76.3L73 74.9L66.2 70.2L60.3 63.4L54.6 53.4L50.7 42.6L48.6 31.2L48.5 25.8L49.1 21L49.9 18.3L51.6 15.1L53.1 13.5L55.8 12.2L58.8 11.9L62 12.5L65.4 13.9L69.9 16.6L78.1 23.5L85.9 32.3L92 41.4L95.3 48.3L99.6 61.6L101.9 66.3L104.9 69.3L108.7 70.3L113.9 69L119.5 65.4L125.4 59.2L130.7 51.2L135.4 40.9L138.1 31.3L138.8 22.4L137.6 16.8L136.2 14.6L133.5 13.1L131 13.1L127.3 14.2L123.3 16.4L118.4 20.1L108.3 30.3L101.5 39.5L97.2 48.4L95 56.3L92.4 72.2L90.7 77.3L88.9 79.9L86.8 81.6L84.2 82.6L81.2 82.9L77.3 82.3L73.2 80.6L69.2 78.2L65.7 75.2L61.8 71.2L57.9 65.8L52.1 55.3L47.5 42.2L45.4 30.5L45.2 23.8L45.9 17.9L46.8 14.6L48.9 10.6L50.7 8.8L52.7 7.6L55.1 7.1L58.8 7.4L65.5 10.1L73.4 15.6L81.3 22.8L89.1 31.4L96.3 41.2L105 57.3L107.7 60L110.6 61.1L115 60.4L119.5 57.6L123.9 53.1L128.2 46.5L131.8 38.3L133.5 30.9L133.3 24.7L131.6 21.3L129.8 20.3L126.8 20.3L123.5 21.6L120.1 23.9L116.1 27.3L112 31.8L106.1 40.6L103.2 48.8L102.6 53.1L102.8 56.8L103.7 60.1L105.1 62.6L107 64.3L109.5 65.1L111.9 65L114.6 64.1L120.2 60.4L125.3 54.8L130.3 46.7L133.9 37.9L135.8 29L135.6 22.5L134.8 20.1L133.6 18.4L131.4 17.1L127.9 17.3L123.9 19L119.8 21.8L115.1 26L110.4 31.1L106.1 36.8L103.1 42.1L101.1 46.8L99.7 52.2L99.2 57.4L99.5 62L100.6 66.2L102.3 69.3L104.7 71.2L107.7 72.1L110.2 71.9L113.3 70.9L119.7 66.7L125.9 60.1L131.4 51.5L135.7 42.2L138.8 31.9L139.8 22.3L138.7 16.1L137.3 13.6L135.3 12.1L132.8 11.6L128.9 12.4L121.6 16.6L111.8 25.3L103.2 35.5L97.6 44.6L94.5 52.6L90.7 67.5L88.6 72.3L87 74.4L84.8 76.1L82.3 77L79.7 77.2L76.6 76.8L72.7 75.3L69.1 73.1L65.9 70.4L59.9 63.3L54.1 53L50.2 42L48.4 32.2L48.2 26.6L48.7 21.6L49.9 17.4L51 15.2L52.4 13.5L55 11.9L58 11.4L61.3 11.9L68.2 15.2L76.7 21.9L85.2 30.9L91.7 40.2L95.3 47.3L100 60.8L102.1 65.2L105.2 68.3L108.9 69.3L114.1 68L119.7 64.4L125.4 58.4L130.5 50.5L135 40.5L137.6 31.3L138.3 22.8L137.1 17.4L135.1 14.8L132.3 13.8L128.9 14.2L125.2 15.8L120.4 19L114.9 23.8L109.3 29.6L104.9 35.2L99.6 44.1L96.5 52.7L95 61.7L93.9 79.1L92.8 84.4L91.6 86.7L89.7 88.4L87.3 89.6L84 90L79.4 89.4L74.5 87.6L70.2 85.1L65.3 81.2L60.9 76.6L56.3 70.4L49.6 58L46.6 50.4L44.1 42.2L41.7 27.8L41.6 19.8L42.1 14.9L43.9 8.9L45.6 5.8L48.9 2.8L51.6 1.9L54.5 1.7L60.7 3.4L68.7 8L77.6 15.1L88.2 25.3L98.1 36.4L108 50L110 52L112.2 53.1L115.4 53.1L118.6 51.6L122 48.5L124.9 44.4L127.3 39.5L128.7 34.3L128.8 29.9L127.3 27.2L126.1 26.6L124.2 26.6L119.9 28.8L115.3 33.1L111.5 38.7L109.3 44L108.7 48.9L109.8 52.9L111 54.2L112.4 54.9L115.6 54.7L119.3 52.6L123 48.8L126.1 44L128.5 38.3L129.7 33.3L129.6 28.6L128.1 26L126.7 25.4L124.6 25.5L119.9 27.9L114.9 32.7L110.5 39.1L108.1 45.2L107.6 50.3L108.9 54.5L110.2 55.8L112 56.6L115.5 56.2L119.6 53.8L123.6 49.5L127 44.1L129.6 37.7L130.8 32.1L130.6 27.5L128.9 24.6L127.4 24L125.1 24.1L119.7 26.9L113.8 32.8L109.2 39.8L106.8 46.2L106.4 52L106.9 54.6L107.9 56.5L109.4 57.9L111.2 58.7L115.1 58.3L119.5 55.6L123.5 51.6L127.3 45.7L130.5 38.5L132 32L132 26.6L131.4 24.8L130.2 23.1L128.5 22.2L126 22.3L123 23.4L120 25.4L113.2 31.9L107.8 40.1L105.1 47.4L104.7 53.9L105.3 56.7L106.5 59L108.2 60.7L110.3 61.5L112.4 61.5L114.9 60.9L119.8 57.7L124.3 53L128.7 46.1L131.8 38.8L133.6 31.2L133.6 24.8L131.9 21.2L130.1 20L127.2 20L123.8 21.2L120.3 23.5L116.2 27L112 31.5L106 40.4L102.9 48.7L102.3 53.1L102.5 56.9L103.4 60.5L104.8 63.1L106.7 64.7L109.2 65.6L111.5 65.6L114.3 64.8L119.9 61.2L125 55.6L130.2 47.5L133.9 38.6L136 29.4L136 22.7L135.3 20.1L134.1 18.2L131.9 16.8L128.3 16.8L124.3 18.5L120.1 21.3L114.5 26.2L109.8 31.4L105.6 37.2L102.6 42.5L100.6 47.2L99.3 52.6L98.7 57.8L99 62.8L100 67L101.8 70.4L104.1 72.4L106.9 73.3L109.9 73.1L113 72.1L119.5 67.9L125.8 61.3L131.6 52.5L136.7 41.1L139.7 30.3L140.4 20.5L139 14.4L137.3 12.1L135 10.9L132.3 10.8L129.3 11.5L121.7 15.9L113.4 23.1L104.5 32.9L97.9 42.6L94.5 49.9L90 64.7L87.5 70.1L85.6 72.2L83.6 73.5L81 74.4L78.2 74.5L75 73.8L71.8 72.4L65.2 67.2L59.7 60.2L54.4 50.3L51.1 40L49.7 29.5L49.9 24.7L50.7 20.7L51.6 18.4L53.4 15.8L55.7 14.2L58.4 13.6L61.4 13.9L64.5 14.9L68.7 17.2L72.8 20.2L80.8 27.8L87.7 36.7L92.3 45L95 52.5L98.4 66.5L100 70.5L101.4 72.5L103.3 74L105.4 74.9L107.7 75.1L110.4 74.6L113.8 73.3L117.1 71.3L120.8 68.2L127.5 60.6L132.7 52.2L137.3 41.8L140.5 30.4L141.4 21.4L140.4 14.4L139.4 12.4L137.4 10.3L134.8 9.4L131.8 9.6L128.5 10.8L123.9 13.4L115 20.7L105.1 31L97.6 41.2L93.8 48.7L89 62L86.5 66.9L83.1 70.1L79 71.3L76.1 71.1L73.3 70.2L67.5 66.5L61.7 60L56.8 51.7L53.1 41.4L51.5 32L52.1 23.8L53.2 20.7L54.7 18.3L57.5 16.5L61.8 16.3L67.4 18.4L72.9 22.3L78.6 27.6L84.3 34.7L88.6 41.8L91.4 48.7L93.2 56.7L93.9 65.4L93.5 74.9L92.1 81.3L89.8 84.9L86.3 86.8L81.9 87.2L76.6 86L72.9 84.3L68.5 81.5L64.6 78.1L60.4 73.4L53.8 63.6L50.7 57.4L47.9 50.3L44.3 37.3L42.9 24.2L43.4 17.2L44.2 13.2L45.5 9.8L48.3 6.1L50.5 4.6L53.1 3.9L55.8 3.8L58.7 4.4L64.7 7L72 12L81.1 19.9L90.1 29.2L97.8 38.7L106.9 52.7L109.2 54.9L111.5 56L115 55.8L119.1 53.7L123.1 49.7L126.5 44.6L129.2 38.4L130.5 32.9L130.4 27.7L128.7 24.9L127.2 24.2L125 24.4L120.3 26.7L114.8 31.8L109.9 38.7L107.4 44.7L106.6 50.7L106.9 53.2L107.8 55.5L109 57.1L110.7 58.1L113.2 58.3L115.9 57.6L118.9 55.7L121.8 53.1L124.7 49.5L127.5 45L131 36.1" fill="none" stroke="#3a80e4" stroke-opacity="0.55" stroke-width="0.6"/>
<path d="M38.6,105.5 C34.8,106 34.4,108 34.4,111 L34.4,133 C34.4,136.5 33.2,138.5 30.8,139.3 C33.2,140.1 34.4,142 34.4,145.5 L34.4,167.5 C34.4,170.5 34.8,172.5 38.6,173" fill="none" stroke="#111" stroke-width="1.1"/>
<text y="112.2" style="font-family:'Liberation Serif',serif;font-size:10.6px" fill="#111" stroke="#111" stroke-width="0.15"><tspan x="43.9">d</tspan><tspan style="font-style:italic">x</tspan></text><text y="122.6" style="font-family:'Liberation Serif',serif;font-size:10.6px" fill="#111" stroke="#111" stroke-width="0.15"><tspan x="44.4">d</tspan><tspan style="font-style:italic">t</tspan></text><rect x="43.2" y="114" width="14.6" height="0.6" fill="#111"/>
<text y="137.8" style="font-family:'Liberation Serif',serif;font-size:10.6px" fill="#111" stroke="#111" stroke-width="0.15"><tspan x="43.9">d</tspan><tspan style="font-style:italic">y</tspan></text><text y="148.2" style="font-family:'Liberation Serif',serif;font-size:10.6px" fill="#111" stroke="#111" stroke-width="0.15"><tspan x="44.4">d</tspan><tspan style="font-style:italic">t</tspan></text><rect x="43.2" y="139.6" width="14.6" height="0.6" fill="#111"/>
<text y="160.6" style="font-family:'Liberation Serif',serif;font-size:10.6px" fill="#111" stroke="#111" stroke-width="0.15"><tspan x="43.9">d</tspan><tspan style="font-style:italic">z</tspan></text><text y="171" style="font-family:'Liberation Serif',serif;font-size:10.6px" fill="#111" stroke="#111" stroke-width="0.15"><tspan x="44.4">d</tspan><tspan style="font-style:italic">t</tspan></text><rect x="43.2" y="162.4" width="14.6" height="0.6" fill="#111"/>
<text y="118.7" style="font-family:'Liberation Serif',serif;font-size:14.5px" fill="#111" stroke="#111" stroke-width="0.22"><tspan x="79.3" style="font-style:italic">σ</tspan><tspan x="87.4" style="font-size:17px">(</tspan><tspan x="94.5" style="font-style:italic">y</tspan><tspan x="119.7" style="font-style:italic">x</tspan><tspan x="127.8" style="font-size:17px">)</tspan></text><rect x="64" y="112.2" width="10.4" height="0.85" fill="#111"/><rect x="64" y="115.6" width="10.4" height="0.85" fill="#111"/><rect x="106" y="113.8" width="8.4" height="0.95" fill="#111"/>
<text y="144.3" style="font-family:'Liberation Serif',serif;font-size:14.5px" fill="#111" stroke="#111" stroke-width="0.22"><tspan x="79" style="font-style:italic">x</tspan><tspan x="86.2" style="font-size:17px">(</tspan><tspan x="91.2" style="font-style:italic">ρ</tspan><tspan x="118.9" style="font-style:italic">z</tspan><tspan x="127.1" style="font-size:17px">)</tspan><tspan x="150.7" style="font-style:italic">y</tspan></text><rect x="64" y="137.8" width="10.4" height="0.85" fill="#111"/><rect x="64" y="141.2" width="10.4" height="0.85" fill="#111"/><rect x="105.2" y="139.5" width="8" height="0.95" fill="#111"/><rect x="135.5" y="139.5" width="8" height="0.95" fill="#111"/>
<text y="167.1" style="font-family:'Liberation Serif',serif;font-size:14.5px" fill="#111" stroke="#111" stroke-width="0.22"><tspan x="79" style="font-style:italic">x</tspan><tspan x="87.1" style="font-style:italic">y</tspan><tspan x="112.9" style="font-style:italic">β</tspan><tspan x="121" style="font-style:italic">z</tspan></text><rect x="64" y="160.6" width="10.4" height="0.85" fill="#111"/><rect x="64" y="164" width="10.4" height="0.85" fill="#111"/><rect x="99.6" y="162.2" width="8.2" height="0.95" fill="#111"/>
<path d="M194,86.5 L227.3,34.3 L254.5,34.3 M195,88.8 L254.5,88.8 M194,91 L227.3,143.8 L254.5,143.8" fill="none" stroke="#1a1a1a" stroke-width="1"/>
<path d="M250.5,31.3 L255,34.3 L250.5,37.3" fill="none" stroke="#1a1a1a" stroke-width="1" stroke-linejoin="miter"/>
<path d="M250.5,85.8 L255,88.8 L250.5,91.8" fill="none" stroke="#1a1a1a" stroke-width="1" stroke-linejoin="miter"/>
<path d="M250.5,140.8 L255,143.8 L250.5,146.8" fill="none" stroke="#1a1a1a" stroke-width="1" stroke-linejoin="miter"/>
<circle cx="192" cy="88.8" r="2.9" fill="#fff" stroke="#1a1a1a" stroke-width="0.9"/>
<path d="M192,95 L192,179.8 L355.7,179.8 L355.7,106.3" fill="none" stroke="#111" stroke-width="0.95" stroke-dasharray="2.4,1.5"/>
<path d="M190,95.5 L192,92.3 L194,95.5" fill="none" stroke="#222" stroke-width="0.8"/>
<text x="261" y="37.8" style="font-family:'Liberation Serif',serif;font-size:13.5px;font-style:italic" fill="#111" stroke="#111" stroke-width="0.2">x</text>
<text x="261" y="92.4" style="font-family:'Liberation Serif',serif;font-size:13.5px;font-style:italic" fill="#111" stroke="#111" stroke-width="0.2">y</text>
<text x="261" y="147.4" style="font-family:'Liberation Serif',serif;font-size:13.5px;font-style:italic" fill="#111" stroke="#111" stroke-width="0.2">z</text>
<text x="351.5" y="94.5" style="font-family:'Liberation Serif',serif;font-size:13px;font-style:italic" fill="#111">f</text>
<path d="M330.3,19.2 C334.5,19.6 334.9,22 334.9,26 L334.9,83 C334.9,87.5 335.8,89.5 338.4,90.1 C335.8,90.7 334.9,92.7 334.9,97.2 L334.9,155.6 C334.9,159.5 334.5,162 330.3,162.6" fill="none" stroke="#1a1a1a" stroke-width="1"/>
<text x="300.3" y="7.5" text-anchor="middle" style="font-family:'Liberation Sans',sans-serif;font-size:8.6px" fill="#222">MFS #1</text>
<path d="M288.4 11.7V49M296.4 11.7V49M304.7 11.7V49M312.7 11.7V49" stroke="#3cb84a" stroke-width="0.9" fill="none"/>
<path d="M286.1 46.3L288.4 49.3L290.7 46.3M294.1 46.3L296.4 49.3L298.7 46.3M302.4 46.3L304.7 49.3L307 46.3M310.4 46.3L312.7 49.3L315 46.3" stroke="#2bb03a" stroke-width="0.9" fill="none"/>
<path d="M281.3 19.7H320.2M281.3 27.1H320.2M281.3 34.5H320.2M281.3 41.9H320.2" stroke="#4a4a4a" stroke-width="0.8" fill="none"/>
<g fill="#f791b2"><circle cx="288.4" cy="19.7" r="2.75"/><circle cx="296.4" cy="19.7" r="2.75"/><circle cx="304.7" cy="19.7" r="2.75"/><circle cx="312.7" cy="19.7" r="2.75"/><circle cx="288.4" cy="27.1" r="2.75"/><circle cx="296.4" cy="27.1" r="2.75"/><circle cx="304.7" cy="27.1" r="2.75"/><circle cx="312.7" cy="27.1" r="2.75"/><circle cx="288.4" cy="34.5" r="2.75"/><circle cx="296.4" cy="34.5" r="2.75"/><circle cx="304.7" cy="34.5" r="2.75"/><circle cx="312.7" cy="34.5" r="2.75"/><circle cx="288.4" cy="41.9" r="2.75"/><circle cx="296.4" cy="41.9" r="2.75"/><circle cx="304.7" cy="41.9" r="2.75"/><circle cx="312.7" cy="41.9" r="2.75"/></g>
<text x="300.3" y="68" text-anchor="middle" style="font-family:'Liberation Sans',sans-serif;font-size:8.6px" fill="#222">MFS #2</text>
<path d="M288.4 72.2V109.5M296.4 72.2V109.5M304.7 72.2V109.5M312.7 72.2V109.5" stroke="#3cb84a" stroke-width="0.9" fill="none"/>
<path d="M286.1 106.8L288.4 109.8L290.7 106.8M294.1 106.8L296.4 109.8L298.7 106.8M302.4 106.8L304.7 109.8L307 106.8M310.4 106.8L312.7 109.8L315 106.8" stroke="#2bb03a" stroke-width="0.9" fill="none"/>
<path d="M281.3 80.2H320.2M281.3 87.6H320.2M281.3 95H320.2M281.3 102.4H320.2" stroke="#4a4a4a" stroke-width="0.8" fill="none"/>
<g fill="#f791b2"><circle cx="288.4" cy="80.2" r="2.75"/><circle cx="296.4" cy="80.2" r="2.75"/><circle cx="304.7" cy="80.2" r="2.75"/><circle cx="312.7" cy="80.2" r="2.75"/><circle cx="288.4" cy="87.6" r="2.75"/><circle cx="296.4" cy="87.6" r="2.75"/><circle cx="304.7" cy="87.6" r="2.75"/><circle cx="312.7" cy="87.6" r="2.75"/><circle cx="288.4" cy="95" r="2.75"/><circle cx="296.4" cy="95" r="2.75"/><circle cx="304.7" cy="95" r="2.75"/><circle cx="312.7" cy="95" r="2.75"/><circle cx="288.4" cy="102.4" r="2.75"/><circle cx="296.4" cy="102.4" r="2.75"/><circle cx="304.7" cy="102.4" r="2.75"/><circle cx="312.7" cy="102.4" r="2.75"/></g>
<text x="300.3" y="128.3" text-anchor="middle" style="font-family:'Liberation Sans',sans-serif;font-size:8.6px" fill="#222">MFS #3</text>
<path d="M288.4 132.5V169.8M296.4 132.5V169.8M304.7 132.5V169.8M312.7 132.5V169.8" stroke="#3cb84a" stroke-width="0.9" fill="none"/>
<path d="M286.1 167.1L288.4 170.1L290.7 167.1M294.1 167.1L296.4 170.1L298.7 167.1M302.4 167.1L304.7 170.1L307 167.1M310.4 167.1L312.7 170.1L315 167.1" stroke="#2bb03a" stroke-width="0.9" fill="none"/>
<path d="M281.3 140.5H320.2M281.3 147.9H320.2M281.3 155.3H320.2M281.3 162.7H320.2" stroke="#4a4a4a" stroke-width="0.8" fill="none"/>
<g fill="#f791b2"><circle cx="288.4" cy="140.5" r="2.75"/><circle cx="296.4" cy="140.5" r="2.75"/><circle cx="304.7" cy="140.5" r="2.75"/><circle cx="312.7" cy="140.5" r="2.75"/><circle cx="288.4" cy="147.9" r="2.75"/><circle cx="296.4" cy="147.9" r="2.75"/><circle cx="304.7" cy="147.9" r="2.75"/><circle cx="312.7" cy="147.9" r="2.75"/><circle cx="288.4" cy="155.3" r="2.75"/><circle cx="296.4" cy="155.3" r="2.75"/><circle cx="304.7" cy="155.3" r="2.75"/><circle cx="312.7" cy="155.3" r="2.75"/><circle cx="288.4" cy="162.7" r="2.75"/><circle cx="296.4" cy="162.7" r="2.75"/><circle cx="304.7" cy="162.7" r="2.75"/><circle cx="312.7" cy="162.7" r="2.75"/></g>
<path d="M532.6,8.9 L531.3,118 M419.8,154.8 L531.3,118 L594.8,130.8" stroke="#1a1a1a" stroke-width="0.8" fill="none"/>
<path d="M428.8 143.1L436.4 140.3L440.6 141.5L432.9 144.3ZM444 137.6L451.4 135L455.5 136.1L448.1 138.8ZM465.8 129.8L476.3 126L480.4 127.1L469.9 130.9ZM479.8 124.8L490 121.1L494 122.2L483.9 125.8ZM493.3 119.9L496.6 118.7L500.7 119.7L497.4 120.9ZM506.4 115.2L509.6 114L513.6 115L510.4 116.2ZM512.8 112.9L516 111.8L520 112.7L516.8 113.9ZM522.2 109.5L525.3 108.4L529.3 109.4L526.2 110.5ZM425.1 147.1L429 145.7L433.2 147L429.3 148.4ZM436.8 142.9L440.6 141.5L444.7 142.7L440.9 144.1ZM448.1 138.8L455.5 136.1L459.6 137.3L452.2 140ZM462.8 133.5L466.3 132.2L470.5 133.3L466.9 134.6ZM473.4 129.6L480.4 127.1L484.5 128.2L477.6 130.7ZM513.6 115L520 112.7L524 113.7L517.7 116.1ZM429.3 148.4L433.2 147L437.4 148.2L433.5 149.6ZM440.9 144.1L444.7 142.7L448.9 144L445.1 145.4ZM455.9 138.6L459.6 137.3L463.8 138.5L460.1 139.8ZM466.9 134.6L474 132L478.2 133.2L471 135.8ZM477.6 130.7L484.5 128.2L488.7 129.3L481.7 131.9ZM494.8 124.4L498.1 123.2L502.2 124.3L498.9 125.5ZM501.4 122L504.7 120.8L508.9 121.8L505.6 123.1ZM511.3 118.4L517.7 116.1L521.8 117.1L515.4 119.4ZM524 113.7L527.2 112.6L531.2 113.6L528.1 114.7ZM433.5 149.6L441.3 146.8L445.5 148L437.7 150.9ZM445.1 145.4L456.4 141.2L460.6 142.4L449.3 146.6ZM467.4 137.1L471 135.8L475.2 137L471.6 138.3ZM485.2 130.6L488.7 129.3L492.8 130.4L489.4 131.7ZM498.9 125.5L512.1 120.6L516.3 121.7L503 126.6ZM515.4 119.4L521.8 117.1L525.9 118.1L519.5 120.5ZM525 115.9L528.1 114.7L532.2 115.8L529.1 116.9ZM531.2 113.6L534.3 112.5L538.4 113.4L535.3 114.6ZM437.7 150.9L445.5 148L449.7 149.3L442 152.2ZM449.3 146.6L453.1 145.2L457.4 146.4L453.6 147.8ZM456.9 143.8L460.6 142.4L464.9 143.6L461.1 145ZM496.3 129.1L499.7 127.9L503.8 129L500.4 130.2ZM509.7 124.1L513 122.9L517.2 124L513.9 125.2ZM519.5 120.5L525.9 118.1L530.1 119.1L523.7 121.5ZM532.2 115.8L538.4 113.4L542.5 114.5L536.3 116.8ZM461.1 145L468.6 142.2L472.8 143.4L465.4 146.2ZM500.4 130.2L503.8 129L508.1 130.1L504.7 131.4ZM507.2 127.7L510.6 126.5L514.8 127.5L511.4 128.8ZM513.9 125.2L517.2 124L521.4 125.1L518.1 126.3ZM526.9 120.3L530.1 119.1L534.2 120.2L531 121.4ZM545.6 113.3L548.6 112.2L552.8 113.2L549.8 114.3ZM454 150.5L465.4 146.2L469.7 147.5L458.4 151.8ZM476.5 142L480.1 140.7L484.4 141.9L480.8 143.2ZM483.7 139.3L487.3 138L491.6 139.1L488 140.5ZM490.8 136.6L494.3 135.3L498.6 136.4L495.1 137.8ZM497.8 134L514.8 127.5L519 128.6L502.1 135.1ZM518.1 126.3L521.4 125.1L525.6 126.1L522.3 127.4ZM531 121.4L534.2 120.2L538.4 121.2L535.3 122.4ZM543.6 116.6L549.8 114.3L553.9 115.3L547.8 117.6ZM462.2 150.3L469.7 147.5L474 148.7L466.5 151.6ZM473.4 146.1L477.1 144.6L481.4 145.9L477.8 147.3ZM488 140.5L491.6 139.1L495.9 140.3L492.3 141.7ZM495.1 137.8L498.6 136.4L502.9 137.6L499.4 139ZM502.1 135.1L512.3 131.2L516.6 132.3L506.4 136.3ZM515.7 129.9L519 128.6L523.3 129.8L519.9 131ZM522.3 127.4L528.8 124.9L533.1 126L526.6 128.5ZM535.3 122.4L538.4 121.2L542.7 122.3L539.5 123.5ZM547.8 117.6L553.9 115.3L558.1 116.3L552 118.7ZM455 156.1L458.9 154.6L463.3 155.9L459.4 157.4ZM477.8 147.3L481.4 145.9L485.8 147.1L482.1 148.5ZM488.7 143.1L492.3 141.7L496.7 142.9L493.1 144.3ZM513.2 133.6L519.9 131L524.2 132.2L517.5 134.8ZM526.6 128.5L536.3 124.7L540.6 125.8L530.9 129.6ZM539.5 123.5L545.8 121.1L550.1 122.1L543.8 124.6ZM552 118.7L555.1 117.5L559.3 118.5L556.3 119.7ZM558.1 116.3L564.1 114L568.4 115L562.4 117.3ZM459.4 157.4L463.3 155.9L467.7 157.2L463.8 158.7ZM474.7 151.4L478.4 150L482.8 151.2L479.1 152.7ZM482.1 148.5L493.1 144.3L497.5 145.5L486.5 149.8ZM496.7 142.9L500.2 141.5L504.6 142.7L501 144.1ZM524.2 132.2L527.6 130.9L531.9 132L528.6 133.3ZM530.9 129.6L534.1 128.3L538.4 129.4L535.2 130.7ZM537.4 127.1L540.6 125.8L544.9 126.9L541.7 128.2ZM543.8 124.6L550.1 122.1L554.4 123.2L548.1 125.7ZM556.3 119.7L559.3 118.5L563.6 119.6L560.5 120.8ZM565.4 116.2L568.4 115L572.6 116L569.6 117.2ZM463.8 158.7L471.5 155.7L476 157L468.3 160ZM479.1 152.7L482.8 151.2L487.3 152.5L483.5 154ZM490.2 148.4L497.5 145.5L501.9 146.7L494.6 149.6ZM511.6 140L521.9 135.9L526.2 137.1L516 141.2ZM525.2 134.6L538.4 129.4L542.8 130.5L529.6 135.8ZM541.7 128.2L544.9 126.9L549.2 128L546 129.3ZM560.5 120.8L563.6 119.6L567.9 120.6L564.8 121.8ZM468.3 160L476 157L480.5 158.3L472.8 161.4ZM483.5 154L487.3 152.5L491.7 153.8L488 155.3ZM491 151.1L494.6 149.6L499.1 150.9L495.4 152.3ZM498.3 148.2L501.9 146.7L506.3 148L502.7 149.4ZM509 143.9L516 141.2L520.4 142.4L513.4 145.1ZM522.9 138.4L532.9 134.4L537.3 135.6L527.3 139.6ZM536.3 133.1L542.8 130.5L547.2 131.7L540.7 134.3ZM546 129.3L549.2 128L553.6 129.1L550.4 130.4ZM552.4 126.7L555.5 125.5L559.9 126.6L556.8 127.8ZM558.7 124.3L567.9 120.6L572.2 121.7L563 125.3ZM476.6 159.8L480.5 158.3L485 159.7L481.2 161.2ZM488 155.3L491.7 153.8L496.3 155.1L492.5 156.6ZM495.4 152.3L506.3 148L510.8 149.2L499.9 153.6ZM513.4 145.1L523.9 141L528.3 142.2L517.9 146.4ZM527.3 139.6L537.3 135.6L541.8 136.8L531.7 140.8ZM540.7 134.3L547.2 131.7L551.6 132.8L545.1 135.4ZM550.4 130.4L559.9 126.6L564.3 127.7L554.8 131.5ZM563 125.3L566.1 124.1L570.5 125.2L567.4 126.4ZM569.2 122.9L572.2 121.7L576.6 122.7L573.5 123.9ZM575.2 120.5L578.2 119.3L582.6 120.3L579.6 121.5ZM477.3 162.8L488.8 158.1L493.3 159.5L481.9 164.1ZM492.5 156.6L496.3 155.1L500.8 156.4L497.1 157.9ZM499.9 153.6L510.8 149.2L515.3 150.5L504.5 154.9ZM517.9 146.4L528.3 142.2L532.8 143.4L522.4 147.6ZM535.1 139.4L538.5 138.1L542.9 139.3L539.6 140.6ZM545.1 135.4L564.3 127.7L568.7 128.8L549.5 136.6ZM567.4 126.4L576.6 122.7L581 123.8L571.8 127.5ZM579.6 121.5L585.5 119.1L589.9 120.2L584 122.6ZM481.9 164.1L485.7 162.6L490.3 163.9L486.5 165.5ZM489.6 161L508.1 153.4L512.7 154.7L494.2 162.4ZM511.8 152L522.4 147.6L527 148.9L516.3 153.2ZM525.9 146.2L529.4 144.8L533.9 146L530.4 147.4ZM539.6 140.6L546.2 137.9L550.7 139.1L544.1 141.8ZM559.2 132.6L562.4 131.3L566.9 132.5L563.7 133.8ZM565.6 130.1L568.7 128.8L573.1 129.9L570 131.2ZM571.8 127.5L574.9 126.3L579.3 127.4L576.2 128.6ZM577.9 125L581 123.8L585.4 124.9L582.4 126.1ZM584 122.6L589.9 120.2L594.3 121.2L588.4 123.6Z" fill="#a6d898" stroke="#a6d898" stroke-width="0.15"/>
<path d="M421 145.9L424.9 144.5L429 145.7L425.1 147.1ZM458.7 132.4L462.2 131.1L466.3 132.2L462.8 133.5ZM499.9 117.5L503.2 116.4L507.2 117.4L504 118.6ZM509.6 114L512.8 112.9L516.8 113.9L513.6 115ZM483.9 125.8L487.3 124.6L491.4 125.7L488 126.9ZM490.7 123.4L494 122.2L498.1 123.2L494.8 124.4ZM497.4 120.9L500.7 119.7L504.7 120.8L501.4 122ZM510.4 116.2L513.6 115L517.7 116.1L514.5 117.2ZM526.2 110.5L529.3 109.4L533.3 110.3L530.3 111.5ZM448.5 141.4L452.2 140L456.4 141.2L452.7 142.6ZM488 126.9L491.4 125.7L495.5 126.8L492.1 128ZM498.1 123.2L501.4 122L505.6 123.1L502.2 124.3ZM520.9 114.9L524 113.7L528.1 114.7L525 115.9ZM474.6 134.5L478.2 133.2L482.4 134.3L478.8 135.6ZM481.7 131.9L485.2 130.6L489.4 131.7L485.9 133ZM492.1 128L495.5 126.8L499.7 127.9L496.3 129.1ZM528.1 114.7L531.2 113.6L535.3 114.6L532.2 115.8ZM445.5 148L449.3 146.6L453.6 147.8L449.7 149.3ZM529.1 116.9L532.2 115.8L536.3 116.8L533.2 118ZM541.5 112.3L544.5 111.2L548.6 112.2L545.6 113.3ZM449.7 149.3L457.4 146.4L461.6 147.7L454 150.5ZM523.7 121.5L526.9 120.3L531 121.4L527.8 122.6ZM539.5 115.6L545.6 113.3L549.8 114.3L543.6 116.6ZM548.6 112.2L551.7 111L555.8 112L552.8 113.2ZM465.4 146.2L472.8 143.4L477.1 144.6L469.7 147.5ZM549.8 114.3L552.8 113.2L557 114.2L553.9 115.3ZM469.7 147.5L473.4 146.1L477.8 147.3L474 148.7ZM484.4 141.9L488 140.5L492.3 141.7L488.7 143.1ZM512.3 131.2L515.7 129.9L519.9 131L516.6 132.3ZM528.8 124.9L532.1 123.7L536.3 124.7L533.1 126ZM466.5 151.6L474 148.7L478.4 150L470.9 152.9ZM481.4 145.9L485.1 144.5L489.5 145.7L485.8 147.1ZM492.3 141.7L495.9 140.3L500.2 141.5L496.7 142.9ZM506.4 136.3L513.2 133.6L517.5 134.8L510.7 137.4ZM519.9 131L523.3 129.8L527.6 130.9L524.2 132.2ZM555.1 117.5L558.1 116.3L562.4 117.3L559.3 118.5ZM470.9 152.9L474.7 151.4L479.1 152.7L475.3 154.2ZM514.1 136.1L517.5 134.8L521.9 135.9L518.5 137.3ZM520.9 133.5L524.2 132.2L528.6 133.3L525.2 134.6ZM553.2 120.9L556.3 119.7L560.5 120.8L557.5 122ZM562.4 117.3L565.4 116.2L569.6 117.2L566.6 118.4ZM486.5 149.8L490.2 148.4L494.6 149.6L491 151.1ZM504.6 142.7L508.1 141.3L512.5 142.5L509 143.9ZM548.1 125.7L551.2 124.4L555.5 125.5L552.4 126.7ZM557.5 122L560.5 120.8L564.8 121.8L561.8 123ZM566.6 118.4L569.6 117.2L573.9 118.2L570.9 119.4ZM494.6 149.6L498.3 148.2L502.7 149.4L499.1 150.9ZM516 141.2L519.4 139.8L523.9 141L520.4 142.4ZM532.9 134.4L536.3 133.1L540.7 134.3L537.3 135.6ZM570.9 119.4L573.9 118.2L578.2 119.3L575.2 120.5ZM472.8 161.4L476.6 159.8L481.2 161.2L477.3 162.8ZM537.3 135.6L540.7 134.3L545.1 135.4L541.8 136.8ZM547.2 131.7L550.4 130.4L554.8 131.5L551.6 132.8ZM559.9 126.6L563 125.3L567.4 126.4L564.3 127.7ZM566.1 124.1L569.2 122.9L573.5 123.9L570.5 125.2ZM578.2 119.3L581.2 118.1L585.5 119.1L582.6 120.3ZM528.3 142.2L531.7 140.8L536.2 142L532.8 143.4ZM538.5 138.1L545.1 135.4L549.5 136.6L542.9 139.3ZM576.6 122.7L579.6 121.5L584 122.6L581 123.8ZM485.7 162.6L489.6 161L494.2 162.4L490.3 163.9ZM508.1 153.4L511.8 152L516.3 153.2L512.7 154.7ZM522.4 147.6L525.9 146.2L530.4 147.4L527 148.9ZM529.4 144.8L536.2 142L540.7 143.2L533.9 146ZM546.2 137.9L556 133.9L560.5 135.1L550.7 139.1Z" fill="#70cc9c" stroke="#70cc9c" stroke-width="0.15"/>
<path d="M553.9 115.3L557 114.2L561.1 115.2L558.1 116.3ZM542.8 130.5L546 129.3L550.4 130.4L547.2 131.7ZM581 123.8L584 122.6L588.4 123.6L585.4 124.9Z" fill="#3fc09c" stroke="#3fc09c" stroke-width="0.15"/>
<path d="M527.2 112.6L530.3 111.5L534.3 112.5L531.2 113.6ZM503 126.6L506.4 125.4L510.6 126.5L507.2 127.7ZM472.2 140.8L475.8 139.5L480.1 140.7L476.5 142ZM510.7 137.4L514.1 136.1L518.5 137.3L515 138.6ZM517.5 134.8L520.9 133.5L525.2 134.6L521.9 135.9ZM508.1 141.3L511.6 140L516 141.2L512.5 142.5ZM521.9 135.9L525.2 134.6L529.6 135.8L526.2 137.1ZM514.4 147.8L517.9 146.4L522.4 147.6L518.9 149.1Z" fill="#23b1a2" stroke="#23b1a2" stroke-width="0.15"/>
<path d="M455 133.7L458.7 132.4L462.8 133.5L459.1 134.8ZM459.1 134.8L462.8 133.5L466.9 134.6L463.3 136ZM500.7 119.7L504 118.6L508 119.6L504.7 120.8ZM433.2 147L437.1 145.5L441.3 146.8L437.4 148.2ZM463.3 136L466.9 134.6L471 135.8L467.4 137.1ZM474 132L477.6 130.7L481.7 131.9L478.2 133.2ZM456.4 141.2L460.1 139.8L464.3 141L460.6 142.4ZM471 135.8L474.6 134.5L478.8 135.6L475.2 137ZM478.2 133.2L481.7 131.9L485.9 133L482.4 134.3ZM521.8 117.1L525 115.9L529.1 116.9L525.9 118.1ZM460.6 142.4L464.3 141L468.6 142.2L464.9 143.6ZM475.2 137L478.8 135.6L483 136.8L479.5 138.1ZM482.4 134.3L485.9 133L490.1 134.1L486.6 135.5ZM489.4 131.7L492.8 130.4L497 131.5L493.6 132.8ZM525.9 118.1L529.1 116.9L533.2 118L530.1 119.1ZM445.9 150.7L449.7 149.3L454 150.5L450.2 152ZM479.5 138.1L486.6 135.5L490.8 136.6L483.7 139.3ZM493.6 132.8L497 131.5L501.2 132.7L497.8 134ZM450.2 152L454 150.5L458.4 151.8L454.5 153.3ZM487.3 138L490.8 136.6L495.1 137.8L491.6 139.1ZM534.2 120.2L537.4 119L541.6 120L538.4 121.2ZM454.5 153.3L458.4 151.8L462.7 153.1L458.9 154.6ZM458.9 154.6L462.7 153.1L467.1 154.4L463.3 155.9ZM495.9 140.3L502.9 137.6L507.2 138.8L500.2 141.5ZM500.2 141.5L507.2 138.8L511.6 140L504.6 142.7ZM523.9 141L527.3 139.6L531.7 140.8L528.3 142.2ZM536.2 142L539.6 140.6L544.1 141.8L540.7 143.2Z" fill="#1a72b1" stroke="#1a72b1" stroke-width="0.15"/>
<path d="M424.9 144.5L428.8 143.1L432.9 144.3L429 145.7ZM436.4 140.3L440.2 139L444.3 140.2L440.6 141.5ZM462.2 131.1L465.8 129.8L469.9 130.9L466.3 132.2ZM490 121.1L493.3 119.9L497.4 120.9L494 122.2ZM496.6 118.7L499.9 117.5L504 118.6L500.7 119.7ZM503.2 116.4L506.4 115.2L510.4 116.2L507.2 117.4ZM519.1 110.6L522.2 109.5L526.2 110.5L523.1 111.6ZM429 145.7L436.8 142.9L440.9 144.1L433.2 147ZM440.6 141.5L444.3 140.2L448.5 141.4L444.7 142.7ZM469.9 130.9L473.4 129.6L477.6 130.7L474 132ZM504 118.6L510.4 116.2L514.5 117.2L508 119.6ZM523.1 111.6L526.2 110.5L530.3 111.5L527.2 112.6ZM529.3 109.4L535.4 107.2L539.4 108.1L533.3 110.3ZM437.1 145.5L440.9 144.1L445.1 145.4L441.3 146.8ZM444.7 142.7L448.5 141.4L452.7 142.6L448.9 144ZM452.2 140L455.9 138.6L460.1 139.8L456.4 141.2ZM459.6 137.3L463.3 136L467.4 137.1L463.8 138.5ZM504.7 120.8L511.3 118.4L515.4 119.4L508.9 121.8ZM517.7 116.1L520.9 114.9L525 115.9L521.8 117.1ZM533.3 110.3L539.4 108.1L543.5 109.1L537.4 111.3ZM441.3 146.8L445.1 145.4L449.3 146.6L445.5 148ZM460.1 139.8L463.8 138.5L468 139.6L464.3 141ZM512.1 120.6L515.4 119.4L519.5 120.5L516.3 121.7ZM540.4 110.2L543.5 109.1L547.6 110.1L544.5 111.2ZM468 139.6L475.2 137L479.5 138.1L472.2 140.8ZM478.8 135.6L482.4 134.3L486.6 135.5L483 136.8ZM485.9 133L489.4 131.7L493.6 132.8L490.1 134.1ZM506.4 125.4L509.7 124.1L513.9 125.2L510.6 126.5ZM516.3 121.7L519.5 120.5L523.7 121.5L520.4 122.8ZM538.4 113.4L541.5 112.3L545.6 113.3L542.5 114.5ZM475.8 139.5L479.5 138.1L483.7 139.3L480.1 140.7ZM486.6 135.5L493.6 132.8L497.8 134L490.8 136.6ZM510.6 126.5L513.9 125.2L518.1 126.3L514.8 127.5ZM520.4 122.8L523.7 121.5L527.8 122.6L524.6 123.8ZM530.1 119.1L533.2 118L537.4 119L534.2 120.2ZM536.3 116.8L539.5 115.6L543.6 116.6L540.5 117.8ZM472.8 143.4L476.5 142L480.8 143.2L477.1 144.6ZM480.1 140.7L483.7 139.3L488 140.5L484.4 141.9ZM494.3 135.3L497.8 134L502.1 135.1L498.6 136.4ZM514.8 127.5L518.1 126.3L522.3 127.4L519 128.6ZM524.6 123.8L531 121.4L535.3 122.4L528.8 124.9ZM540.5 117.8L543.6 116.6L547.8 117.6L544.7 118.8ZM458.4 151.8L462.2 150.3L466.5 151.6L462.7 153.1ZM480.8 143.2L484.4 141.9L488.7 143.1L485.1 144.5ZM491.6 139.1L495.1 137.8L499.4 139L495.9 140.3ZM498.6 136.4L502.1 135.1L506.4 136.3L502.9 137.6ZM519 128.6L522.3 127.4L526.6 128.5L523.3 129.8ZM532.1 123.7L535.3 122.4L539.5 123.5L536.3 124.7ZM538.4 121.2L541.6 120L545.8 121.1L542.7 122.3ZM544.7 118.8L547.8 117.6L552 118.7L548.9 119.9ZM462.7 153.1L466.5 151.6L470.9 152.9L467.1 154.4ZM485.1 144.5L488.7 143.1L493.1 144.3L489.5 145.7ZM502.9 137.6L506.4 136.3L510.7 137.4L507.2 138.8ZM523.3 129.8L526.6 128.5L530.9 129.6L527.6 130.9ZM536.3 124.7L539.5 123.5L543.8 124.6L540.6 125.8ZM545.8 121.1L552 118.7L556.3 119.7L550.1 122.1ZM463.3 155.9L470.9 152.9L475.3 154.2L467.7 157.2ZM493.1 144.3L496.7 142.9L501 144.1L497.5 145.5ZM507.2 138.8L510.7 137.4L515 138.6L511.6 140ZM527.6 130.9L530.9 129.6L535.2 130.7L531.9 132ZM534.1 128.3L537.4 127.1L541.7 128.2L538.4 129.4ZM540.6 125.8L543.8 124.6L548.1 125.7L544.9 126.9ZM559.3 118.5L562.4 117.3L566.6 118.4L563.6 119.6ZM471.5 155.7L475.3 154.2L479.8 155.5L476 157ZM544.9 126.9L548.1 125.7L552.4 126.7L549.2 128ZM551.2 124.4L554.4 123.2L558.7 124.3L555.5 125.5ZM563.6 119.6L566.6 118.4L570.9 119.4L567.9 120.6ZM569.6 117.2L572.6 116L576.9 117L573.9 118.2ZM476 157L483.5 154L488 155.3L480.5 158.3ZM519.4 139.8L522.9 138.4L527.3 139.6L523.9 141ZM549.2 128L552.4 126.7L556.8 127.8L553.6 129.1ZM555.5 125.5L558.7 124.3L563 125.3L559.9 126.6ZM567.9 120.6L570.9 119.4L575.2 120.5L572.2 121.7ZM573.9 118.2L576.9 117L581.2 118.1L578.2 119.3ZM480.5 158.3L488 155.3L492.5 156.6L485 159.7ZM572.2 121.7L575.2 120.5L579.6 121.5L576.6 122.7ZM488.8 158.1L492.5 156.6L497.1 157.9L493.3 159.5ZM496.3 155.1L499.9 153.6L504.5 154.9L500.8 156.4ZM531.7 140.8L535.1 139.4L539.6 140.6L536.2 142ZM564.3 127.7L567.4 126.4L571.8 127.5L568.7 128.8ZM568.7 128.8L571.8 127.5L576.2 128.6L573.1 129.9Z" fill="#1a61ad" stroke="#1a61ad" stroke-width="0.15"/>
<path d="M451.4 135L455 133.7L459.1 134.8L455.5 136.1ZM525.3 108.4L531.4 106.2L535.4 107.2L529.3 109.4ZM455.5 136.1L459.1 134.8L463.3 136L459.6 137.3ZM466.3 132.2L469.9 130.9L474 132L470.5 133.3ZM494 122.2L497.4 120.9L501.4 122L498.1 123.2ZM530.3 111.5L533.3 110.3L537.4 111.3L534.3 112.5ZM463.8 138.5L467.4 137.1L471.6 138.3L468 139.6ZM534.3 112.5L540.4 110.2L544.5 111.2L538.4 113.4ZM464.3 141L468 139.6L472.2 140.8L468.6 142.2ZM544.5 111.2L547.6 110.1L551.7 111L548.6 112.2ZM468.6 142.2L472.2 140.8L476.5 142L472.8 143.4ZM533.2 118L536.3 116.8L540.5 117.8L537.4 119ZM537.4 119L540.5 117.8L544.7 118.8L541.6 120ZM477.1 144.6L480.8 143.2L485.1 144.5L481.4 145.9ZM541.6 120L544.7 118.8L548.9 119.9L545.8 121.1ZM474 148.7L477.8 147.3L482.1 148.5L478.4 150ZM478.4 150L482.1 148.5L486.5 149.8L482.8 151.2ZM550.1 122.1L553.2 120.9L557.5 122L554.4 123.2ZM475.3 154.2L479.1 152.7L483.5 154L479.8 155.5ZM482.8 151.2L486.5 149.8L491 151.1L487.3 152.5ZM497.5 145.5L504.6 142.7L509 143.9L501.9 146.7ZM538.4 129.4L541.7 128.2L546 129.3L542.8 130.5ZM554.4 123.2L557.5 122L561.8 123L558.7 124.3ZM487.3 152.5L491 151.1L495.4 152.3L491.7 153.8ZM501.9 146.7L509 143.9L513.4 145.1L506.3 148ZM491.7 153.8L495.4 152.3L499.9 153.6L496.3 155.1ZM506.3 148L513.4 145.1L517.9 146.4L510.8 149.2ZM510.8 149.2L514.4 147.8L518.9 149.1L515.3 150.5Z" fill="#1d53a4" stroke="#1d53a4" stroke-width="0.15"/>
<path d="M476.3 126L479.8 124.8L483.9 125.8L480.4 127.1ZM516 111.8L519.1 110.6L523.1 111.6L520 112.7ZM480.4 127.1L483.9 125.8L488 126.9L484.5 128.2ZM487.3 124.6L490.7 123.4L494.8 124.4L491.4 125.7ZM520 112.7L523.1 111.6L527.2 112.6L524 113.7ZM484.5 128.2L488 126.9L492.1 128L488.7 129.3ZM491.4 125.7L494.8 124.4L498.9 125.5L495.5 126.8ZM488.7 129.3L492.1 128L496.3 129.1L492.8 130.4ZM453.1 145.2L456.9 143.8L461.1 145L457.4 146.4ZM492.8 130.4L496.3 129.1L500.4 130.2L497 131.5ZM513 122.9L516.3 121.7L520.4 122.8L517.2 124ZM442 152.2L445.9 150.7L450.2 152L446.3 153.5ZM457.4 146.4L461.1 145L465.4 146.2L461.6 147.7ZM497 131.5L500.4 130.2L504.7 131.4L501.2 132.7ZM503.8 129L507.2 127.7L511.4 128.8L508.1 130.1ZM517.2 124L520.4 122.8L524.6 123.8L521.4 125.1ZM446.3 153.5L450.2 152L454.5 153.3L450.6 154.8ZM521.4 125.1L524.6 123.8L528.8 124.9L525.6 126.1ZM552.8 113.2L555.8 112L560 113L557 114.2ZM450.6 154.8L454.5 153.3L458.9 154.6L455 156.1ZM557 114.2L560 113L564.1 114L561.1 115.2ZM574.9 126.3L577.9 125L582.4 126.1L579.3 127.4Z" fill="#1f459c" stroke="#1f459c" stroke-width="0.15"/>
<path d="M440.2 139L444 137.6L448.1 138.8L444.3 140.2ZM444.3 140.2L448.1 138.8L452.2 140L448.5 141.4ZM495.5 126.8L498.9 125.5L503 126.6L499.7 127.9ZM499.7 127.9L503 126.6L507.2 127.7L503.8 129ZM556 133.9L559.2 132.6L563.7 133.8L560.5 135.1ZM562.4 131.3L565.6 130.1L570 131.2L566.9 132.5Z" fill="#1f3784" stroke="#1f3784" stroke-width="0.15"/>
<path d="M457 86L460.6 85L464.8 85.7L461.2 86.8ZM471.4 81.9L474.9 80.9L479.1 81.7L475.5 82.7ZM485.4 78L488.9 77L493 77.8L489.6 78.7ZM492.3 76L499.2 74.1L503.3 74.8L496.5 76.8ZM512.6 70.3L529.1 65.7L533.2 66.4L516.8 71ZM423.8 97.3L427.6 96.3L431.8 97.1L428 98.2ZM442.7 92L446.5 90.9L450.7 91.7L446.9 92.8ZM468.4 84.7L472 83.7L476.1 84.5L472.6 85.5ZM475.5 82.7L479.1 81.7L483.2 82.5L479.7 83.5ZM482.6 80.7L486.1 79.7L490.3 80.5L486.8 81.5ZM489.6 78.7L493 77.8L497.2 78.5L493.7 79.5ZM496.5 76.8L499.9 75.8L504.1 76.5L500.6 77.5ZM510.1 72.9L513.4 72L517.6 72.7L514.2 73.7ZM516.8 71L520.1 70.1L524.2 70.8L520.9 71.8ZM529.9 67.3L533.2 66.4L537.3 67.1L534.1 68ZM486.8 81.5L490.3 80.5L494.4 81.2L490.9 82.2ZM507.5 75.6L510.9 74.6L515 75.4L511.6 76.3ZM514.2 73.7L517.6 72.7L521.7 73.4L518.4 74.4ZM473.2 87.3L476.8 86.3L481 87.1L477.4 88.1ZM480.3 85.3L483.9 84.2L488.1 85L484.6 86ZM490.9 82.2L494.4 81.2L498.7 82L495.2 83ZM501.4 79.3L504.8 78.3L509 79L505.6 80ZM511.6 76.3L515 75.4L519.2 76.1L515.8 77.1ZM528.4 71.5L534.9 69.7L539.1 70.4L532.5 72.3ZM541.4 67.8L544.7 66.9L548.8 67.6L545.6 68.5ZM444.1 97.7L447.9 96.6L452.2 97.4L448.4 98.5ZM459.1 93.4L462.8 92.3L467.1 93.1L463.4 94.2ZM470.1 90.2L473.8 89.1L478 89.9L474.4 91ZM484.6 86L488.1 85L492.4 85.8L488.8 86.8ZM491.6 84L502.1 81L506.4 81.8L495.9 84.8ZM505.6 80L512.4 78L516.7 78.8L509.8 80.8ZM515.8 77.1L519.2 76.1L523.4 76.8L520 77.8ZM522.6 75.1L525.9 74.2L530.1 74.9L526.8 75.9ZM545.6 68.5L548.8 67.6L553 68.3L549.8 69.2ZM455.9 96.3L459.7 95.3L464 96.1L460.2 97.2ZM463.4 94.2L467.1 93.1L471.4 93.9L467.7 95ZM485.2 87.9L492.4 85.8L496.6 86.6L489.5 88.7ZM495.9 84.8L499.4 83.8L503.6 84.6L500.1 85.6ZM509.8 80.8L516.7 78.8L520.9 79.5L514 81.5ZM520 77.8L523.4 76.8L527.7 77.6L524.3 78.6ZM526.8 75.9L530.1 74.9L534.3 75.6L531 76.6ZM543.3 71.1L549.8 69.2L554 69.9L547.5 71.8ZM445.1 101.6L452.7 99.4L457 100.2L449.4 102.4ZM456.5 98.3L460.2 97.2L464.5 98L460.8 99.1ZM475 92.9L485.9 89.7L490.2 90.5L479.3 93.7ZM489.5 88.7L493.1 87.6L497.3 88.4L493.8 89.5ZM503.6 84.6L507.1 83.5L511.4 84.3L507.9 85.3ZM514 81.5L520.9 79.5L525.1 80.3L518.3 82.3ZM524.3 78.6L527.7 77.6L531.9 78.3L528.5 79.3ZM544.2 72.8L554 69.9L558.2 70.6L548.5 73.5ZM449.4 102.4L453.2 101.3L457.6 102.2L453.7 103.3ZM464.5 98L468.3 96.9L472.6 97.8L468.9 98.9ZM486.6 91.6L490.2 90.5L494.5 91.3L490.9 92.4ZM493.8 89.5L497.3 88.4L501.7 89.2L498.1 90.3ZM504.4 86.4L507.9 85.3L512.2 86.1L508.7 87.1ZM511.4 84.3L514.9 83.3L519.2 84.1L515.7 85.1ZM521.7 81.3L525.1 80.3L529.4 81.1L526 82.1ZM538.6 76.4L541.9 75.4L546.2 76.1L542.9 77.1ZM548.5 73.5L558.2 70.6L562.4 71.4L552.7 74.2ZM457.6 102.2L461.3 101.1L465.7 101.9L461.9 103ZM472.6 97.8L476.3 96.7L480.7 97.5L476.9 98.6ZM480 95.6L487.3 93.4L491.6 94.3L484.3 96.4ZM490.9 92.4L494.5 91.3L498.8 92.1L495.3 93.2ZM505.2 88.2L508.7 87.1L513 87.9L509.5 89ZM512.2 86.1L515.7 85.1L520 85.9L516.5 86.9ZM526 82.1L529.4 81.1L533.7 81.8L530.3 82.8ZM532.8 80.1L536.2 79.1L540.5 79.8L537.1 80.8ZM542.9 77.1L549.5 75.2L553.7 75.9L547.1 77.9ZM552.7 74.2L556 73.3L560.3 74L557 74.9ZM559.2 72.3L565.7 70.4L569.9 71.1L563.5 73ZM458.1 104.2L461.9 103L466.3 103.9L462.5 105.1ZM476.9 98.6L480.7 97.5L485 98.4L481.3 99.5ZM484.3 96.4L488 95.3L492.4 96.2L488.7 97.3ZM498.8 92.1L502.4 91.1L506.8 91.9L503.2 92.9ZM509.5 89L520 85.9L524.3 86.7L513.9 89.8ZM523.5 84.9L526.9 83.8L531.2 84.6L527.8 85.6ZM533.7 81.8L543.8 78.8L548.1 79.6L538 82.6ZM547.1 77.9L560.3 74L564.5 74.7L551.4 78.6ZM566.7 72.1L569.9 71.1L574.2 71.8L571 72.8ZM462.5 105.1L466.3 103.9L470.7 104.8L466.9 105.9ZM488.7 97.3L492.4 96.2L496.7 97L493.1 98.1ZM496 95.1L499.6 94L504 94.8L500.4 95.9ZM503.2 92.9L506.8 91.9L511.2 92.7L507.6 93.8ZM510.3 90.8L513.9 89.8L518.2 90.6L514.7 91.6ZM517.4 88.7L520.9 87.7L525.2 88.5L521.7 89.5ZM538 82.6L548.1 79.6L552.5 80.4L542.4 83.4ZM554.7 77.6L558 76.7L562.4 77.4L559.1 78.4ZM567.8 73.8L571 72.8L575.3 73.5L572.1 74.5ZM466.9 105.9L470.7 104.8L475.1 105.7L471.3 106.8ZM474.5 103.7L478.3 102.5L482.7 103.4L478.9 104.5ZM493.1 98.1L496.7 97L501.2 97.9L497.5 98.9ZM500.4 95.9L504 94.8L508.4 95.7L504.8 96.8ZM507.6 93.8L511.2 92.7L515.6 93.5L512 94.6ZM525.2 88.5L528.7 87.5L533.1 88.3L529.6 89.3ZM532.2 86.4L535.6 85.4L540 86.2L536.5 87.2ZM545.8 82.4L552.5 80.4L556.8 81.1L550.1 83.1ZM559.1 78.4L568.9 75.5L573.2 76.2L563.4 79.1ZM572.1 74.5L575.3 73.5L579.6 74.3L576.4 75.2ZM471.3 106.8L475.1 105.7L479.6 106.6L475.8 107.7ZM478.9 104.5L482.7 103.4L487.1 104.3L483.4 105.4ZM493.8 100.1L497.5 98.9L501.9 99.8L498.3 100.9ZM504.8 96.8L508.4 95.7L512.8 96.5L509.2 97.6ZM512 94.6L522.6 91.4L527 92.2L516.4 95.4ZM526.1 90.3L540 86.2L544.3 87L530.5 91.2ZM546.8 84.1L550.1 83.1L554.5 83.9L551.1 84.9ZM553.5 82.1L556.8 81.1L561.2 81.9L557.9 82.9ZM563.4 79.1L566.7 78.1L571.1 78.9L567.8 79.9ZM570 77.2L579.6 74.3L584 75L574.3 77.9ZM475.8 107.7L479.6 106.6L484.1 107.4L480.3 108.6ZM483.4 105.4L487.1 104.3L491.6 105.2L487.9 106.3ZM490.9 103.1L494.6 102L499.1 102.9L495.3 104ZM505.6 98.7L509.2 97.6L513.7 98.4L510.1 99.5ZM516.4 95.4L520 94.3L524.4 95.2L520.9 96.3ZM523.5 93.3L527 92.2L531.5 93L528 94.1ZM534 90.1L537.5 89.1L541.9 89.9L538.4 90.9ZM544.3 87L547.8 85.9L552.2 86.7L548.8 87.8ZM551.1 84.9L554.5 83.9L558.9 84.7L555.5 85.7ZM557.9 82.9L564.5 80.9L568.9 81.6L562.3 83.7ZM577.5 76.9L580.8 76L585.1 76.7L581.9 77.7ZM480.3 108.6L484.1 107.4L488.6 108.3L484.8 109.5ZM491.6 105.2L499.1 102.9L503.5 103.8L496.1 106ZM502.7 101.8L513.7 98.4L518.2 99.3L507.2 102.6ZM517.3 97.3L528 94.1L532.4 94.9L521.7 98.2ZM538.4 90.9L545.3 88.8L549.8 89.6L542.9 91.7ZM548.8 87.8L552.2 86.7L556.6 87.5L553.2 88.6ZM555.5 85.7L562.3 83.7L566.7 84.4L560 86.5ZM565.6 82.7L568.9 81.6L573.3 82.4L570 83.4ZM572.2 80.6L585.1 76.7L589.5 77.4L576.6 81.4Z" fill="#a6d898" stroke="#a6d898" stroke-width="0.15"/>
<path d="M434.8 92.2L442.3 90.1L446.5 90.9L439 93ZM464.2 83.9L467.8 82.9L472 83.7L468.4 84.7ZM478.4 79.9L481.9 79L486.1 79.7L482.6 80.7ZM506 72.2L509.3 71.3L513.4 72L510.1 72.9ZM523.4 69.2L526.7 68.2L530.8 68.9L527.5 69.9ZM428 98.2L431.8 97.1L436.1 97.9L432.2 99ZM479.7 83.5L483.2 82.5L487.4 83.2L483.9 84.2ZM493.7 79.5L497.2 78.5L501.4 79.3L497.9 80.2ZM500.6 77.5L504.1 76.5L508.2 77.3L504.8 78.3ZM510.9 74.6L514.2 73.7L518.4 74.4L515 75.4ZM432.2 99L436.1 97.9L440.3 98.8L436.5 99.9ZM483.9 84.2L487.4 83.2L491.6 84L488.1 85ZM497.9 80.2L501.4 79.3L505.6 80L502.1 81ZM504.8 78.3L508.2 77.3L512.4 78L509 79ZM477.4 88.1L481 87.1L485.2 87.9L481.6 88.9ZM512.4 78L515.8 77.1L520 77.8L516.7 78.8ZM532.5 72.3L535.8 71.3L540 72L536.7 73ZM474.4 91L478 89.9L482.3 90.8L478.7 91.8ZM502.9 82.8L506.4 81.8L510.6 82.5L507.1 83.5ZM516.7 78.8L520 77.8L524.3 78.6L520.9 79.5ZM540 72L543.3 71.1L547.5 71.8L544.2 72.8ZM460.2 97.2L464 96.1L468.3 96.9L464.5 98ZM500.1 85.6L503.6 84.6L507.9 85.3L504.4 86.4ZM531 76.6L537.7 74.7L541.9 75.4L535.3 77.3ZM453.2 101.3L457 100.2L461.3 101.1L457.6 102.2ZM479.3 93.7L483 92.6L487.3 93.4L483.6 94.5ZM514.9 83.3L518.3 82.3L522.6 83.1L519.2 84.1ZM528.5 79.3L531.9 78.3L536.2 79.1L532.8 80.1ZM453.7 103.3L457.6 102.2L461.9 103L458.1 104.2ZM508.7 87.1L512.2 86.1L516.5 86.9L513 87.9ZM519.2 84.1L522.6 83.1L526.9 83.8L523.5 84.9ZM563.5 73L566.7 72.1L571 72.8L567.8 73.8ZM470.1 102.8L473.9 101.7L478.3 102.5L474.5 103.7ZM513.9 89.8L517.4 88.7L521.7 89.5L518.2 90.6ZM527.8 85.6L531.2 84.6L535.6 85.4L532.2 86.4ZM551.4 78.6L554.7 77.6L559.1 78.4L555.8 79.4ZM489.4 99.2L493.1 98.1L497.5 98.9L493.8 100.1ZM514.7 91.6L518.2 90.6L522.6 91.4L519.1 92.5ZM542.4 83.4L545.8 82.4L550.1 83.1L546.8 84.1ZM568.9 75.5L572.1 74.5L576.4 75.2L573.2 76.2ZM550.1 83.1L553.5 82.1L557.9 82.9L554.5 83.9ZM487.1 104.3L490.9 103.1L495.3 104L491.6 105.2ZM498.3 100.9L501.9 99.8L506.4 100.7L502.7 101.8ZM520 94.3L523.5 93.3L528 94.1L524.4 95.2ZM540.9 88L544.3 87L548.8 87.8L545.3 88.8ZM567.8 79.9L571.1 78.9L575.4 79.7L572.2 80.6ZM574.3 77.9L577.5 76.9L581.9 77.7L578.7 78.7ZM580.8 76L584 75L588.3 75.7L585.1 76.7ZM487.9 106.3L491.6 105.2L496.1 106L492.4 107.2ZM528 94.1L531.5 93L535.9 93.9L532.4 94.9ZM545.3 88.8L548.8 87.8L553.2 88.6L549.8 89.6ZM562.3 83.7L565.6 82.7L570 83.4L566.7 84.4ZM585.1 76.7L591.5 74.8L595.9 75.5L589.5 77.4Z" fill="#70cc9c" stroke="#70cc9c" stroke-width="0.15"/>
<path d="M419.6 96.5L423.4 95.4L427.6 96.3L423.8 97.3ZM527.5 69.9L530.8 68.9L534.9 69.7L531.7 70.6ZM518.4 74.4L521.7 73.4L525.9 74.2L522.6 75.1ZM535.8 71.3L539.1 70.4L543.3 71.1L540 72ZM499.4 83.8L502.9 82.8L507.1 83.5L503.6 84.6ZM471.4 93.9L475 92.9L479.3 93.7L475.7 94.8ZM507.1 83.5L510.6 82.5L514.9 83.3L511.4 84.3ZM475.7 94.8L479.3 93.7L483.6 94.5L480 95.6ZM561.3 75.7L564.5 74.7L568.9 75.5L565.6 76.4ZM521.7 89.5L525.2 88.5L529.6 89.3L526.1 90.3ZM540 86.2L543.4 85.2L547.8 85.9L544.3 87ZM537.5 89.1L540.9 88L545.3 88.8L541.9 89.9ZM554.5 83.9L557.9 82.9L562.3 83.7L558.9 84.7Z" fill="#3fc09c" stroke="#3fc09c" stroke-width="0.15"/>
<path d="M507.9 85.3L511.4 84.3L515.7 85.1L512.2 86.1ZM520.9 87.7L524.3 86.7L528.7 87.5L525.2 88.5ZM558 76.7L561.3 75.7L565.6 76.4L562.4 77.4Z" fill="#23b1a2" stroke="#23b1a2" stroke-width="0.15"/>
<path d="M446 89.1L449.7 88L453.9 88.8L450.2 89.9ZM460.6 85L464.2 83.9L468.4 84.7L464.8 85.7ZM467.8 82.9L471.4 81.9L475.5 82.7L472 83.7ZM474.9 80.9L478.4 79.9L482.6 80.7L479.1 81.7ZM481.9 79L485.4 78L489.6 78.7L486.1 79.7ZM502.6 73.2L506 72.2L510.1 72.9L506.7 73.9ZM529.1 65.7L532.3 64.8L536.4 65.5L533.2 66.4ZM450.2 89.9L453.9 88.8L458 89.6L454.4 90.7ZM464.8 85.7L468.4 84.7L472.6 85.5L469 86.5ZM472 83.7L475.5 82.7L479.7 83.5L476.1 84.5ZM479.1 81.7L482.6 80.7L486.8 81.5L483.2 82.5ZM493 77.8L496.5 76.8L500.6 77.5L497.2 78.5ZM506.7 73.9L510.1 72.9L514.2 73.7L510.9 74.6ZM520.1 70.1L523.4 69.2L527.5 69.9L524.2 70.8ZM469 86.5L472.6 85.5L476.8 86.3L473.2 87.3ZM476.1 84.5L479.7 83.5L483.9 84.2L480.3 85.3ZM483.2 82.5L486.8 81.5L490.9 82.2L487.4 83.2ZM490.3 80.5L493.7 79.5L497.9 80.2L494.4 81.2ZM504.1 76.5L507.5 75.6L511.6 76.3L508.2 77.3ZM537.3 67.1L540.5 66.2L544.7 66.9L541.4 67.8ZM487.4 83.2L490.9 82.2L495.2 83L491.6 84ZM447.9 96.6L451.7 95.5L455.9 96.3L452.2 97.4ZM462.8 92.3L466.5 91.2L470.8 92.1L467.1 93.1ZM502.1 81L505.6 80L509.8 80.8L506.4 81.8ZM448.4 98.5L455.9 96.3L460.2 97.2L452.7 99.4ZM467.1 93.1L470.8 92.1L475 92.9L471.4 93.9ZM481.6 88.9L485.2 87.9L489.5 88.7L485.9 89.7ZM506.4 81.8L509.8 80.8L514 81.5L510.6 82.5ZM452.7 99.4L456.5 98.3L460.8 99.1L457 100.2ZM510.6 82.5L514 81.5L518.3 82.3L514.9 83.3ZM554 69.9L557.2 69L561.4 69.7L558.2 70.6ZM457 100.2L464.5 98L468.9 98.9L461.3 101.1ZM558.2 70.6L561.4 69.7L565.7 70.4L562.4 71.4ZM461.3 101.1L465.1 100L469.5 100.8L465.7 101.9ZM494.5 91.3L501.7 89.2L506 90L498.8 92.1ZM465.7 101.9L469.5 100.8L473.9 101.7L470.1 102.8ZM473.2 99.7L476.9 98.6L481.3 99.5L477.6 100.6ZM495.3 93.2L498.8 92.1L503.2 92.9L499.6 94ZM502.4 91.1L506 90L510.3 90.8L506.8 91.9ZM530.3 82.8L533.7 81.8L538 82.6L534.6 83.6ZM543.8 78.8L547.1 77.9L551.4 78.6L548.1 79.6ZM477.6 100.6L481.3 99.5L485.7 100.3L482 101.4ZM506.8 91.9L510.3 90.8L514.7 91.6L511.2 92.7ZM534.6 83.6L538 82.6L542.4 83.4L539 84.4ZM548.1 79.6L551.4 78.6L555.8 79.4L552.5 80.4ZM482 101.4L485.7 100.3L490.1 101.2L486.4 102.3ZM504 94.8L507.6 93.8L512 94.6L508.4 95.7ZM511.2 92.7L514.7 91.6L519.1 92.5L515.6 93.5ZM539 84.4L542.4 83.4L546.8 84.1L543.4 85.2ZM486.4 102.3L490.1 101.2L494.6 102L490.9 103.1ZM497.5 98.9L501.2 97.9L505.6 98.7L501.9 99.8ZM543.4 85.2L546.8 84.1L551.1 84.9L547.8 85.9ZM556.8 81.1L560.1 80.1L564.5 80.9L561.2 81.9ZM501.9 99.8L505.6 98.7L510.1 99.5L506.4 100.7ZM547.8 85.9L551.1 84.9L555.5 85.7L552.2 86.7ZM552.2 86.7L555.5 85.7L560 86.5L556.6 87.5Z" fill="#1a72b1" stroke="#1a72b1" stroke-width="0.15"/>
<path d="M427.3 94.3L434.8 92.2L439 93L431.4 95.2ZM442.3 90.1L446 89.1L450.2 89.9L446.5 90.9ZM488.9 77L492.3 76L496.5 76.8L493 77.8ZM499.2 74.1L502.6 73.2L506.7 73.9L503.3 74.8ZM509.3 71.3L512.6 70.3L516.8 71L513.4 72ZM435.2 94.1L442.7 92L446.9 92.8L439.4 94.9ZM446.5 90.9L450.2 89.9L454.4 90.7L450.7 91.7ZM461.2 86.8L464.8 85.7L469 86.5L465.3 87.6ZM486.1 79.7L489.6 78.7L493.7 79.5L490.3 80.5ZM499.9 75.8L506.7 73.9L510.9 74.6L504.1 76.5ZM513.4 72L516.8 71L520.9 71.8L517.6 72.7ZM533.2 66.4L536.4 65.5L540.5 66.2L537.3 67.1ZM439.4 94.9L443.2 93.9L447.4 94.7L443.7 95.8ZM454.4 90.7L458 89.6L462.3 90.4L458.6 91.5ZM465.3 87.6L469 86.5L473.2 87.3L469.6 88.4ZM497.2 78.5L500.6 77.5L504.8 78.3L501.4 79.3ZM517.6 72.7L520.9 71.8L525.1 72.5L521.7 73.4ZM524.2 70.8L527.5 69.9L531.7 70.6L528.4 71.5ZM443.7 95.8L447.4 94.7L451.7 95.5L447.9 96.6ZM454.9 92.5L462.3 90.4L466.5 91.2L459.1 93.4ZM469.6 88.4L473.2 87.3L477.4 88.1L473.8 89.1ZM476.8 86.3L480.3 85.3L484.6 86L481 87.1ZM494.4 81.2L497.9 80.2L502.1 81L498.7 82ZM508.2 77.3L511.6 76.3L515.8 77.1L512.4 78ZM515 75.4L518.4 74.4L522.6 75.1L519.2 76.1ZM521.7 73.4L525.1 72.5L529.2 73.2L525.9 74.2ZM436.5 99.9L440.3 98.8L444.6 99.6L440.8 100.7ZM451.7 95.5L455.4 94.4L459.7 95.3L455.9 96.3ZM473.8 89.1L477.4 88.1L481.6 88.9L478 89.9ZM519.2 76.1L522.6 75.1L526.8 75.9L523.4 76.8ZM525.9 74.2L529.2 73.2L533.4 73.9L530.1 74.9ZM542.4 69.4L545.6 68.5L549.8 69.2L546.5 70.1ZM440.8 100.7L444.6 99.6L448.9 100.5L445.1 101.6ZM478 89.9L481.6 88.9L485.9 89.7L482.3 90.8ZM492.4 85.8L495.9 84.8L500.1 85.6L496.6 86.6ZM523.4 76.8L526.8 75.9L531 76.6L527.7 77.6ZM530.1 74.9L533.4 73.9L537.7 74.7L534.3 75.6ZM549.8 69.2L553 68.3L557.2 69L554 69.9ZM467.7 95L471.4 93.9L475.7 94.8L472 95.8ZM485.9 89.7L489.5 88.7L493.8 89.5L490.2 90.5ZM493.1 87.6L496.6 86.6L500.9 87.4L497.3 88.4ZM527.7 77.6L531 76.6L535.3 77.3L531.9 78.3ZM472 95.8L475.7 94.8L480 95.6L476.3 96.7ZM490.2 90.5L493.8 89.5L498.1 90.3L494.5 91.3ZM497.3 88.4L504.4 86.4L508.7 87.1L501.7 89.2ZM518.3 82.3L521.7 81.3L526 82.1L522.6 83.1ZM531.9 78.3L538.6 76.4L542.9 77.1L536.2 79.1ZM465.1 100L472.6 97.8L476.9 98.6L469.5 100.8ZM522.6 83.1L526 82.1L530.3 82.8L526.9 83.8ZM536.2 79.1L542.9 77.1L547.1 77.9L540.5 79.8ZM556 73.3L559.2 72.3L563.5 73L560.3 74ZM461.9 103L465.7 101.9L470.1 102.8L466.3 103.9ZM469.5 100.8L473.2 99.7L477.6 100.6L473.9 101.7ZM480.7 97.5L484.3 96.4L488.7 97.3L485 98.4ZM506 90L509.5 89L513.9 89.8L510.3 90.8ZM526.9 83.8L530.3 82.8L534.6 83.6L531.2 84.6ZM466.3 103.9L470.1 102.8L474.5 103.7L470.7 104.8ZM473.9 101.7L477.6 100.6L482 101.4L478.3 102.5ZM499.6 94L503.2 92.9L507.6 93.8L504 94.8ZM531.2 84.6L534.6 83.6L539 84.4L535.6 85.4ZM564.5 74.7L567.8 73.8L572.1 74.5L568.9 75.5ZM470.7 104.8L474.5 103.7L478.9 104.5L475.1 105.7ZM478.3 102.5L482 101.4L486.4 102.3L482.7 103.4ZM518.2 90.6L521.7 89.5L526.1 90.3L522.6 91.4ZM535.6 85.4L539 84.4L543.4 85.2L540 86.2ZM552.5 80.4L559.1 78.4L563.4 79.1L556.8 81.1ZM475.1 105.7L478.9 104.5L483.4 105.4L479.6 106.6ZM482.7 103.4L486.4 102.3L490.9 103.1L487.1 104.3ZM508.4 95.7L512 94.6L516.4 95.4L512.8 96.5ZM522.6 91.4L526.1 90.3L530.5 91.2L527 92.2ZM560.1 80.1L563.4 79.1L567.8 79.9L564.5 80.9ZM479.6 106.6L483.4 105.4L487.9 106.3L484.1 107.4ZM509.2 97.6L516.4 95.4L520.9 96.3L513.7 98.4ZM527 92.2L534 90.1L538.4 90.9L531.5 93ZM484.1 107.4L487.9 106.3L492.4 107.2L488.6 108.3ZM531.5 93L538.4 90.9L542.9 91.7L535.9 93.9ZM568.9 81.6L572.2 80.6L576.6 81.4L573.3 82.4Z" fill="#1a61ad" stroke="#1a61ad" stroke-width="0.15"/>
<path d="M431.4 95.2L435.2 94.1L439.4 94.9L435.6 96ZM435.6 96L439.4 94.9L443.7 95.8L439.9 96.8ZM443.2 93.9L446.9 92.8L451.2 93.6L447.4 94.7ZM450.7 91.7L454.4 90.7L458.6 91.5L454.9 92.5ZM472.6 85.5L476.1 84.5L480.3 85.3L476.8 86.3ZM534.1 68L537.3 67.1L541.4 67.8L538.2 68.7ZM439.9 96.8L443.7 95.8L447.9 96.6L444.1 97.7ZM447.4 94.7L451.2 93.6L455.4 94.4L451.7 95.5ZM538.2 68.7L541.4 67.8L545.6 68.5L542.4 69.4ZM481 87.1L484.6 86L488.8 86.8L485.2 87.9ZM488.1 85L491.6 84L495.9 84.8L492.4 85.8ZM496.6 86.6L500.1 85.6L504.4 86.4L500.9 87.4ZM520.9 79.5L524.3 78.6L528.5 79.3L525.1 80.3ZM525.1 80.3L528.5 79.3L532.8 80.1L529.4 81.1ZM476.3 96.7L480 95.6L484.3 96.4L480.7 97.5ZM501.7 89.2L505.2 88.2L509.5 89L506 90ZM529.4 81.1L532.8 80.1L537.1 80.8L533.7 81.8ZM560.3 74L563.5 73L567.8 73.8L564.5 74.7ZM485 98.4L488.7 97.3L493.1 98.1L489.4 99.2ZM564.5 80.9L567.8 79.9L572.2 80.6L568.9 81.6ZM513.7 98.4L517.3 97.3L521.7 98.2L518.2 99.3Z" fill="#1d53a4" stroke="#1d53a4" stroke-width="0.15"/>
<path d="M457.5 87.8L461.2 86.8L465.3 87.6L461.7 88.6ZM465.9 89.4L469.6 88.4L473.8 89.1L470.1 90.2ZM549.5 75.2L552.7 74.2L557 74.9L553.7 75.9ZM488 95.3L491.6 94.3L496 95.1L492.4 96.2ZM571 72.8L574.2 71.8L578.5 72.6L575.3 73.5ZM575.3 73.5L578.5 72.6L582.8 73.3L579.6 74.3ZM579.6 74.3L582.8 73.3L587.2 74L584 75ZM584 75L587.2 74L591.5 74.8L588.3 75.7Z" fill="#1f459c" stroke="#1f459c" stroke-width="0.15"/>
<path d="M423.4 95.4L427.3 94.3L431.4 95.2L427.6 96.3ZM449.7 88L457 86L461.2 86.8L453.9 88.8ZM427.6 96.3L431.4 95.2L435.6 96L431.8 97.1ZM453.9 88.8L457.5 87.8L461.7 88.6L458 89.6ZM526.7 68.2L529.9 67.3L534.1 68L530.8 68.9ZM431.8 97.1L435.6 96L439.9 96.8L436.1 97.9ZM446.9 92.8L450.7 91.7L454.9 92.5L451.2 93.6ZM458 89.6L465.3 87.6L469.6 88.4L462.3 90.4ZM520.9 71.8L524.2 70.8L528.4 71.5L525.1 72.5ZM530.8 68.9L534.1 68L538.2 68.7L534.9 69.7ZM436.1 97.9L439.9 96.8L444.1 97.7L440.3 98.8ZM451.2 93.6L454.9 92.5L459.1 93.4L455.4 94.4ZM462.3 90.4L465.9 89.4L470.1 90.2L466.5 91.2ZM525.1 72.5L528.4 71.5L532.5 72.3L529.2 73.2ZM534.9 69.7L538.2 68.7L542.4 69.4L539.1 70.4ZM440.3 98.8L444.1 97.7L448.4 98.5L444.6 99.6ZM455.4 94.4L459.1 93.4L463.4 94.2L459.7 95.3ZM466.5 91.2L470.1 90.2L474.4 91L470.8 92.1ZM529.2 73.2L532.5 72.3L536.7 73L533.4 73.9ZM539.1 70.4L542.4 69.4L546.5 70.1L543.3 71.1ZM444.6 99.6L448.4 98.5L452.7 99.4L448.9 100.5ZM459.7 95.3L463.4 94.2L467.7 95L464 96.1ZM470.8 92.1L474.4 91L478.7 91.8L475 92.9ZM533.4 73.9L540 72L544.2 72.8L537.7 74.7ZM464 96.1L467.7 95L472 95.8L468.3 96.9ZM537.7 74.7L544.2 72.8L548.5 73.5L541.9 75.4ZM468.3 96.9L472 95.8L476.3 96.7L472.6 97.8ZM483 92.6L486.6 91.6L490.9 92.4L487.3 93.4ZM541.9 75.4L548.5 73.5L552.7 74.2L546.2 76.1ZM487.3 93.4L490.9 92.4L495.3 93.2L491.6 94.3ZM515.7 85.1L519.2 84.1L523.5 84.9L520 85.9ZM491.6 94.3L495.3 93.2L499.6 94L496 95.1ZM520 85.9L523.5 84.9L527.8 85.6L524.3 86.7ZM481.3 99.5L485 98.4L489.4 99.2L485.7 100.3ZM492.4 96.2L496 95.1L500.4 95.9L496.7 97ZM524.3 86.7L527.8 85.6L532.2 86.4L528.7 87.5ZM485.7 100.3L489.4 99.2L493.8 100.1L490.1 101.2ZM496.7 97L500.4 95.9L504.8 96.8L501.2 97.9ZM528.7 87.5L532.2 86.4L536.5 87.2L533.1 88.3ZM490.1 101.2L493.8 100.1L498.3 100.9L494.6 102ZM501.2 97.9L504.8 96.8L509.2 97.6L505.6 98.7ZM566.7 78.1L570 77.2L574.3 77.9L571.1 78.9ZM494.6 102L498.3 100.9L502.7 101.8L499.1 102.9ZM571.1 78.9L574.3 77.9L578.7 78.7L575.4 79.7ZM499.1 102.9L502.7 101.8L507.2 102.6L503.5 103.8Z" fill="#1f3784" stroke="#1f3784" stroke-width="0.15"/>
<path d="M429.3 41.7L433.3 40.8L437.6 41.6L433.7 42.5ZM441.1 39L445 38.1L449.3 38.9L445.4 39.8ZM452.6 36.4L456.4 35.5L460.7 36.3L456.9 37.1ZM460.1 34.6L471.2 32.1L475.4 32.8L464.4 35.4ZM478.4 30.4L482 29.6L486.2 30.3L482.7 31.2ZM492.6 27.1L502.9 24.8L507.1 25.5L496.8 27.9ZM513 22.4L529.4 18.6L533.6 19.3L517.2 23.1ZM433.7 42.5L437.6 41.6L442 42.4L438 43.4ZM441.5 40.7L449.3 38.9L453.6 39.7L445.9 41.5ZM453.1 38L456.9 37.1L461.2 37.9L457.4 38.8ZM482.7 31.2L486.2 30.3L490.5 31.1L486.9 31.9ZM489.8 29.5L493.3 28.7L497.5 29.4L494 30.2ZM496.8 27.9L507.1 25.5L511.3 26.2L501 28.6ZM523.8 21.6L527.1 20.8L531.3 21.5L528 22.3ZM530.3 20.1L533.6 19.3L537.7 20L534.5 20.8ZM449.8 40.6L453.6 39.7L458 40.5L454.1 41.4ZM486.9 31.9L490.5 31.1L494.8 31.8L491.2 32.7ZM494 30.2L497.5 29.4L501.8 30.2L498.3 31ZM507.9 27L511.3 26.2L515.6 26.9L512.2 27.7ZM514.7 25.4L518.1 24.6L522.3 25.3L519 26.1ZM521.4 23.8L524.7 23L529 23.8L525.6 24.5ZM528 22.3L531.3 21.5L535.5 22.2L532.2 23ZM534.5 20.8L537.7 20L541.9 20.7L538.7 21.4ZM438.5 45.1L442.4 44.2L446.8 45L442.9 46ZM491.2 32.7L494.8 31.8L499.1 32.6L495.6 33.4ZM498.3 31L501.8 30.2L506.1 30.9L502.6 31.7ZM512.2 27.7L515.6 26.9L519.9 27.6L516.5 28.4ZM519 26.1L522.3 25.3L526.6 26L523.2 26.8ZM525.6 24.5L529 23.8L533.2 24.5L529.9 25.2ZM532.2 23L535.5 22.2L539.7 22.9L536.5 23.7ZM438.9 46.9L442.9 46L447.3 46.8L443.3 47.8ZM469.9 39.5L473.7 38.6L478.1 39.4L474.3 40.3ZM499.1 32.6L506.1 30.9L510.5 31.7L503.5 33.3ZM516.5 28.4L519.9 27.6L524.2 28.4L520.8 29.2ZM523.2 26.8L529.9 25.2L534.2 26L527.5 27.6ZM536.5 23.7L539.7 22.9L544 23.6L540.7 24.4ZM543 22.1L546.2 21.4L550.4 22.1L547.2 22.8ZM455.2 44.9L459.1 44L463.5 44.8L459.6 45.8ZM466.8 42.1L470.6 41.2L475 42.1L471.2 43ZM474.3 40.3L478.1 39.4L482.5 40.2L478.7 41.1ZM492.7 35.9L496.3 35L500.7 35.8L497.1 36.7ZM507 32.5L513.9 30.8L518.3 31.6L511.3 33.3ZM517.4 30L520.8 29.2L525.1 29.9L521.7 30.7ZM527.5 27.6L537.5 25.2L541.8 25.9L531.9 28.3ZM540.7 24.4L544 23.6L548.3 24.3L545 25.1ZM547.2 22.8L550.4 22.1L554.7 22.8L551.5 23.5ZM443.8 49.6L447.8 48.6L452.3 49.5L448.3 50.5ZM455.7 46.7L463.5 44.8L468 45.7L460.2 47.6ZM471.2 43L478.7 41.1L483.2 42L475.6 43.8ZM486.2 39.3L489.9 38.5L494.3 39.2L490.6 40.1ZM514.8 32.4L518.3 31.6L522.6 32.3L519.2 33.2ZM521.7 30.7L525.1 29.9L529.5 30.7L526.1 31.5ZM528.5 29.1L538.5 26.7L542.8 27.4L532.8 29.8ZM545 25.1L557.8 22L562.1 22.7L549.3 25.8ZM456.3 48.5L460.2 47.6L464.7 48.4L460.8 49.4ZM475.6 43.8L483.2 42L487.7 42.8L480.1 44.6ZM490.6 40.1L494.3 39.2L498.7 40L495.1 40.9ZM505.1 36.6L508.7 35.7L513.1 36.5L509.5 37.4ZM515.7 34L519.2 33.2L523.6 33.9L520.1 34.8ZM526.1 31.5L529.5 30.7L533.8 31.4L530.5 32.2ZM536.2 29L539.5 28.2L543.9 28.9L540.6 29.8ZM542.8 27.4L546.1 26.6L550.4 27.3L547.2 28.1ZM549.3 25.8L562.1 22.7L566.4 23.4L553.7 26.5ZM452.8 51.3L456.8 50.4L461.4 51.2L457.4 52.2ZM464.7 48.4L468.6 47.5L473.1 48.3L469.3 49.3ZM483.9 43.7L487.7 42.8L492.2 43.6L488.4 44.5ZM491.4 41.9L498.7 40L503.2 40.9L495.9 42.7ZM509.5 37.4L516.6 35.6L521.1 36.4L514 38.2ZM527 33.1L530.5 32.2L534.9 33L531.5 33.8ZM540.6 29.8L543.9 28.9L548.3 29.7L544.9 30.5ZM547.2 28.1L550.4 27.3L554.8 28.1L551.5 28.9ZM563.3 24.2L566.4 23.4L570.8 24.1L567.6 24.9ZM480.8 46.4L488.4 44.5L492.9 45.4L485.4 47.2ZM495.9 42.7L499.6 41.8L504.1 42.6L500.4 43.5ZM514 38.2L517.5 37.3L522 38.1L518.5 39ZM521.1 36.4L524.6 35.6L529 36.3L525.5 37.2ZM531.5 33.8L538.2 32.2L542.7 32.9L535.9 34.6ZM544.9 30.5L548.3 29.7L552.7 30.4L549.4 31.2ZM551.5 28.9L554.8 28.1L559.2 28.8L555.9 29.6ZM567.6 24.9L570.8 24.1L575.1 24.8L572 25.6ZM473.8 50.1L477.7 49.2L482.3 50L478.4 51ZM485.4 47.2L492.9 45.4L497.5 46.2L490 48.1ZM500.4 43.5L507.7 41.7L512.2 42.5L504.9 44.3ZM518.5 39L529 36.3L533.5 37.1L523 39.8ZM535.9 34.6L539.3 33.8L543.8 34.5L540.4 35.4ZM549.4 31.2L552.7 30.4L557.1 31.2L553.8 32ZM572 25.6L575.1 24.8L579.5 25.5L576.3 26.3ZM470.5 53L474.5 52L479.1 52.9L475.2 53.9ZM490 48.1L497.5 46.2L502.1 47L494.5 49ZM504.9 44.3L508.6 43.4L513.1 44.2L509.5 45.2ZM512.2 42.5L519.4 40.7L524 41.5L516.8 43.3ZM526.5 38.9L536.9 36.2L541.4 37L531 39.7ZM550.5 32.8L553.8 32L558.2 32.8L554.9 33.6ZM573.2 27.1L576.3 26.3L580.8 27L577.6 27.8ZM475.2 53.9L483 51.9L487.7 52.8L479.8 54.8ZM490.7 49.9L502.1 47L506.7 47.9L495.4 50.8ZM513.1 44.2L524 41.5L528.5 42.3L517.7 45.1ZM534.5 38.8L541.4 37L546 37.8L539.1 39.6ZM564.8 31.1L568 30.3L572.5 31L569.3 31.8ZM577.6 27.8L580.8 27L585.2 27.8L582 28.6ZM479.8 54.8L483.8 53.8L488.5 54.7L484.5 55.7ZM491.5 51.8L506.7 47.9L511.3 48.7L496.2 52.6ZM510.4 46.9L514.1 46L518.7 46.8L515 47.8ZM517.7 45.1L521.4 44.1L526 44.9L522.3 45.9ZM528.5 42.3L532.1 41.4L536.6 42.2L533.1 43.1ZM539.1 39.6L546 37.8L550.5 38.6L543.6 40.4ZM549.4 36.9L556.1 35.2L560.6 36L553.9 37.7ZM559.4 34.4L562.7 33.5L567.2 34.3L563.9 35.1ZM566 32.7L569.3 31.8L573.8 32.6L570.5 33.4ZM572.5 31L575.7 30.2L580.2 30.9L577 31.8ZM484.5 55.7L488.5 54.7L493.2 55.5L489.2 56.6ZM496.2 52.6L503.8 50.7L508.5 51.5L500.9 53.5ZM507.6 49.7L511.3 48.7L516 49.6L512.3 50.6ZM522.3 45.9L526 44.9L530.6 45.8L527 46.7ZM543.6 40.4L553.9 37.7L558.5 38.5L548.2 41.2ZM557.3 36.8L563.9 35.1L568.5 35.9L561.8 37.6ZM570.5 33.4L577 31.8L581.5 32.5L575 34.2ZM580.2 30.9L583.3 30.1L587.8 30.8L584.7 31.7ZM586.5 29.3L589.6 28.5L594.1 29.2L591 30Z" fill="#a6d898" stroke="#a6d898" stroke-width="0.15"/>
<path d="M437.2 39.9L441.1 39L445.4 39.8L441.5 40.7ZM448.8 37.2L452.6 36.4L456.9 37.1L453.1 38ZM485.5 28.8L489.1 27.9L493.3 28.7L489.8 29.5ZM506.3 24L509.7 23.2L513.9 23.9L510.5 24.7ZM464.4 35.4L468.1 34.5L472.4 35.3L468.7 36.2ZM471.8 33.7L475.4 32.8L479.7 33.6L476.1 34.5ZM517.2 23.1L520.5 22.3L524.7 23L521.4 23.8ZM501 28.6L507.9 27L512.2 27.7L505.3 29.3ZM454.6 43.2L458.5 42.2L462.9 43.1L459.1 44ZM473.7 38.6L477.4 37.8L481.8 38.5L478.1 39.4ZM529.9 25.2L533.2 24.5L537.5 25.2L534.2 26ZM443.3 47.8L447.3 46.8L451.8 47.7L447.8 48.6ZM451.3 45.9L455.2 44.9L459.6 45.8L455.7 46.7ZM459.1 44L462.9 43.1L467.4 43.9L463.5 44.8ZM478.1 39.4L481.8 38.5L486.2 39.3L482.5 40.2ZM485.5 37.7L489.1 36.8L493.5 37.6L489.9 38.5ZM503.5 33.3L507 32.5L511.3 33.3L507.8 34.1ZM520.8 29.2L524.2 28.4L528.5 29.1L525.1 29.9ZM478.7 41.1L482.5 40.2L486.9 41L483.2 42ZM497.1 36.7L504.3 35L508.7 35.7L501.5 37.5ZM511.3 33.3L514.8 32.4L519.2 33.2L515.7 34ZM541.8 25.9L545 25.1L549.3 25.8L546.1 26.6ZM448.3 50.5L452.3 49.5L456.8 50.4L452.8 51.3ZM460.2 47.6L468 45.7L472.5 46.5L464.7 48.4ZM483.2 42L486.9 41L491.4 41.9L487.7 42.8ZM519.2 33.2L526.1 31.5L530.5 32.2L523.6 33.9ZM532.8 29.8L536.2 29L540.6 29.8L537.2 30.6ZM480.1 44.6L483.9 43.7L488.4 44.5L484.6 45.5ZM502.4 39.2L506 38.3L510.4 39.1L506.8 40ZM530.5 32.2L533.8 31.4L538.2 32.2L534.9 33ZM560.1 25L563.3 24.2L567.6 24.9L564.4 25.7ZM469.3 49.3L473.1 48.3L477.7 49.2L473.8 50.1ZM506.8 40L510.4 39.1L514.9 39.9L511.3 40.8ZM517.5 37.3L521.1 36.4L525.5 37.2L522 38.1ZM564.4 25.7L567.6 24.9L572 25.6L568.8 26.4ZM511.3 40.8L514.9 39.9L519.4 40.7L515.8 41.6ZM555.9 29.6L559.2 28.8L563.6 29.5L560.4 30.3ZM568.8 26.4L572 25.6L576.3 26.3L573.2 27.1ZM508.6 43.4L512.2 42.5L516.8 43.3L513.1 44.2ZM540.4 35.4L543.8 34.5L548.2 35.3L544.8 36.2ZM560.4 30.3L563.6 29.5L568 30.3L564.8 31.1ZM509.5 45.2L513.1 44.2L517.7 45.1L514.1 46ZM531 39.7L534.5 38.8L539.1 39.6L535.6 40.5ZM544.8 36.2L548.2 35.3L552.7 36.1L549.4 36.9ZM554.9 33.6L558.2 32.8L562.7 33.5L559.4 34.4ZM574.4 28.6L577.6 27.8L582 28.6L578.9 29.4ZM483.8 53.8L487.7 52.8L492.3 53.6L488.5 54.7ZM525 43.2L528.5 42.3L533.1 43.1L529.5 44ZM535.6 40.5L539.1 39.6L543.6 40.4L540.1 41.3ZM556.1 35.2L559.4 34.4L563.9 35.1L560.6 36ZM569.3 31.8L572.5 31L577 31.8L573.8 32.6ZM578.9 29.4L582 28.6L586.5 29.3L583.3 30.1ZM488.5 54.7L492.3 53.6L497 54.5L493.2 55.5ZM503.8 50.7L507.6 49.7L512.3 50.6L508.5 51.5ZM529.5 44L533.1 43.1L537.7 43.9L534.2 44.8ZM536.6 42.2L543.6 40.4L548.2 41.2L541.2 43ZM553.9 37.7L557.3 36.8L561.8 37.6L558.5 38.5ZM583.3 30.1L586.5 29.3L591 30L587.8 30.8Z" fill="#70cc9c" stroke="#70cc9c" stroke-width="0.15"/>
<path d="M438 43.4L442 42.4L446.4 43.3L442.4 44.2ZM538.7 21.4L541.9 20.7L546.2 21.4L543 22.1ZM499.6 41.8L503.2 40.9L507.7 41.7L504.1 42.6ZM561.5 31.9L564.8 31.1L569.3 31.8L566 32.7ZM515 47.8L518.7 46.8L523.3 47.7L519.7 48.6ZM563.9 35.1L567.2 34.3L571.8 35L568.5 35.9Z" fill="#3fc09c" stroke="#3fc09c" stroke-width="0.15"/>
<path d="M510.5 24.7L513.9 23.9L518.1 24.6L514.7 25.4ZM538.5 26.7L541.8 25.9L546.1 26.6L542.8 27.4ZM551.6 34.4L554.9 33.6L559.4 34.4L556.1 35.2ZM582 28.6L585.2 27.8L589.6 28.5L586.5 29.3Z" fill="#23b1a2" stroke="#23b1a2" stroke-width="0.15"/>
<path d="M421.3 43.6L429.3 41.7L433.7 42.5L425.7 44.4ZM502.9 24.8L506.3 24L510.5 24.7L507.1 25.5ZM509.7 23.2L513 22.4L517.2 23.1L513.9 23.9ZM429.7 43.5L433.7 42.5L438 43.4L434.1 44.3ZM507.1 25.5L510.5 24.7L514.7 25.4L511.3 26.2ZM533.6 19.3L536.8 18.6L540.9 19.3L537.7 20ZM434.1 44.3L438 43.4L442.4 44.2L438.5 45.1ZM461.2 37.9L465 37.1L469.3 37.8L465.6 38.7ZM511.3 26.2L514.7 25.4L519 26.1L515.6 26.9ZM537.7 20L540.9 19.3L545.1 19.9L541.9 20.7ZM434.5 46.1L438.5 45.1L442.9 46L438.9 46.9ZM454.1 41.4L458 40.5L462.3 41.3L458.5 42.2ZM480.4 35.2L484 34.4L488.4 35.1L484.7 36ZM508.8 28.5L512.2 27.7L516.5 28.4L513.1 29.3ZM515.6 26.9L519 26.1L523.2 26.8L519.9 27.6ZM541.9 20.7L545.1 19.9L549.3 20.6L546.2 21.4ZM458.5 42.2L462.3 41.3L466.8 42.1L462.9 43.1ZM484.7 36L488.4 35.1L492.7 35.9L489.1 36.8ZM495.6 33.4L499.1 32.6L503.5 33.3L499.9 34.2ZM519.9 27.6L523.2 26.8L527.5 27.6L524.2 28.4ZM546.2 21.4L549.3 20.6L553.6 21.3L550.4 22.1ZM462.9 43.1L466.8 42.1L471.2 43L467.4 43.9ZM489.1 36.8L492.7 35.9L497.1 36.7L493.5 37.6ZM550.4 22.1L553.6 21.3L557.8 22L554.7 22.8ZM467.4 43.9L471.2 43L475.6 43.8L471.8 44.7ZM471.8 44.7L475.6 43.8L480.1 44.6L476.3 45.6ZM494.3 39.2L497.9 38.4L502.4 39.2L498.7 40ZM546.1 26.6L549.3 25.8L553.7 26.5L550.4 27.3ZM456.8 50.4L460.8 49.4L465.3 50.2L461.4 51.2ZM468.6 47.5L472.5 46.5L477 47.4L473.1 48.3ZM476.3 45.6L480.1 44.6L484.6 45.5L480.8 46.4ZM523.6 33.9L527 33.1L531.5 33.8L528 34.7ZM550.4 27.3L553.7 26.5L558 27.3L554.8 28.1ZM556.9 25.7L560.1 25L564.4 25.7L561.2 26.5ZM461.4 51.2L465.3 50.2L469.9 51.1L465.9 52.1ZM473.1 48.3L477 47.4L481.6 48.2L477.7 49.2ZM528 34.7L531.5 33.8L535.9 34.6L532.5 35.5ZM548.3 29.7L551.5 28.9L555.9 29.6L552.7 30.4ZM554.8 28.1L558 27.3L562.4 28L559.2 28.8ZM465.9 52.1L469.9 51.1L474.5 52L470.5 53ZM477.7 49.2L481.6 48.2L486.1 49.1L482.3 50ZM559.2 28.8L562.4 28L566.8 28.7L563.6 29.5ZM565.6 27.2L568.8 26.4L573.2 27.1L570 27.9ZM482.3 50L486.1 49.1L490.7 49.9L486.9 50.9ZM563.6 29.5L566.8 28.7L571.2 29.4L568 30.3ZM570 27.9L573.2 27.1L577.6 27.8L574.4 28.6ZM541.4 37L544.8 36.2L549.4 36.9L546 37.8ZM558.2 32.8L561.5 31.9L566 32.7L562.7 33.5ZM568 30.3L571.2 29.4L575.7 30.2L572.5 31ZM546 37.8L549.4 36.9L553.9 37.7L550.5 38.6ZM562.7 33.5L566 32.7L570.5 33.4L567.2 34.3ZM567.2 34.3L570.5 33.4L575 34.2L571.8 35Z" fill="#1a72b1" stroke="#1a72b1" stroke-width="0.15"/>
<path d="M445 38.1L448.8 37.2L453.1 38L449.3 38.9ZM456.4 35.5L460.1 34.6L464.4 35.4L460.7 36.3ZM474.8 31.2L478.4 30.4L482.7 31.2L479.1 32ZM482 29.6L485.5 28.8L489.8 29.5L486.2 30.3ZM529.4 18.6L532.6 17.9L536.8 18.6L533.6 19.3ZM425.7 44.4L429.7 43.5L434.1 44.3L430.1 45.2ZM456.9 37.1L460.7 36.3L465 37.1L461.2 37.9ZM468.1 34.5L471.8 33.7L476.1 34.5L472.4 35.3ZM479.1 32L482.7 31.2L486.9 31.9L483.3 32.7ZM486.2 30.3L489.8 29.5L494 30.2L490.5 31.1ZM513.9 23.9L517.2 23.1L521.4 23.8L518.1 24.6ZM520.5 22.3L523.8 21.6L528 22.3L524.7 23ZM430.1 45.2L434.1 44.3L438.5 45.1L434.5 46.1ZM465 37.1L468.7 36.2L473 37L469.3 37.8ZM476.1 34.5L486.9 31.9L491.2 32.7L480.4 35.2ZM518.1 24.6L521.4 23.8L525.6 24.5L522.3 25.3ZM524.7 23L528 22.3L532.2 23L529 23.8ZM430.4 47L434.5 46.1L438.9 46.9L434.9 47.9ZM458 40.5L461.8 39.6L466.2 40.4L462.3 41.3ZM465.6 38.7L469.3 37.8L473.7 38.6L469.9 39.5ZM484 34.4L491.2 32.7L495.6 33.4L488.4 35.1ZM494.8 31.8L498.3 31L502.6 31.7L499.1 32.6ZM522.3 25.3L525.6 24.5L529.9 25.2L526.6 26ZM529 23.8L532.2 23L536.5 23.7L533.2 24.5ZM442.9 46L446.8 45L451.3 45.9L447.3 46.8ZM462.3 41.3L469.9 39.5L474.3 40.3L466.8 42.1ZM481.1 36.9L484.7 36L489.1 36.8L485.5 37.7ZM492 34.3L495.6 33.4L499.9 34.2L496.3 35ZM513.1 29.3L516.5 28.4L520.8 29.2L517.4 30ZM533.2 24.5L536.5 23.7L540.7 24.4L537.5 25.2ZM439.3 48.7L443.3 47.8L447.8 48.6L443.8 49.6ZM447.3 46.8L451.3 45.9L455.7 46.7L451.8 47.7ZM481.8 38.5L485.5 37.7L489.9 38.5L486.2 39.3ZM496.3 35L503.5 33.3L507.8 34.1L500.7 35.8ZM524.2 28.4L527.5 27.6L531.9 28.3L528.5 29.1ZM537.5 25.2L540.7 24.4L545 25.1L541.8 25.9ZM447.8 48.6L455.7 46.7L460.2 47.6L452.3 49.5ZM463.5 44.8L467.4 43.9L471.8 44.7L468 45.7ZM482.5 40.2L486.2 39.3L490.6 40.1L486.9 41ZM489.9 38.5L497.1 36.7L501.5 37.5L494.3 39.2ZM504.3 35L511.3 33.3L515.7 34L508.7 35.7ZM452.3 49.5L456.3 48.5L460.8 49.4L456.8 50.4ZM468 45.7L471.8 44.7L476.3 45.6L472.5 46.5ZM486.9 41L490.6 40.1L495.1 40.9L491.4 41.9ZM497.9 38.4L505.1 36.6L509.5 37.4L502.4 39.2ZM508.7 35.7L515.7 34L520.1 34.8L513.1 36.5ZM539.5 28.2L542.8 27.4L547.2 28.1L543.9 28.9ZM460.8 49.4L464.7 48.4L469.3 49.3L465.3 50.2ZM472.5 46.5L476.3 45.6L480.8 46.4L477 47.4ZM498.7 40L502.4 39.2L506.8 40L503.2 40.9ZM506 38.3L509.5 37.4L514 38.2L510.4 39.1ZM516.6 35.6L520.1 34.8L524.6 35.6L521.1 36.4ZM537.2 30.6L540.6 29.8L544.9 30.5L541.6 31.3ZM543.9 28.9L547.2 28.1L551.5 28.9L548.3 29.7ZM477 47.4L480.8 46.4L485.4 47.2L481.6 48.2ZM488.4 44.5L492.2 43.6L496.7 44.4L492.9 45.4ZM503.2 40.9L506.8 40L511.3 40.8L507.7 41.7ZM541.6 31.3L544.9 30.5L549.4 31.2L546 32.1ZM561.2 26.5L564.4 25.7L568.8 26.4L565.6 27.2ZM481.6 48.2L485.4 47.2L490 48.1L486.1 49.1ZM492.9 45.4L496.7 44.4L501.2 45.3L497.5 46.2ZM507.7 41.7L511.3 40.8L515.8 41.6L512.2 42.5ZM514.9 39.9L518.5 39L523 39.8L519.4 40.7ZM532.5 35.5L535.9 34.6L540.4 35.4L536.9 36.2ZM546 32.1L549.4 31.2L553.8 32L550.5 32.8ZM552.7 30.4L555.9 29.6L560.4 30.3L557.1 31.2ZM486.1 49.1L490 48.1L494.5 49L490.7 49.9ZM497.5 46.2L501.2 45.3L505.8 46.1L502.1 47ZM519.4 40.7L523 39.8L527.5 40.6L524 41.5ZM536.9 36.2L540.4 35.4L544.8 36.2L541.4 37ZM553.8 32L560.4 30.3L564.8 31.1L558.2 32.8ZM576.3 26.3L579.5 25.5L583.9 26.2L580.8 27ZM486.9 50.9L490.7 49.9L495.4 50.8L491.5 51.8ZM502.1 47L505.8 46.1L510.4 46.9L506.7 47.9ZM580.8 27L583.9 26.2L588.3 27L585.2 27.8ZM475.9 55.8L479.8 54.8L484.5 55.7L480.6 56.7ZM487.7 52.8L491.5 51.8L496.2 52.6L492.3 53.6ZM506.7 47.9L510.4 46.9L515 47.8L511.3 48.7ZM514.1 46L517.7 45.1L522.3 45.9L518.7 46.8ZM521.4 44.1L525 43.2L529.5 44L526 44.9ZM585.2 27.8L588.3 27L592.7 27.7L589.6 28.5ZM480.6 56.7L484.5 55.7L489.2 56.6L485.3 57.6ZM492.3 53.6L496.2 52.6L500.9 53.5L497 54.5ZM518.7 46.8L522.3 45.9L527 46.7L523.3 47.7ZM526 44.9L529.5 44L534.2 44.8L530.6 45.8ZM589.6 28.5L592.7 27.7L597.2 28.4L594.1 29.2Z" fill="#1a61ad" stroke="#1a61ad" stroke-width="0.15"/>
<path d="M417.3 44.5L421.3 43.6L425.7 44.4L421.7 45.3ZM471.2 32.1L474.8 31.2L479.1 32L475.4 32.8ZM421.7 45.3L425.7 44.4L430.1 45.2L426 46.2ZM449.3 38.9L453.1 38L457.4 38.8L453.6 39.7ZM460.7 36.3L464.4 35.4L468.7 36.2L465 37.1ZM475.4 32.8L479.1 32L483.3 32.7L479.7 33.6ZM426 46.2L430.1 45.2L434.5 46.1L430.4 47ZM453.6 39.7L461.2 37.9L465.6 38.7L458 40.5ZM468.7 36.2L476.1 34.5L480.4 35.2L473 37ZM490.5 31.1L494 30.2L498.3 31L494.8 31.8ZM461.8 39.6L465.6 38.7L469.9 39.5L466.2 40.4ZM469.3 37.8L480.4 35.2L484.7 36L473.7 38.6ZM434.9 47.9L438.9 46.9L443.3 47.8L439.3 48.7ZM477.4 37.8L481.1 36.9L485.5 37.7L481.8 38.5ZM488.4 35.1L492 34.3L496.3 35L492.7 35.9ZM470.6 41.2L474.3 40.3L478.7 41.1L475 42.1ZM520.1 34.8L523.6 33.9L528 34.7L524.6 35.6ZM457.4 52.2L461.4 51.2L465.9 52.1L462 53.1ZM465.3 50.2L469.3 49.3L473.8 50.1L469.9 51.1ZM510.4 39.1L514 38.2L518.5 39L514.9 39.9ZM524.6 35.6L528 34.7L532.5 35.5L529 36.3ZM462 53.1L465.9 52.1L470.5 53L466.6 54ZM469.9 51.1L473.8 50.1L478.4 51L474.5 52ZM529 36.3L532.5 35.5L536.9 36.2L533.5 37.1ZM466.6 54L470.5 53L475.2 53.9L471.2 54.9ZM474.5 52L482.3 50L486.9 50.9L479.1 52.9ZM471.2 54.9L475.2 53.9L479.8 54.8L475.9 55.8ZM483 51.9L486.9 50.9L491.5 51.8L487.7 52.8ZM524 41.5L527.5 40.6L532.1 41.4L528.5 42.3ZM511.3 48.7L515 47.8L519.7 48.6L516 49.6Z" fill="#1d53a4" stroke="#1d53a4" stroke-width="0.15"/>
<path d="M445.9 41.5L449.8 40.6L454.1 41.4L450.3 42.3ZM525.1 29.9L528.5 29.1L532.8 29.8L529.5 30.7ZM529.5 30.7L532.8 29.8L537.2 30.6L533.8 31.4ZM533.8 31.4L537.2 30.6L541.6 31.3L538.2 32.2ZM538.2 32.2L541.6 31.3L546 32.1L542.7 32.9ZM539.3 33.8L546 32.1L550.5 32.8L543.8 34.5ZM543.8 34.5L550.5 32.8L554.9 33.6L548.2 35.3ZM548.2 35.3L551.6 34.4L556.1 35.2L552.7 36.1ZM577 31.8L580.2 30.9L584.7 31.7L581.5 32.5Z" fill="#1f459c" stroke="#1f459c" stroke-width="0.15"/>
<path d="M433.3 40.8L437.2 39.9L441.5 40.7L437.6 41.6ZM489.1 27.9L492.6 27.1L496.8 27.9L493.3 28.7ZM437.6 41.6L441.5 40.7L445.9 41.5L442 42.4ZM493.3 28.7L496.8 27.9L501 28.6L497.5 29.4ZM527.1 20.8L530.3 20.1L534.5 20.8L531.3 21.5ZM442 42.4L445.9 41.5L450.3 42.3L446.4 43.3ZM497.5 29.4L501 28.6L505.3 29.3L501.8 30.2ZM531.3 21.5L534.5 20.8L538.7 21.4L535.5 22.2ZM442.4 44.2L454.1 41.4L458.5 42.2L446.8 45ZM501.8 30.2L508.8 28.5L513.1 29.3L506.1 30.9ZM535.5 22.2L538.7 21.4L543 22.1L539.7 22.9ZM446.8 45L454.6 43.2L459.1 44L451.3 45.9ZM506.1 30.9L513.1 29.3L517.4 30L510.5 31.7ZM539.7 22.9L543 22.1L547.2 22.8L544 23.6ZM513.9 30.8L517.4 30L521.7 30.7L518.3 31.6ZM518.3 31.6L521.7 30.7L526.1 31.5L522.6 32.3ZM487.7 42.8L491.4 41.9L495.9 42.7L492.2 43.6ZM553.7 26.5L556.9 25.7L561.2 26.5L558 27.3ZM492.2 43.6L495.9 42.7L500.4 43.5L496.7 44.4ZM558 27.3L561.2 26.5L565.6 27.2L562.4 28ZM496.7 44.4L500.4 43.5L504.9 44.3L501.2 45.3ZM562.4 28L565.6 27.2L570 27.9L566.8 28.7ZM501.2 45.3L504.9 44.3L509.5 45.2L505.8 46.1ZM523 39.8L526.5 38.9L531 39.7L527.5 40.6ZM566.8 28.7L570 27.9L574.4 28.6L571.2 29.4ZM505.8 46.1L509.5 45.2L514.1 46L510.4 46.9ZM571.2 29.4L574.4 28.6L578.9 29.4L575.7 30.2ZM575.7 30.2L578.9 29.4L583.3 30.1L580.2 30.9ZM533.1 43.1L536.6 42.2L541.2 43L537.7 43.9Z" fill="#1f3784" stroke="#1f3784" stroke-width="0.15"/>
<path d="M544 23.6L547.2 22.8L551.5 23.5L548.3 24.3ZM527.5 40.6L531 39.7L535.6 40.5L532.1 41.4ZM532.1 41.4L535.6 40.5L540.1 41.3L536.6 42.2Z" fill="#1e2a6c" stroke="#1e2a6c" stroke-width="0.15"/>
<path d="M416.5,32.5 L532.6,8.9 L598.6,18.5 M416.5,32.5 L419.8,154.8 L485.5,177.5 L594.8,130.8 L598.6,18.5" stroke="#1a1a1a" stroke-width="0.8" fill="none"/>
<path d="M414,44.8 H417" stroke="#1a1a1a" stroke-width="0.7"/>
<text x="0" y="0" transform="translate(412.3,48.6) scale(0.75,1)" text-anchor="end" style="font-family:'Liberation Sans',sans-serif;font-size:10.5px" fill="#111">3</text>
<path d="M414,96.6 H417" stroke="#1a1a1a" stroke-width="0.7"/>
<text x="0" y="0" transform="translate(412.3,100.4) scale(0.75,1)" text-anchor="end" style="font-family:'Liberation Sans',sans-serif;font-size:10.5px" fill="#111">2</text>
<path d="M414,146.2 H417" stroke="#1a1a1a" stroke-width="0.7"/>
<text x="0" y="0" transform="translate(412.3,150) scale(0.75,1)" text-anchor="end" style="font-family:'Liberation Sans',sans-serif;font-size:10.5px" fill="#111">1</text>
<text transform="translate(405.2,100.5) rotate(-90) scale(1.25,1)" text-anchor="middle" style="font-family:'Liberation Sans',sans-serif;font-size:11.5px" fill="#111">Array Index</text>
<path d="M440.9,161.7 l2.2,-1" stroke="#1a1a1a" stroke-width="0.8" fill="none"/>
<path d="M463.2,169.6 l2.2,-1" stroke="#1a1a1a" stroke-width="0.8" fill="none"/>
<path d="M485.5,177.5 l2.2,-1" stroke="#1a1a1a" stroke-width="0.8" fill="none"/>
<text transform="translate(435.5,167.4) rotate(-62) scale(0.7,1)" text-anchor="middle" style="font-family:'Liberation Sans',sans-serif;font-size:7px" fill="#222">5</text>
<text transform="translate(457,174.8) rotate(-62) scale(0.7,1)" text-anchor="middle" style="font-family:'Liberation Sans',sans-serif;font-size:7px" fill="#222">10</text>
<text transform="translate(481,183) rotate(-62) scale(0.7,1)" text-anchor="middle" style="font-family:'Liberation Sans',sans-serif;font-size:7px" fill="#222">15</text>
<text transform="translate(430.5,178.8) rotate(29) scale(1.1,0.85)" text-anchor="middle" style="font-family:'Liberation Sans',sans-serif;font-size:10.5px" fill="#222">Row</text>
<path d="M513.2,165 l-1.5,-1.8" stroke="#1a1a1a" stroke-width="0.8" fill="none"/>
<path d="M541.7,153.2 l-1.5,-1.8" stroke="#1a1a1a" stroke-width="0.8" fill="none"/>
<path d="M567.3,140.9 l-1.5,-1.8" stroke="#1a1a1a" stroke-width="0.8" fill="none"/>
<text transform="translate(523,168.9) rotate(-68) scale(0.7,1)" text-anchor="middle" style="font-family:'Liberation Sans',sans-serif;font-size:7px" fill="#222">8</text>
<text transform="translate(552.4,156.6) rotate(-68) scale(0.7,1)" text-anchor="middle" style="font-family:'Liberation Sans',sans-serif;font-size:7px" fill="#222">16</text>
<text transform="translate(579.9,145.2) rotate(-68) scale(0.7,1)" text-anchor="middle" style="font-family:'Liberation Sans',sans-serif;font-size:7px" fill="#222">24</text>
<text transform="translate(602.7,134.4) rotate(-68) scale(0.7,1)" text-anchor="middle" style="font-family:'Liberation Sans',sans-serif;font-size:7px" fill="#222">32</text>
<text transform="translate(571,161.5) rotate(-22) scale(1.18,0.85)" text-anchor="middle" style="font-family:'Liberation Sans',sans-serif;font-size:10.5px" fill="#222">Column</text>
<defs><linearGradient id="cbg" x1="0" y1="1" x2="0" y2="0"><stop offset="0%" stop-color="#efe57a"/><stop offset="7%" stop-color="#d5e08a"/><stop offset="14%" stop-color="#a8d898"/><stop offset="22%" stop-color="#6ccb9c"/><stop offset="29%" stop-color="#3cbf9c"/><stop offset="36%" stop-color="#22b0a2"/><stop offset="43%" stop-color="#14a0aa"/><stop offset="57%" stop-color="#1a84b6"/><stop offset="71%" stop-color="#1a62ad"/><stop offset="86%" stop-color="#1f449c"/><stop offset="100%" stop-color="#1e2a6c"/></linearGradient></defs>
<rect x="621.2" y="27.9" width="16.4" height="141.3" fill="url(#cbg)" stroke="#222" stroke-width="0.7"/>
<path d="M637.6,169.2 h-2.6" stroke="#222" stroke-width="0.8"/>
<text x="640.3" y="172.4" style="font-family:'Liberation Sans',sans-serif;font-size:9px" fill="#111">0</text>
<path d="M637.6,149 h-2.6" stroke="#222" stroke-width="0.8"/>
<text x="640.3" y="152.2" style="font-family:'Liberation Sans',sans-serif;font-size:9px" fill="#111">10</text>
<path d="M637.6,128.8 h-2.6" stroke="#222" stroke-width="0.8"/>
<text x="640.3" y="132" style="font-family:'Liberation Sans',sans-serif;font-size:9px" fill="#111">20</text>
<path d="M637.6,108.6 h-2.6" stroke="#222" stroke-width="0.8"/>
<text x="640.3" y="111.8" style="font-family:'Liberation Sans',sans-serif;font-size:9px" fill="#111">30</text>
<path d="M637.6,88.5 h-2.6" stroke="#222" stroke-width="0.8"/>
<text x="640.3" y="91.7" style="font-family:'Liberation Sans',sans-serif;font-size:9px" fill="#111">40</text>
<path d="M637.6,68.3 h-2.6" stroke="#222" stroke-width="0.8"/>
<text x="640.3" y="71.5" style="font-family:'Liberation Sans',sans-serif;font-size:9px" fill="#111">50</text>
<path d="M637.6,48.1 h-2.6" stroke="#222" stroke-width="0.8"/>
<text x="640.3" y="51.3" style="font-family:'Liberation Sans',sans-serif;font-size:9px" fill="#111">60</text>
<path d="M637.6,27.9 h-2.6" stroke="#222" stroke-width="0.8"/>
<text x="640.3" y="31.1" style="font-family:'Liberation Sans',sans-serif;font-size:9px" fill="#111">70</text>
<text x="630.7" y="15.8" text-anchor="middle" style="font-family:'Liberation Sans',sans-serif;font-size:12.3px" fill="#111">G (μS)</text>
<path d="M250.6,291 C250.2,297 249.6,303 249.2,307 C248.5,313 243,316 235.5,317" fill="none" stroke="#3cb043" stroke-width="0.8"/>
<circle cx="247.3" cy="312.5" r="14.2" fill="none" stroke="#d62728" stroke-width="1"/>
<rect x="266.8" y="301.6" width="42.3" height="20.3" fill="#fff" stroke="#d62728" stroke-width="1"/>
<text x="288" y="309.7" text-anchor="middle" style="font-family:'Liberation Sans',sans-serif;font-size:7.9px" fill="#d62728">Intolerable</text>
<text x="288" y="318.9" text-anchor="middle" style="font-family:'Liberation Sans',sans-serif;font-size:7.9px" fill="#d62728">Error</text>
<path d="M552.7,222 L613.8,271.8 M536.7,249.3 L612.2,275.5" fill="none" stroke="#333" stroke-width="0.8" stroke-dasharray="2.2,1.5"/>
<circle cx="537.5" cy="231.9" r="17.5" fill="#fff" stroke="#333" stroke-width="0.9"/>
<path d="M525.9,238.6 C535,232.5 543,228 552.7,223.2" fill="none" stroke="#f07a7a" stroke-width="0.9"/>
<path d="M539.9,230.6 C545,228 549,226.5 552.7,224.8" fill="none" stroke="#6fc0f0" stroke-width="0.9"/>
<circle cx="615.4" cy="275" r="2.7" fill="none" stroke="#222" stroke-width="0.9"/>
<path d="M616,408.8 Q630,414 639.2,434.5 L642.5,432.7 L641.4,442.6 L632.3,438.3 L635.4,436.6 Q625,419 616,408.8Z" fill="#3b4fc8"/>
<path d="M607.6,425.3 Q619,428 624,439.2 L627,437.2 L626.7,446.2 L617.7,443.4 L620.7,441.4 Q615,431 607.6,425.3Z" fill="#e23d9e"/>
</g>
</svg>

</body></html>
